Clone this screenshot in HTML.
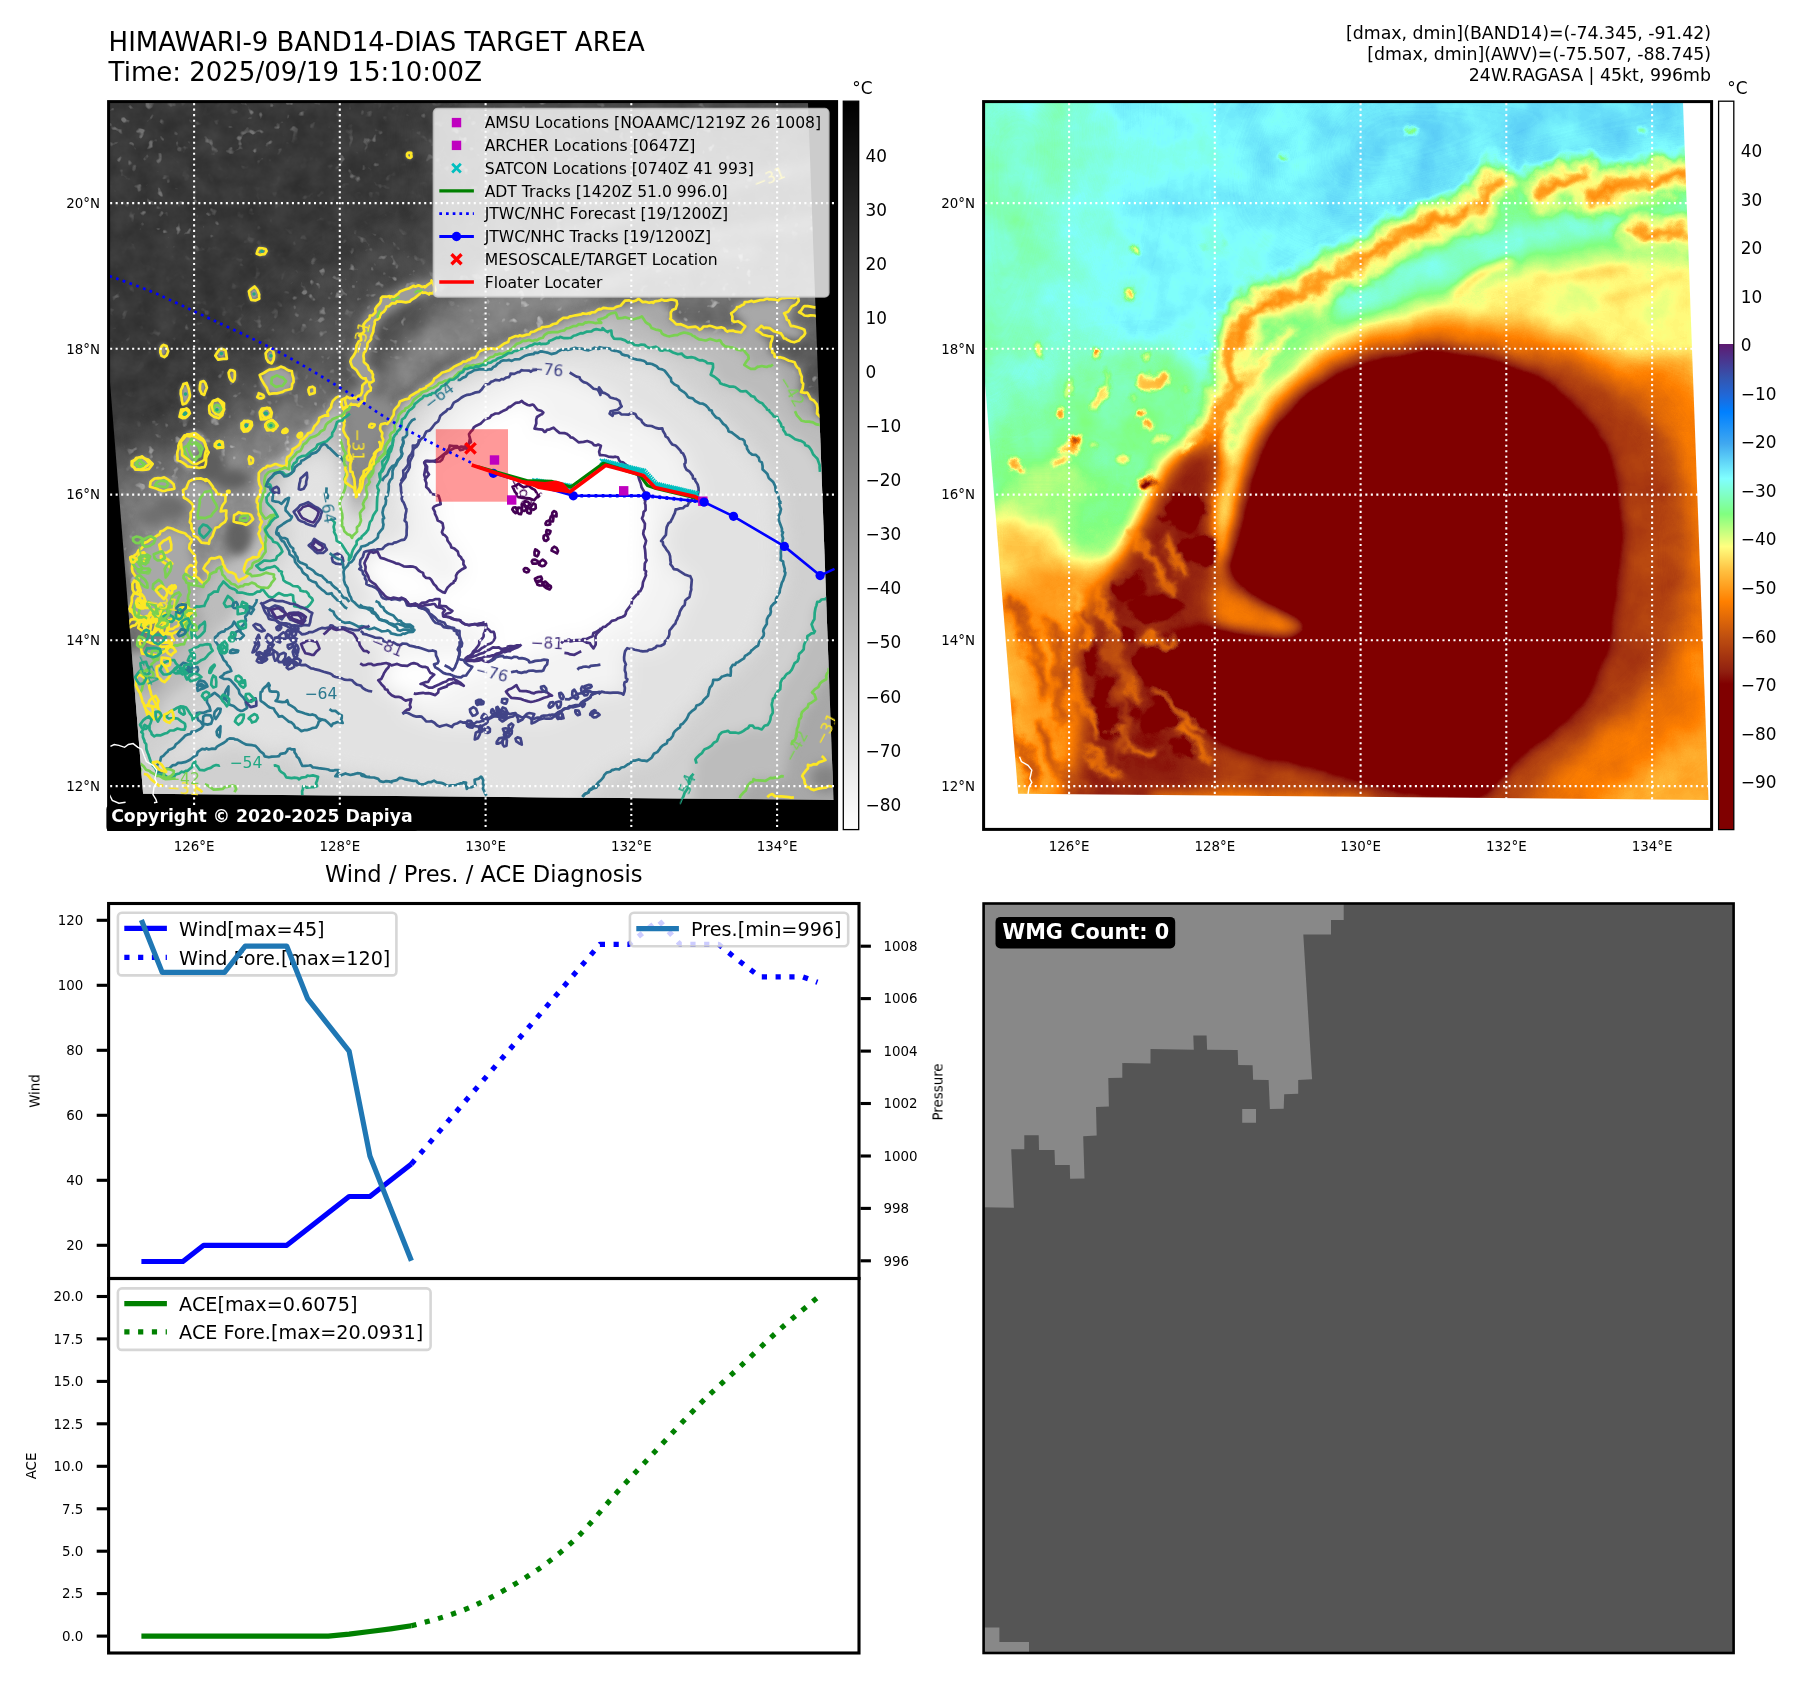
<!DOCTYPE html><html><head><meta charset="utf-8"><title>HIMAWARI-9 BAND14-DIAS TARGET AREA</title><style>html,body{margin:0;padding:0;background:#fff}svg{display:block}text{will-change:opacity;font-family:"DejaVu Sans","Liberation Sans",sans-serif}</style></head><body><svg width="1801" height="1690" viewBox="0 0 1801 1690"><defs><filter id="b2" filterUnits="userSpaceOnUse" x="0" y="0" width="1801" height="900" color-interpolation-filters="sRGB"><feGaussianBlur stdDeviation="2"/></filter><filter id="b3" filterUnits="userSpaceOnUse" x="0" y="0" width="1801" height="900" color-interpolation-filters="sRGB"><feGaussianBlur stdDeviation="3"/></filter><filter id="b4" filterUnits="userSpaceOnUse" x="0" y="0" width="1801" height="900" color-interpolation-filters="sRGB"><feGaussianBlur stdDeviation="4"/></filter><filter id="b6" filterUnits="userSpaceOnUse" x="0" y="0" width="1801" height="900" color-interpolation-filters="sRGB"><feGaussianBlur stdDeviation="6"/></filter><filter id="b8" filterUnits="userSpaceOnUse" x="0" y="0" width="1801" height="900" color-interpolation-filters="sRGB"><feGaussianBlur stdDeviation="8"/></filter><filter id="b10" filterUnits="userSpaceOnUse" x="0" y="0" width="1801" height="900" color-interpolation-filters="sRGB"><feGaussianBlur stdDeviation="10"/></filter><filter id="b12" filterUnits="userSpaceOnUse" x="0" y="0" width="1801" height="900" color-interpolation-filters="sRGB"><feGaussianBlur stdDeviation="12"/></filter><filter id="b20" filterUnits="userSpaceOnUse" x="0" y="0" width="1801" height="900" color-interpolation-filters="sRGB"><feGaussianBlur stdDeviation="20"/></filter><filter id="b25" filterUnits="userSpaceOnUse" x="0" y="0" width="1801" height="900" color-interpolation-filters="sRGB"><feGaussianBlur stdDeviation="25"/></filter><filter id="b30" filterUnits="userSpaceOnUse" x="0" y="0" width="1801" height="900" color-interpolation-filters="sRGB"><feGaussianBlur stdDeviation="30"/></filter><filter id="b40" filterUnits="userSpaceOnUse" x="0" y="0" width="1801" height="900" color-interpolation-filters="sRGB"><feGaussianBlur stdDeviation="40"/></filter><filter id="wig6" filterUnits="userSpaceOnUse" x="60" y="60" width="1720" height="800" color-interpolation-filters="sRGB"><feTurbulence type="fractalNoise" baseFrequency="0.045" numOctaves="3" seed="2" result="t"/><feDisplacementMap in="SourceGraphic" in2="t" scale="22" xChannelSelector="R" yChannelSelector="G"/></filter><filter id="wigc" filterUnits="userSpaceOnUse" x="60" y="60" width="1720" height="800" color-interpolation-filters="sRGB"><feTurbulence type="fractalNoise" baseFrequency="0.06" numOctaves="3" seed="5" result="t"/><feDisplacementMap in="SourceGraphic" in2="t" scale="7" xChannelSelector="R" yChannelSelector="G"/></filter><filter id="wig4" filterUnits="userSpaceOnUse" x="60" y="60" width="1720" height="800" color-interpolation-filters="sRGB"><feTurbulence type="fractalNoise" baseFrequency="0.08" numOctaves="3" seed="9" result="t"/><feDisplacementMap in="SourceGraphic" in2="t" scale="9" xChannelSelector="R" yChannelSelector="G"/></filter><filter id="lut" x="0" y="0" width="1" height="1" filterUnits="objectBoundingBox" color-interpolation-filters="sRGB"><feTurbulence type="fractalNoise" baseFrequency="0.022" numOctaves="5" seed="3" result="n"/><feColorMatrix in="n" type="matrix" values="1 0 0 0 0  1 0 0 0 0  1 0 0 0 0  0 0 0 0 1" result="ng"/><feComposite in="SourceGraphic" in2="ng" operator="arithmetic" k1="0" k2="1" k3="0.09" k4="-0.045" result="f"/><feComponentTransfer in="f"><feFuncR type="table" tableValues="0.074 0.055 0.037 0.018 0.000 0.019 0.039 0.058 0.077 0.097 0.116 0.135 0.154 0.174 0.193 0.212 0.232 0.251 0.268 0.286 0.303 0.321 0.338 0.356 0.373 0.390 0.408 0.425 0.443 0.460 0.478 0.495 0.502 0.502 0.502 0.502 0.502 0.502 0.502 0.502 0.502 0.502 0.502 0.502 0.502 0.502 0.502 0.539 0.576 0.613 0.651 0.688 0.725 0.762 0.799 0.836 0.874 0.911 0.948 0.985 1.000 1.000 1.000 1.000 1.000 1.000 1.000 1.000 1.000 1.000 1.000 1.000 1.000 1.000 1.000 1.000 1.000 1.000 1.000 1.000 1.000 1.000 1.000 0.983 0.966 0.949 0.931 0.914 0.897 0.880 0.863 0.846 0.828 0.811 0.794 0.777 0.760 0.745 0.732 0.719 0.706 0.693 0.680 0.667 0.654 0.641 0.627 0.614 0.601 0.588 0.575 0.562 0.550 0.538 0.526 0.514 0.502 0.502 0.502 0.502 0.502 0.502 0.502 0.502 0.502 0.502 0.502 0.502 0.502 0.502 0.502 0.502 0.502"/><feFuncG type="table" tableValues="0.447 0.460 0.474 0.488 0.502 0.514 0.526 0.538 0.550 0.562 0.574 0.586 0.598 0.611 0.623 0.635 0.647 0.659 0.683 0.706 0.730 0.754 0.777 0.801 0.825 0.848 0.872 0.896 0.919 0.943 0.967 0.991 1.000 1.000 1.000 1.000 1.000 1.000 1.000 1.000 1.000 1.000 1.000 1.000 1.000 1.000 1.000 1.000 1.000 1.000 1.000 1.000 1.000 1.000 1.000 1.000 1.000 1.000 1.000 1.000 0.985 0.960 0.936 0.911 0.886 0.862 0.837 0.812 0.788 0.763 0.741 0.721 0.701 0.681 0.661 0.641 0.621 0.602 0.582 0.562 0.542 0.522 0.502 0.489 0.476 0.463 0.450 0.437 0.424 0.410 0.397 0.384 0.371 0.358 0.345 0.332 0.319 0.306 0.293 0.280 0.267 0.254 0.241 0.227 0.214 0.201 0.188 0.175 0.162 0.149 0.136 0.121 0.097 0.072 0.048 0.024 0.000 0.000 0.000 0.000 0.000 0.000 0.000 0.000 0.000 0.000 0.000 0.000 0.000 0.000 0.000 0.000 0.000"/><feFuncB type="table" tableValues="0.910 0.933 0.955 0.978 1.000 0.995 0.991 0.986 0.982 0.977 0.973 0.968 0.964 0.959 0.955 0.950 0.946 0.941 0.945 0.949 0.953 0.958 0.962 0.966 0.970 0.974 0.978 0.982 0.986 0.990 0.994 0.998 0.980 0.945 0.911 0.877 0.843 0.809 0.775 0.741 0.707 0.673 0.638 0.604 0.570 0.536 0.502 0.502 0.502 0.502 0.502 0.502 0.502 0.502 0.502 0.502 0.502 0.502 0.502 0.502 0.487 0.462 0.437 0.412 0.387 0.361 0.336 0.311 0.286 0.261 0.239 0.219 0.199 0.179 0.159 0.139 0.120 0.100 0.080 0.060 0.040 0.020 0.000 0.004 0.009 0.013 0.017 0.022 0.026 0.031 0.035 0.039 0.044 0.048 0.052 0.057 0.061 0.063 0.063 0.063 0.063 0.063 0.063 0.063 0.063 0.063 0.063 0.063 0.063 0.063 0.063 0.060 0.048 0.036 0.024 0.012 0.000 0.000 0.000 0.000 0.000 0.000 0.000 0.000 0.000 0.000 0.000 0.000 0.000 0.000 0.000 0.000 0.000"/></feComponentTransfer></filter><filter id="tln" filterUnits="userSpaceOnUse" x="60" y="60" width="820" height="800" color-interpolation-filters="sRGB"><feTurbulence type="fractalNoise" baseFrequency="0.045" numOctaves="4" seed="8" result="n"/><feColorMatrix in="n" type="matrix" values="1 0 0 0 0  1 0 0 0 0  1 0 0 0 0  0 0 0 0 1" result="ng"/><feComposite in="SourceGraphic" in2="ng" operator="arithmetic" k1="0" k2="1" k3="0.10" k4="-0.05" result="f1"/><feTurbulence type="fractalNoise" baseFrequency="0.11" numOctaves="2" seed="21" result="s"/><feColorMatrix in="s" type="matrix" values="0 7 0 0 -4.5  0 7 0 0 -4.5  0 7 0 0 -4.5  0 0 0 0 1" result="sp"/><feTurbulence type="fractalNoise" baseFrequency="0.012" numOctaves="2" seed="33" result="lf"/><feColorMatrix in="lf" type="matrix" values="0 0 6 0 -2.7  0 0 6 0 -2.7  0 0 6 0 -2.7  0 0 0 0 1" result="lfm"/><feComposite in="sp" in2="lfm" operator="arithmetic" k1="1" k2="0.07" k3="0" k4="0" result="sp2"/><feComposite in="f1" in2="sp2" operator="arithmetic" k1="0" k2="1" k3="0.22" k4="0"/></filter><clipPath id="cpTL"><path d="M87.5,103.0 L143.1,793.7 L833.5,800.0 L808.0,103.0Z"/></clipPath><clipPath id="cpTR"><path d="M962.5,103.0 L1018.1,793.7 L1708.5,800.0 L1683.0,103.0Z"/></clipPath><clipPath id="axTL"><rect x="108.6" y="101.6" width="728.0" height="727.8"/></clipPath><clipPath id="axTR"><rect x="983.6" y="101.6" width="728.0" height="727.8"/></clipPath></defs><rect width="1801" height="1690" fill="#fff"/><text x="108.6" y="50.8" font-size="26" text-anchor="start" font-weight="normal" fill="#000" >HIMAWARI-9 BAND14-DIAS TARGET AREA</text><text x="108.6" y="80.8" font-size="26" text-anchor="start" font-weight="normal" fill="#000" >Time: 2025/09/19 15:10:00Z</text><text x="1711.0" y="38.8" font-size="17.38" text-anchor="end" font-weight="normal" fill="#000" >[dmax, dmin](BAND14)=(-74.345, -91.42)</text><text x="1711.0" y="59.6" font-size="17.38" text-anchor="end" font-weight="normal" fill="#000" >[dmax, dmin](AWV)=(-75.507, -88.745)</text><text x="1711.0" y="80.6" font-size="17.38" text-anchor="end" font-weight="normal" fill="#000" >24W.RAGASA | 45kt, 996mb</text><text x="483.8" y="881.8" font-size="22.6" text-anchor="middle" font-weight="normal" fill="#000" >Wind / Pres. / ACE Diagnosis</text><rect x="108.6" y="101.6" width="728.0" height="727.8" fill="#000"/><g clip-path="url(#axTL)"><g clip-path="url(#cpTL)"><g filter="url(#tln)"><rect x="60" y="60" width="820" height="800" fill="#383838"/><g filter="url(#b30)"><ellipse cx="560" cy="540" rx="370" ry="320" fill="#565656"/><path d="M430,330 L520,250 L700,180 L880,150 L880,330 L600,320 Z" fill="#747474"/><path d="M430,105 L830,105 L830,250 L600,260 L480,300 Z" fill="#5c5c5c"/><path d="M100,480 L340,390 L360,520 L140,800 Z" fill="#8c8c8c"/></g><path d="M520,275 L470,292 L430,320 L395,355 L375,395 L372,420 L392,405 L420,382 L450,362 L485,345 L520,332 L560,318 L600,306 L600,290 Z" fill="#828282" filter="url(#b8)"/><g filter="url(#b6)" stroke="#8c8c8c" stroke-width="10" fill="none" stroke-linecap="round"><path d="M480,275 Q600,215 760,178 T830,160"/><path d="M640,250 Q730,230 825,222"/><path d="M560,300 Q650,262 760,250"/></g></g><path d="M434.5,286.0 C433.4,286.3 430.4,287.4 428.0,288.0 C425.6,288.6 422.8,289.1 420.2,289.9 C417.6,290.6 415.0,291.6 412.4,292.5 C409.8,293.4 407.2,294.0 404.6,295.1 C402.0,296.2 399.3,297.6 396.7,299.1 C394.1,300.6 391.5,302.5 388.9,304.3 C386.3,306.1 383.5,308.2 381.1,310.1 C378.7,312.1 376.6,313.7 374.6,316.0 C372.7,318.3 370.7,321.0 369.4,323.8 C368.1,326.6 367.7,329.6 366.8,332.9 C365.9,336.1 365.1,339.8 364.2,343.3 C363.3,346.8 362.7,350.4 361.6,353.7 C360.5,356.9 357.5,360.0 357.7,362.8 C357.9,365.6 360.7,368.2 362.9,370.6 C365.1,373.0 369.8,374.8 370.7,377.2 C371.6,379.6 369.4,382.4 368.1,385.0 C366.8,387.6 365.1,390.2 362.9,392.8 C360.7,395.4 357.7,398.9 355.1,400.6 C352.5,402.3 349.7,402.3 347.3,403.2 C344.9,404.1 341.9,405.4 340.8,405.8" fill="none" stroke="#8c8c8c" stroke-width="16" filter="url(#b4)" stroke-linecap="round"/><g filter="url(#b2)" fill="#a0a0a0"><ellipse cx="141.2" cy="463.9" rx="9.9" ry="7.1"/><ellipse cx="162.5" cy="483.8" rx="12.8" ry="6.4"/><ellipse cx="192.4" cy="452.5" rx="13.5" ry="18.5"/><ellipse cx="185.3" cy="413.5" rx="4.0" ry="4.0"/><ellipse cx="217.9" cy="408.5" rx="6.4" ry="7.1"/><ellipse cx="246.3" cy="425.6" rx="5.4" ry="5.4"/><ellipse cx="266.2" cy="413.5" rx="4.5" ry="4.3"/><ellipse cx="271.9" cy="425.6" rx="6.4" ry="4.5"/><ellipse cx="219.3" cy="444.7" rx="4.0" ry="3.1"/><ellipse cx="250.6" cy="461.1" rx="2.3" ry="3.1"/><ellipse cx="243.5" cy="519.3" rx="9.2" ry="6.4"/><ellipse cx="298.9" cy="435.5" rx="2.0" ry="2.0"/><ellipse cx="286.1" cy="430.5" rx="1.4" ry="1.4"/><ellipse cx="227.9" cy="490.9" rx="1.1" ry="1.1"/><ellipse cx="205.1" cy="480.2" rx="1.1" ry="1.1"/><path d="M189.5,483.8 L200.9,479.5 L209.4,485.2 L217.9,493.7 L226.4,493.7 L223.6,502.2 L217.9,510.8 L226.4,512.2 L223.6,520.7 L215.1,527.8 L212.2,536.3 L209.4,543.4 L200.9,542.0 L195.2,533.5 L193.8,523.5 L190.9,513.6 L193.8,505.1 L186.7,499.4 L183.8,490.9Z"/><ellipse cx="261.9" cy="251.3" rx="4.9" ry="4.0"/><ellipse cx="254.0" cy="294.0" rx="4.9" ry="7.2"/><ellipse cx="163.0" cy="350.2" rx="3.6" ry="6.7"/><ellipse cx="221.4" cy="353.6" rx="4.9" ry="5.4"/><ellipse cx="270.9" cy="355.9" rx="4.5" ry="6.3"/><ellipse cx="232.7" cy="376.1" rx="3.1" ry="6.3"/><ellipse cx="277.6" cy="380.6" rx="16.9" ry="13.5"/><ellipse cx="202.3" cy="387.3" rx="3.6" ry="7.2"/><ellipse cx="312.5" cy="390.7" rx="3.1" ry="3.1"/><ellipse cx="185.5" cy="394.1" rx="4.9" ry="11.2"/><ellipse cx="216.9" cy="409.8" rx="6.7" ry="9.0"/><ellipse cx="184.3" cy="414.3" rx="4.5" ry="4.9"/><ellipse cx="259.7" cy="396.3" rx="3.1" ry="2.7"/><ellipse cx="265.3" cy="413.2" rx="6.3" ry="5.8"/><ellipse cx="246.2" cy="425.6" rx="4.9" ry="4.9"/><ellipse cx="270.9" cy="425.6" rx="6.7" ry="4.9"/><ellipse cx="219.2" cy="444.7" rx="4.0" ry="3.1"/><ellipse cx="194.4" cy="448.0" rx="12.4" ry="16.9"/><ellipse cx="140.5" cy="463.8" rx="9.0" ry="6.7"/><ellipse cx="409.2" cy="155.7" rx="2.7" ry="3.1"/><ellipse cx="299.0" cy="435.7" rx="2.2" ry="2.2"/><ellipse cx="372.1" cy="426.7" rx="2.2" ry="1.8"/><ellipse cx="348.5" cy="457.0" rx="2.7" ry="3.1"/><ellipse cx="284.4" cy="431.2" rx="1.3" ry="1.3"/></g><g filter="url(#b4)"><path d="M60.0,830.0 L60.0,660.0 L150.0,650.0 L173.9,640.0 L166.8,630.0 L169.6,621.5 L164.0,613.0 L152.6,621.5 L138.4,618.7 L129.9,610.2 L131.3,598.8 L137.0,588.9 L138.4,578.9 L131.3,570.4 L129.9,559.0 L138.4,550.5 L149.8,540.6 L156.9,534.9 L166.8,529.2 L178.2,532.1 L186.7,533.5 L192.4,536.3 L189.5,549.1 L193.8,564.7 L195.2,577.5 L202.3,583.2 L208.0,574.7 L203.7,567.6 L209.4,560.5 L220.8,556.2 L227.9,570.4 L235.0,576.1 L237.8,584.6 L242.1,581.8 L249.2,573.2 L243.5,567.6 L246.3,560.5 L257.7,556.2 L261.9,544.8 L259.1,534.9 L263.4,520.7 L259.1,510.8 L256.3,499.4 L260.5,488.0 L257.7,479.5 L260.5,471.0 L274.7,462.5 L284.7,465.3 L287.5,456.8 L291.8,448.3 L300.3,441.2 L308.8,434.1 L320.2,418.5 L328.7,414.2 L331.5,402.8 L338.0,396.0 L343.0,400.0 L345.0,420.0 L348.0,440.0 L350.0,460.0 L352.0,480.0 L356.0,497.0 L360.3,480.0 L362.9,470.9 L368.1,465.7 L373.3,455.3 L378.5,447.5 L381.1,439.6 L378.5,429.2 L381.1,424.0 L388.9,420.1 L394.1,411.0 L400.6,400.6 L407.2,398.0 L420.2,388.9 L433.2,379.8 L446.2,370.6 L459.2,364.1 L472.2,356.3 L485.3,349.8 L498.3,345.9 L510.0,340.7 L528.5,333.4 L546.5,326.6 L564.4,319.9 L582.4,314.2 L601.5,308.6 L614.0,308.0 L640.0,301.0 L660.0,300.0 L670.0,308.0 L672.0,320.0 L690.0,326.0 L715.0,329.0 L742.0,330.0 L745.0,323.0 L733.0,313.0 L738.0,303.0 L760.0,300.0 L796.0,298.0 L790.0,312.0 L787.0,322.0 L805.0,330.0 L800.0,340.0 L780.0,336.0 L762.0,328.0 L758.0,334.0 L770.0,340.0 L770.0,352.0 L785.0,360.0 L800.0,368.0 L802.0,385.0 L799.0,392.0 L812.0,397.0 L817.0,405.0 L816.0,414.0 L822.0,418.0 L860.0,420.0 L860.0,830.0Z" fill="#a8a8a8"/></g><g filter="url(#b6)"><path d="M60.0,830.0 L60.0,700.0 L160.0,690.0 L168.0,660.0 L185.0,640.0 L205.0,625.0 L196.0,600.0 L215.0,570.0 L250.0,545.0 L262.0,520.0 L258.0,495.0 L268.0,470.0 L290.0,455.0 L300.0,440.0 L318.0,425.0 L330.0,410.0 L340.0,412.0 L344.0,440.0 L346.0,470.0 L352.0,500.0 L358.0,505.0 L368.1,480.0 L373.3,470.9 L378.5,460.5 L385.0,448.8 L388.9,435.7 L394.1,422.7 L400.6,411.0 L413.7,399.3 L433.2,386.3 L459.2,372.0 L485.3,360.2 L510.0,349.8 L537.5,337.9 L564.4,328.9 L582.4,324.4 L601.5,319.9 L600.0,317.6 L614.2,312.0 L618.5,318.3 L641.2,317.6 L652.5,326.9 L668.2,336.8 L685.2,334.7 L699.4,338.9 L719.3,339.6 L727.8,345.3 L742.0,351.0 L749.1,356.7 L746.3,365.2 L753.4,368.8 L774.7,364.5 L790.0,400.0 L794.5,409.2 L801.6,416.3 L821.5,424.8 L860.0,425.0 L860.0,665.0 L829.8,667.4 L825.3,680.9 L814.1,689.9 L816.3,696.6 L802.8,712.4 L796.1,730.3 L789.3,746.1 L787.0,760.0 L784.8,777.6 L769.1,779.8 L753.3,779.8 L739.8,797.8 L740.0,830.0Z" fill="#bcbcbc"/><path d="M60.0,830.0 L60.0,735.0 L150.0,730.0 L165.0,700.0 L190.0,680.0 L215.0,650.0 L235.0,615.0 L245.0,580.0 L268.0,560.0 L275.0,530.0 L270.0,500.0 L285.0,475.0 L305.0,455.0 L325.0,440.0 L336.0,450.0 L340.0,480.0 L346.0,510.0 L360.0,520.0 L372.0,500.0 L381.1,480.0 L383.7,468.3 L387.6,455.3 L392.8,442.2 L398.0,429.2 L403.3,418.8 L411.1,407.1 L426.7,395.4 L446.2,382.4 L465.7,370.6 L485.3,364.1 L510.0,353.7 L537.5,344.6 L564.4,336.7 L582.4,333.4 L601.5,330.0 L600.0,329.0 L611.4,331.1 L614.2,338.2 L628.4,341.1 L642.6,344.6 L663.9,349.6 L685.2,356.0 L702.2,360.9 L713.6,365.9 L712.2,373.7 L720.7,384.4 L734.9,388.6 L753.4,396.4 L763.3,407.8 L777.5,419.2 L784.6,430.5 L798.8,440.5 L810.2,449.0 L817.3,461.8 L821.5,471.7 L860.0,472.0 L860.0,595.0 L827.5,595.4 L816.3,604.4 L811.8,622.4 L816.3,629.2 L807.3,635.9 L800.6,651.6 L793.8,667.4 L784.8,678.6 L773.6,701.1 L771.3,719.1 L762.3,730.3 L753.3,725.9 L739.8,732.6 L721.9,734.8 L708.4,746.1 L694.9,759.6 L694.9,764.1 L690.0,830.0Z" fill="#d0d0d0"/></g><g filter="url(#b10)"><path d="M488.0,830.0 L488.0,798.0 L369.9,777.2 L337.9,774.6 L329.9,767.9 L301.9,766.6 L299.2,759.9 L289.9,746.6 L273.9,757.2 L256.6,747.9 L233.9,739.9 L223.3,743.9 L196.6,753.3 L180.6,762.6 L159.3,769.2 L156.7,763.9 L166.0,754.6 L183.3,738.6 L203.3,725.3 L198.0,714.6 L210.0,709.3 L208.6,699.9 L223.3,699.9 L239.3,710.6 L245.9,698.6 L233.9,685.3 L220.6,677.3 L231.3,672.0 L228.6,662.6 L223.3,657.3 L215.3,638.6 L228.6,626.7 L239.3,629.3 L247.3,608.0 L257.9,600.0 L262.0,582.0 L280.0,564.0 L287.0,550.0 L291.0,532.0 L287.0,519.0 L280.0,501.0 L285.0,480.0 L300.0,462.0 L320.0,452.0 L336.0,462.0 L342.0,490.0 L350.0,520.0 L365.0,525.0 L378.0,505.0 L383.7,480.0 L387.6,474.8 L394.1,465.7 L400.6,455.3 L403.3,442.2 L407.2,433.1 L412.4,421.4 L417.6,418.2 L425.4,407.1 L439.7,392.8 L459.2,378.5 L485.3,369.3 L510.0,360.2 L537.5,353.6 L564.4,349.1 L582.4,348.0 L601.5,349.1 L600.0,348.2 L621.3,355.3 L642.6,359.5 L656.8,365.2 L671.0,378.0 L685.2,390.8 L699.4,402.1 L713.6,412.1 L727.8,424.8 L742.0,439.0 L750.5,451.8 L756.2,454.7 L763.3,464.6 L770.4,478.8 L774.7,490.2 L781.8,501.5 L781.9,501.0 L778.1,521.2 L784.8,539.2 L780.3,559.4 L784.8,572.9 L780.3,590.9 L771.3,608.9 L766.8,622.4 L762.3,640.4 L748.8,656.1 L733.1,667.4 L730.9,676.4 L712.9,678.6 L708.4,694.4 L694.9,707.9 L685.9,716.9 L672.4,734.8 L658.9,750.6 L649.9,757.3 L631.9,761.8 L613.9,770.8 L595.9,784.3 L582.4,797.8 L582.0,830.0Z" fill="#e2e2e2"/><path d="M402.0,480.0 L404.6,470.9 L407.2,463.1 L411.1,455.3 L413.7,447.5 L420.2,442.2 L426.7,435.7 L433.2,429.2 L439.7,420.1 L451.4,409.7 L452.7,404.5 L459.2,400.6 L472.2,394.1 L485.3,386.3 L498.3,381.1 L510.0,374.6 L510.5,373.8 L521.7,370.5 L537.5,368.2 L568.9,375.0 L582.4,380.6 L595.9,387.3 L601.5,391.8 L600.0,386.5 L608.5,392.2 L618.5,400.7 L622.7,406.4 L615.6,410.6 L607.1,414.9 L609.9,417.7 L618.5,414.9 L631.2,412.1 L639.8,416.3 L649.7,423.4 L661.1,429.1 L668.2,437.6 L673.8,444.7 L683.8,451.8 L688.0,457.5 L685.2,463.2 L688.0,470.3 L696.6,481.6 L700.8,488.7 L698.0,494.4 L690.9,501.5 L688.0,507.2 L673.8,508.6 L671.0,520.0 L663.4,539.2 L667.9,554.9 L672.4,566.2 L681.4,572.9 L690.4,577.4 L692.6,590.9 L685.9,599.9 L679.1,611.2 L676.9,622.4 L670.1,633.7 L663.4,644.9 L645.4,651.6 L627.4,647.1 L625.2,660.6 L625.2,678.6 L622.9,694.4 L604.9,692.1 L586.9,698.9 L566.7,710.1 L548.7,714.6 L533.0,719.1 L515.0,714.6 L492.5,719.1 L470.0,723.6 L586.5,698.6 L573.2,705.3 L559.9,713.3 L546.6,718.6 L531.9,722.6 L533.2,715.9 L527.9,714.6 L519.9,719.9 L514.6,713.3 L506.6,711.9 L499.9,709.3 L498.6,715.9 L487.9,718.6 L485.3,723.9 L473.3,727.9 L466.6,722.6 L453.3,725.3 L440.0,723.9 L429.3,719.9 L416.0,715.9 L404.0,713.3 L406.7,667.2 L386.8,653.0 L372.6,641.6 L358.4,631.7 L347.0,621.8 L358.4,610.4 L376.9,603.3 L389.6,601.9 L379.7,597.6 L368.3,583.4 L358.4,570.6 L364.1,555.0 L384.0,546.5 L406.7,536.6 L408.1,525.2 L402.4,499.6 L405.3,475.5 L413.8,451.4 L420.9,440.0Z" fill="#f3f3f3"/><path d="M422.8,480.0 L426.7,474.8 L424.1,470.9 L422.8,463.1 L433.2,460.5 L439.7,455.3 L446.2,451.4 L450.1,444.8 L456.6,443.5 L459.2,450.1 L468.3,442.2 L468.3,438.3 L470.9,429.2 L476.1,422.7 L485.3,418.8 L498.3,412.3 L510.0,407.1 L510.5,407.6 L521.7,403.1 L537.5,406.4 L544.2,412.1 L537.5,418.8 L533.0,427.8 L542.0,432.3 L555.5,427.8 L564.4,432.3 L575.7,439.1 L586.9,441.3 L601.5,445.8 L600.0,452.5 L614.2,456.1 L624.1,463.2 L635.5,471.7 L641.2,481.6 L644.0,493.0 L645.4,507.2 L645.4,520.0 L647.6,523.5 L645.4,532.5 L643.2,554.9 L645.4,577.4 L640.9,590.9 L631.9,604.4 L622.9,617.9 L604.9,626.9 L591.4,635.9 L577.9,640.4 L568.9,638.2 L453.3,682.6 L434.6,695.9 L413.3,693.3 L389.3,692.0 L378.7,678.6 L389.3,665.3 L368.0,662.6 L472.0,655.8 L493.3,638.8 L486.2,626.0 L469.2,624.6 L443.6,617.5 L439.3,604.7 L429.4,600.5 L410.9,603.3 L391.1,600.5 L376.9,587.7 L365.5,570.6 L369.8,553.6 L389.6,559.3 L415.2,566.4 L432.2,579.2 L443.6,590.5 L457.8,580.6 L466.3,567.8 L453.5,547.9 L442.2,532.3 L436.5,516.7 L439.3,503.9 L430.8,494.0 L422.3,471.2 L429.4,461.3 L449.3,449.9 L466.3,447.1 L467.7,440.0Z" fill="#ffffff"/></g><ellipse cx="826" cy="778" rx="16" ry="14" fill="#848484" filter="url(#b6)"/><g filter="url(#b4)"><path d="M343,398 L362,392 L392,402 L398,410 L386,428 L378,450 L368,470 L358,494 L352,470 L348,440 Z" fill="#8a8a8a"/><ellipse cx="209.4" cy="463.9" rx="15.6" ry="17.0" fill="#5e5e5e"/><ellipse cx="232.1" cy="479.5" rx="17.0" ry="9.9" fill="#606060"/><ellipse cx="237.8" cy="536.3" rx="12.8" ry="18.5" fill="#626262"/><ellipse cx="169.6" cy="507.9" rx="17.0" ry="11.4" fill="#6c6c6c"/><ellipse cx="152.6" cy="516.4" rx="12.8" ry="9.9" fill="#707070"/></g><g fill="none" stroke-width="2.7" stroke-linejoin="round"><path d="M431.5,280.5 432.2,282.2 430.7,282.8 426.9,285.4 425.0,287.2 424.7,286.3 422.1,287.0 418.5,285.3 415.3,286.7 413.7,285.8 409.3,288.2 405.1,289.5 400.1,291.4 398.3,293.8 396.9,294.6 394.1,297.0 391.0,296.3 390.1,297.6 389.5,296.0 386.5,296.7 382.6,296.5 380.9,298.2 381.0,300.5 379.9,303.2 376.9,306.3 375.2,308.9 375.5,311.9 374.9,313.1 372.3,315.4 369.8,315.7 369.7,317.8 369.0,318.9 365.8,321.5 363.5,324.6 363.6,328.2 364.3,331.0 362.8,333.3 360.8,333.9 359.1,335.5 360.7,336.1 361.2,340.1 358.7,341.4 356.7,345.2 356.5,346.0 356.1,349.4 355.7,351.9 353.7,355.6 351.2,358.8 350.3,361.6 351.3,364.5 352.5,367.2 354.3,368.4 356.5,370.1 358.4,373.7 361.0,377.0 362.7,378.3 365.8,378.4 365.3,379.0 367.0,380.9 367.0,381.2 364.5,383.3 362.4,385.4 362.1,389.9 362.1,392.0 360.6,395.2 357.8,396.0 356.5,397.8 356.3,398.4 353.9,397.6 349.9,398.4 346.8,396.6 346.0,398.1 345.1,398.1 341.4,400.0 341.4,405.0 342.9,407.8 342.8,408.8 345.8,407.5 349.7,405.9 351.2,403.8 350.4,405.0 351.9,404.6 356.2,404.7 358.7,406.0 359.0,404.0 359.4,404.6 362.1,401.7 364.7,401.2 365.0,397.2 365.2,395.7 367.9,391.7 370.6,390.6 370.9,387.7 369.7,386.3 369.1,382.7 371.2,382.5 373.6,380.9 373.4,379.1 372.7,377.4 373.0,374.4 371.6,372.3 371.9,371.7 369.1,369.9 367.7,365.4 363.8,361.9 363.9,359.0 363.4,356.1 363.9,352.9 365.5,351.2 366.9,347.5 367.3,346.7 367.5,343.5 368.2,342.4 370.1,340.5 371.1,339.1 371.0,336.9 371.9,334.9 373.3,331.6 373.6,327.6 374.8,323.7 374.6,321.6 375.5,320.0 377.6,319.5 379.7,317.6 379.7,316.5 381.2,313.3 383.9,311.6 385.6,309.3 386.5,306.6 388.8,306.2 392.2,303.1 395.5,303.4 396.8,301.3 397.7,301.7 401.4,301.7 405.8,302.3 409.5,301.7 411.5,299.7 414.9,297.9 418.3,295.0 419.5,294.1 421.3,291.6 422.7,292.8 425.2,292.5 428.0,293.7 429.0,294.5 429.7,293.2 432.3,293.5 435.4,290.3 434.9,288.1 433.7,285.0Z" stroke="#fde725" fill="#9c9c9c"/><path d="M422.4,289.5 419.8,291.4 417.6,290.8 415.2,292.3 412.0,292.1 408.1,293.4 404.4,294.4 401.7,296.3 397.9,297.6 394.3,299.4 392.8,299.6 390.0,301.9 385.3,302.5 383.4,305.7 382.5,309.0 379.4,311.4 377.9,315.4 377.9,316.4 375.7,318.8 372.9,320.1 372.5,321.2 371.3,324.1 368.4,325.3 367.7,329.1 368.5,332.3" stroke="#7ad151" stroke-width="2.2" stroke-dasharray="9 16"/><path d="M152.7,463.9 150.7,466.6 148.7,469.1 146.0,469.6 142.2,469.8 139.1,469.6 135.8,469.5 134.3,467.5 132.0,465.8 132.7,461.6 134.9,459.8 136.3,457.8 138.8,457.6 142.5,457.2 145.1,458.8 148.6,459.9 150.4,461.7Z" stroke="#fde725"/><path d="M145.0,464.4 143.2,466.3 139.7,467.5 137.3,464.8 137.1,462.1 139.6,459.7 142.5,462.4Z" stroke="#7ad151"/><path d="M173.6,484.3 174.4,488.6 171.4,489.4 167.8,489.8 164.5,491.0 162.1,490.8 158.8,489.7 156.2,488.5 152.6,487.5 149.9,486.8 150.6,481.7 153.1,479.6 154.8,478.5 158.0,478.2 161.2,478.3 164.2,477.3 166.9,478.9 170.4,481.3Z" stroke="#fde725"/><path d="M168.2,484.7 166.0,487.3 160.2,486.4 158.1,485.9 155.1,485.6 156.6,482.7 159.6,481.0 163.6,480.9 166.8,481.8Z" stroke="#7ad151"/><path d="M208.7,452.4 207.1,455.4 206.1,458.1 206.1,461.4 205.8,464.2 204.5,467.1 201.9,467.4 199.1,468.0 197.5,467.6 195.2,467.2 191.5,467.0 187.2,466.3 185.2,464.3 182.3,462.4 180.2,461.3 177.5,460.0 177.5,457.5 177.2,454.0 177.5,451.6 178.5,448.6 178.4,446.0 179.4,442.9 180.9,440.6 183.0,437.5 184.5,435.3 187.1,435.8 190.0,436.3 193.9,436.0 196.9,437.6 200.6,439.6 203.1,440.7 204.7,442.9 205.5,446.0 206.9,448.9 207.4,450.6Z" stroke="#fde725"/><path d="M201.0,452.8 199.1,455.9 196.0,459.2 193.9,461.3 191.8,463.6 189.7,460.3 186.8,457.3 186.0,454.2 184.6,451.3 184.1,447.4 187.4,445.7 190.4,443.7 193.6,444.6 197.1,444.2 198.5,446.9 199.5,449.8Z" stroke="#7ad151"/><path d="M189.5,412.4 188.3,415.0 186.0,416.7 183.3,416.8 181.4,415.3 182.0,412.2 183.6,410.6 186.7,408.4 188.6,410.1Z" stroke="#fde725"/><circle cx="185.3" cy="413.5" r="2" fill="#22a884" stroke="none"/><path d="M223.8,408.1 222.3,412.0 220.0,415.0 215.8,414.0 213.0,410.7 211.9,405.9 212.4,402.8 213.2,400.8 219.2,399.8 224.0,403.4Z" stroke="#fde725"/><path d="M221.8,408.2 219.8,410.6 218.1,412.1 215.2,410.5 214.4,406.4 216.7,405.0 219.6,406.0Z" stroke="#7ad151"/><path d="M252.0,425.3 250.0,429.1 247.9,431.1 243.7,431.6 241.6,428.3 241.5,423.4 244.4,421.7 247.7,420.8 251.5,421.7Z" stroke="#fde725"/><circle cx="246.3" cy="425.6" r="2" fill="#22a884" stroke="none"/><path d="M271.4,413.0 269.6,416.1 266.1,418.1 263.2,416.7 262.2,414.6 260.9,412.2 263.5,409.6 267.2,407.8 269.3,409.7Z" stroke="#fde725"/><circle cx="266.2" cy="413.5" r="2" fill="#22a884" stroke="none"/><path d="M277.7,425.7 275.6,428.0 273.1,430.8 269.7,428.9 265.4,426.8 266.3,424.4 269.0,422.0 272.6,420.4 275.9,423.2Z" stroke="#fde725"/><path d="M273.9,425.7 273.4,427.9 271.6,427.9 269.0,426.7 268.3,424.4 270.7,423.1 274.4,423.4Z" stroke="#7ad151"/><path d="M222.9,444.5 223.0,447.5 220.5,447.6 217.0,448.1 216.2,445.5 216.2,443.8 216.8,441.5 219.4,441.2 222.5,441.9Z" stroke="#fde725"/><circle cx="219.3" cy="444.7" r="2" fill="#22a884" stroke="none"/><path d="M253.1,460.5 252.5,462.8 251.2,463.6 249.6,463.9 249.3,461.4 248.7,459.0 249.4,456.5 251.5,457.5 252.8,458.5Z" stroke="#fde725"/><path d="M253.1,519.2 249.8,522.6 247.9,524.0 246.1,524.9 243.3,523.7 240.6,523.1 237.0,522.7 233.6,521.5 234.1,515.3 236.7,513.9 238.5,512.2 242.0,513.4 245.5,513.6 248.8,514.0 251.0,514.9Z" stroke="#fde725"/><path d="M247.8,518.4 246.5,520.6 243.9,520.7 239.7,519.9 240.5,517.4 242.8,515.8 247.9,515.5Z" stroke="#7ad151"/><path d="M301.7,434.7 301.1,436.3 299.6,437.4 298.4,436.9 297.9,436.2 297.8,435.0 299.2,433.9 300.7,433.1 301.8,433.5Z" stroke="#fde725"/><path d="M287.5,430.2 287.4,431.4 286.5,432.4 285.2,432.0 284.6,431.3 284.4,430.2 285.0,429.2 285.8,428.6 286.9,429.3Z" stroke="#fde725"/><path d="M229.5,491.7 229.5,492.4 228.7,492.6 227.6,492.4 227.1,491.8 227.0,491.4 227.5,491.1 228.3,490.8 229.3,490.9Z" stroke="#fde725"/><path d="M207.1,480.2 207.0,480.6 206.2,480.8 205.4,480.8 205.2,480.2 205.2,479.7 205.6,479.3 206.5,479.4 207.1,479.8Z" stroke="#fde725"/><path d="M189.0,481.5 192.4,479.8 196.5,478.6 198.5,478.6 201.0,478.4 205.7,480.3 208.5,480.9 210.8,483.9 212.9,486.8 213.1,488.0 215.6,490.4 217.4,494.1 220.1,494.2 222.0,495.0 226.8,494.5 225.5,496.6 225.4,499.5 225.4,501.5 222.6,505.2 221.4,508.2 220.7,511.5 222.6,511.2 225.2,510.7 226.4,510.6 226.0,515.3 226.5,518.7 225.0,521.8 222.0,523.9 220.5,525.1 219.0,527.0 215.6,527.7 214.3,530.7 213.8,532.1 212.5,536.0 209.6,540.0 208.9,543.8 206.9,543.0 205.7,543.1 201.5,542.7 199.9,540.7 197.3,537.4 193.7,535.7 193.8,532.9 191.5,528.5 191.4,524.1 189.8,522.2 190.7,517.0 190.6,512.8 193.0,509.5 193.1,508.3 193.1,505.5 191.6,503.2 187.9,500.0 185.8,498.7 183.9,497.7 183.6,494.4 183.0,490.1 186.3,488.3 187.7,484.5Z" stroke="#fde725"/><path d="M217.3,507.9 215.2,510.6 212.7,513.4 211.1,516.1 208.5,516.8 205.0,518.2 200.8,517.6 198.2,518.5 197.7,515.2 198.0,512.2 198.9,508.2 199.3,505.3 199.9,502.3 199.6,499.9 201.1,496.9 203.4,494.5 205.2,491.8 208.0,491.3 210.5,490.7 211.4,493.0 211.8,496.5 213.1,499.3 214.2,501.5 216.1,504.4Z" stroke="#7ad151"/><path d="M210.8,529.7 207.5,534.0 203.7,537.7 201.2,535.3 199.5,533.3 199.3,530.4 199.6,528.3 203.1,524.5 207.2,525.9Z" stroke="#22a884"/><path d="M266.6,251.1 264.7,254.1 262.1,254.4 260.1,255.0 256.7,253.7 257.7,250.4 259.1,248.0 262.3,248.3 265.6,249.1Z" stroke="#fde725"/><circle cx="261.9" cy="251.3" r="1.8" fill="#22a884" stroke="none"/><path d="M259.2,294.4 259.0,296.4 259.3,298.8 255.3,300.5 251.2,299.8 249.6,295.1 248.9,291.3 251.2,289.1 254.5,286.5 257.2,289.6Z" stroke="#fde725"/><circle cx="254.0" cy="294.0" r="1.8" fill="#22a884" stroke="none"/><path d="M168.2,351.2 166.8,355.1 164.3,357.1 161.5,355.8 160.3,352.2 160.4,348.9 162.0,345.9 163.6,344.9 166.5,346.1Z" stroke="#fde725"/><path d="M226.2,354.3 226.9,358.8 223.1,358.9 218.2,359.6 215.3,355.7 217.1,352.7 219.3,349.5 222.2,348.9 225.5,350.3Z" stroke="#fde725"/><circle cx="221.4" cy="353.6" r="1.8" fill="#22a884" stroke="none"/><path d="M274.0,355.5 273.6,359.7 271.7,363.4 268.4,362.0 266.3,358.3 265.6,353.4 268.1,350.0 271.3,348.5 273.4,352.1Z" stroke="#fde725"/><circle cx="270.9" cy="355.9" r="1.8" fill="#22a884" stroke="none"/><path d="M234.9,375.5 234.5,379.2 233.0,381.5 231.0,380.4 229.3,376.9 228.6,372.7 230.2,370.0 232.8,370.4 234.7,371.7Z" stroke="#fde725"/><path d="M293.6,381.9 292.2,383.9 291.9,386.5 291.3,389.0 288.0,389.7 284.8,390.5 282.8,391.9 280.5,392.5 276.9,393.4 274.2,393.3 271.5,393.6 269.3,394.2 268.0,391.9 266.8,388.1 264.5,384.8 263.1,382.4 261.1,378.9 259.7,375.0 262.8,373.6 265.4,372.0 267.1,370.9 269.3,369.7 272.9,369.5 276.1,368.7 278.1,368.1 280.8,366.6 284.1,367.7 286.7,369.5 289.1,370.7 291.8,371.0 292.3,374.6 293.4,378.2Z" stroke="#fde725"/><path d="M286.1,381.2 284.6,383.2 282.4,386.0 279.5,386.0 276.2,387.0 274.1,385.7 271.3,383.5 271.9,377.7 274.2,376.8 276.9,375.4 279.8,376.9 282.7,377.4 284.2,379.1Z" stroke="#7ad151"/><path d="M206.9,387.8 205.2,391.6 204.2,394.9 201.8,393.8 199.8,389.6 200.0,385.3 200.7,382.0 203.7,381.0 205.4,383.3Z" stroke="#fde725"/><path d="M314.6,390.9 314.7,392.9 312.2,393.7 309.7,394.5 308.8,392.3 308.4,389.7 309.3,387.6 312.4,386.7 314.6,388.1Z" stroke="#fde725"/><path d="M189.9,395.0 189.6,397.0 188.4,399.8 186.0,403.2 182.7,404.4 182.3,402.3 181.8,400.1 181.6,397.6 180.7,394.0 180.9,390.0 182.4,387.1 183.4,384.1 186.7,383.0 187.5,385.6 188.7,388.7 189.3,391.8Z" stroke="#fde725"/><circle cx="185.5" cy="394.1" r="1.8" fill="#22a884" stroke="none"/><path d="M224.2,409.4 223.0,412.0 222.3,415.2 218.8,418.3 213.9,416.6 211.7,415.2 209.7,413.3 209.2,409.5 209.3,405.9 211.3,403.6 212.6,401.4 217.9,399.0 220.0,401.6 222.0,404.2 223.1,406.8Z" stroke="#fde725"/><circle cx="216.9" cy="409.8" r="1.8" fill="#22a884" stroke="none"/><path d="M189.9,413.3 187.1,416.4 185.2,417.9 182.4,418.1 179.5,416.8 180.4,413.2 181.2,409.6 185.5,409.0 187.6,410.7Z" stroke="#fde725"/><circle cx="184.3" cy="414.3" r="1.8" fill="#22a884" stroke="none"/><path d="M263.8,396.5 263.3,397.7 261.2,398.4 259.4,398.4 257.2,397.1 258.3,395.2 258.8,393.2 261.0,394.0 263.1,394.9Z" stroke="#fde725"/><path d="M271.8,412.6 271.0,417.1 265.6,419.1 261.0,419.5 260.1,415.0 259.8,412.1 262.0,408.5 266.3,408.0 269.6,408.1Z" stroke="#fde725"/><circle cx="265.3" cy="413.2" r="1.8" fill="#22a884" stroke="none"/><path d="M250.3,425.1 249.1,427.8 247.2,429.0 244.4,430.5 243.3,427.4 243.0,424.4 244.1,420.9 247.4,421.4 250.6,422.6Z" stroke="#fde725"/><circle cx="246.2" cy="425.6" r="1.8" fill="#22a884" stroke="none"/><path d="M277.1,425.8 275.5,428.7 271.8,430.0 267.2,430.4 265.5,426.6 265.3,424.4 267.6,421.7 271.8,419.7 275.3,422.8Z" stroke="#fde725"/><circle cx="270.9" cy="425.6" r="1.8" fill="#22a884" stroke="none"/><path d="M222.5,444.5 223.0,447.5 220.3,447.4 217.2,447.5 214.7,446.2 214.9,443.7 217.5,442.3 219.4,440.8 221.4,442.4Z" stroke="#fde725"/><path d="M206.9,449.2 205.8,451.4 205.1,454.0 204.8,456.5 204.4,459.9 202.2,461.1 199.2,462.6 196.7,464.2 194.9,463.8 192.6,463.1 190.1,461.6 187.3,459.0 185.0,457.3 182.1,455.1 182.2,450.9 181.3,447.9 181.2,444.6 180.8,441.8 183.4,438.8 185.3,436.7 187.0,434.4 190.2,434.3 192.8,433.6 195.4,433.4 197.9,435.1 200.5,437.4 202.8,439.1 204.1,441.0 205.1,443.4 205.9,446.6Z" stroke="#fde725"/><path d="M202.6,448.5 201.3,451.3 200.8,453.5 200.1,456.2 196.3,457.0 192.9,457.9 191.0,454.3 189.4,451.2 188.4,448.1 188.3,444.3 190.0,441.7 191.7,438.8 194.2,441.4 197.5,443.5 200.4,445.4Z" stroke="#7ad151"/><path d="M150.1,463.5 147.2,465.7 145.1,466.8 141.2,469.4 138.4,469.6 135.3,469.5 134.0,467.4 131.8,465.7 131.7,461.3 134.7,460.3 137.0,458.6 138.8,457.7 141.9,456.4 144.1,458.2 146.7,460.2 148.0,461.9Z" stroke="#fde725"/><path d="M144.1,464.4 142.6,466.0 139.1,466.6 135.6,464.5 136.9,462.3 139.2,459.9 141.7,462.4Z" stroke="#7ad151"/><path d="M411.3,154.9 411.5,157.0 410.2,157.9 408.2,157.5 407.1,156.2 407.0,154.2 407.8,152.8 409.6,152.7 411.2,152.8Z" stroke="#fde725"/><path d="M302.1,434.8 301.6,436.7 299.7,437.4 298.4,437.2 297.8,436.4 298.2,435.3 299.0,433.6 301.0,432.8 301.8,433.6Z" stroke="#fde725"/><path d="M374.5,425.5 373.7,426.4 372.4,427.6 371.0,427.5 369.3,427.0 369.4,425.4 370.8,423.9 372.9,424.0 374.7,424.5Z" stroke="#fde725"/><path d="M351.5,458.1 351.3,460.2 349.5,460.5 347.8,459.9 347.1,458.5 346.2,456.0 348.1,455.5 349.3,455.1 350.3,455.9Z" stroke="#fde725"/><path d="M285.7,431.5 285.4,432.7 284.1,433.0 283.0,432.9 282.3,432.2 282.5,431.2 283.3,430.0 284.3,429.6 284.9,430.6Z" stroke="#fde725"/><path d="M174.7,641.2 172.4,637.5 171.4,634.1 168.6,633.1 166.5,631.5 167.7,626.8 168.2,624.3 168.8,620.6 166.0,619.6 165.3,617.6 164.8,613.2 163.3,613.8 162.4,615.9 159.4,616.7 155.9,619.8 154.3,621.2 153.0,622.4 148.4,622.8 144.8,620.8 139.7,619.2 137.6,619.9 134.7,618.4 134.0,615.0 131.9,612.1 130.3,611.2 129.6,609.3 131.0,604.6 131.9,601.3 131.9,597.2 132.7,595.7 134.0,593.0 136.9,592.5 138.8,589.9 137.1,587.7 136.9,583.0 138.5,578.0 135.5,576.1 134.5,574.7 132.6,571.9 132.0,568.8 132.2,566.2 133.1,563.2 131.4,561.1 131.3,556.7 133.5,556.2 136.3,554.1 137.1,553.4 138.3,550.7 141.4,548.4 143.3,546.2 144.2,542.9 147.2,541.9 150.5,539.4 151.9,538.7 154.4,537.3 158.1,535.0 159.7,534.2 160.5,531.5 163.6,530.4 167.4,527.6 170.1,528.0 172.7,528.7 175.3,530.1 178.7,531.5 181.5,532.4 183.8,533.0 185.2,533.5 187.4,535.9 189.6,537.1 190.3,539.0 191.7,539.3 191.3,542.2 189.6,544.4 189.2,548.3 191.6,551.4 192.4,552.5 194.9,555.4 195.0,559.5 196.2,562.3 195.5,564.8 194.8,567.5 194.2,570.3 194.5,575.2 195.9,576.9 198.1,577.9 200.4,580.8 203.7,583.7 205.4,582.1 208.4,579.5 209.1,575.5 207.5,572.1 205.0,570.3 203.5,568.7 205.7,564.7 208.6,561.8 209.6,559.4 211.1,558.2 215.2,558.3 219.3,556.9 220.6,557.1 221.5,558.8 222.8,561.7 223.1,564.5 224.5,566.0 224.7,567.5 226.6,570.0 228.6,572.1 231.7,572.5 235.3,574.4 236.5,578.1 238.6,580.7 238.5,581.4 241.2,579.0 242.9,578.6 245.8,576.8 247.2,575.7 247.9,573.9 247.3,573.5 244.8,572.1 243.8,569.4 245.3,564.3 247.2,560.2 250.2,559.1 253.0,557.1 256.3,557.4 259.1,556.3 258.8,554.4 260.5,550.4 263.1,548.1 263.5,544.7 261.6,542.4 259.7,536.7 258.5,533.5 260.0,530.4 260.3,529.7 259.7,527.0 260.2,525.6 262.0,521.7 260.0,519.1 260.2,517.2 258.6,514.5 259.1,511.0 257.8,507.6 258.1,504.2 256.7,502.0 256.9,499.3 259.4,495.0 260.4,492.9 260.1,490.4 261.3,488.4 260.7,486.7 259.4,484.3 258.6,479.8 258.8,476.7 258.8,473.0 260.4,471.0 263.7,468.3 265.6,467.8 267.2,465.9 270.7,466.1 274.7,464.2 276.4,464.1 278.9,465.3 281.8,466.1 285.8,466.1 286.8,463.1 286.4,461.0 287.3,457.1 290.4,455.1 292.4,451.7 292.5,449.2 295.0,448.0 298.4,445.5 300.0,443.8 300.9,440.4 303.4,438.9 306.1,435.9 306.9,435.3 308.1,433.3 310.7,432.6 312.8,430.3 313.2,428.9 314.4,426.2 317.1,423.6 318.8,421.0 319.2,417.9 321.2,417.1 325.3,415.3 328.2,415.7 327.3,412.0 328.8,410.2 331.2,406.9 331.4,404.6 332.7,401.1 336.2,397.6 339.2,396.1" stroke="#fde725"/><path d="M344.9,399.0 345.2,401.9 346.3,405.7 344.7,407.9 344.4,410.3 343.9,415.1 343.6,418.1 344.7,421.4 343.8,422.8 344.3,424.9 343.2,429.2 343.6,431.1 344.7,433.3 345.8,435.7 348.3,438.8 348.3,443.9 349.4,446.3 348.7,449.2 348.8,452.6 350.0,456.0 350.0,460.3 351.4,461.2 350.5,463.2 350.2,465.5 350.3,468.2 350.2,471.4 352.5,472.1 352.9,475.0 354.2,478.5 354.6,482.1 354.8,485.6 355.2,487.2 355.1,490.6 356.2,495.4 356.0,497.2 356.2,495.2 358.0,491.1 359.8,487.3 360.2,482.9 360.4,479.8 361.4,477.7 362.8,475.6 363.5,474.6 363.7,471.2 365.7,469.9 369.2,467.5 370.1,463.0 371.1,460.5 373.5,456.6 375.2,454.8 375.7,452.8 377.4,450.5 380.5,449.5 381.6,446.3 382.2,444.4 383.2,439.8 381.8,436.5 382.3,433.1 380.6,430.5 380.0,429.0 380.4,425.7 381.1,424.4 385.1,423.3 387.3,424.0 388.7,422.2 389.9,420.7 392.3,416.9 393.7,414.7 394.0,410.6 395.7,408.2 398.5,405.4 399.5,402.8 399.9,401.4 405.5,399.3 408.9,398.7 410.1,396.2 413.0,394.5 416.8,392.2 419.0,391.1 420.0,389.6 422.1,389.3 424.7,388.3 425.7,387.9 426.3,386.4 428.8,385.2 431.9,382.9 433.4,381.1 434.3,378.6 436.7,377.1 439.3,375.2 440.3,374.3 441.7,372.8 445.1,371.8 449.5,370.2 451.6,368.7 453.7,366.9 457.6,365.0 461.0,363.6 463.0,361.6 466.1,361.3 468.9,359.6 469.7,359.9 471.7,358.1 475.5,357.5 477.5,354.9 477.8,353.4 480.2,350.9 484.1,349.5 486.6,348.5 487.7,349.2 491.1,348.3 495.9,349.2 498.2,347.7 499.7,346.8 504.2,343.5 508.3,341.9 509.4,338.6 511.5,337.8 515.7,336.0 518.4,336.4 519.4,335.4 522.2,336.1 526.7,334.6 529.4,334.5 530.9,332.1 534.2,331.5 538.6,329.1 540.9,328.6 542.0,327.1 544.9,327.0 548.6,326.4 550.1,326.0 550.7,325.5 553.3,324.0 557.0,323.3 558.7,321.0 559.7,320.3 563.2,317.9 567.7,317.9 570.0,316.3 571.5,316.3 575.6,315.3 580.0,314.6 581.6,314.4 582.7,313.3 586.3,314.0 589.4,312.9 590.1,313.8 591.6,312.3 594.9,312.1 597.4,310.0 599.3,308.9 598.4,309.7 601.2,309.1 603.5,307.8 607.4,308.4 612.0,308.6 613.8,308.4 616.2,306.9 620.5,305.8 623.4,302.5 625.0,300.7 628.8,300.3 632.4,301.6 635.5,300.8 638.4,298.8 639.5,299.5 642.7,302.1 645.4,301.8 649.1,302.8 652.3,302.1 653.3,302.8 654.6,301.3 658.4,300.8 660.5,300.4 661.2,299.6 664.0,300.6 666.5,300.6 671.3,299.5 673.7,299.9 676.5,300.8 677.1,304.1 675.6,308.8 672.3,310.1 670.8,312.5 670.8,315.2 670.9,317.7 670.2,318.7 673.9,321.8 676.3,324.4 679.4,324.4 680.8,324.2 684.8,325.9 687.9,327.5 693.2,326.9 695.6,326.6 698.2,328.2 699.4,329.8 701.2,329.1 703.5,326.5 707.7,326.3 709.7,325.8 711.7,326.2 716.7,328.0 721.2,327.3 724.2,328.2 725.9,330.6 727.5,331.6 729.2,330.8 733.3,330.7 735.6,331.7 739.4,332.2 741.2,332.3 745.3,326.4 740.6,322.7 737.9,321.2 734.5,322.0 732.3,320.6 732.4,316.5 731.1,313.4 733.7,311.5 736.4,309.0 737.0,307.2 739.0,307.0 742.5,304.9 744.1,304.2 744.7,302.1 747.9,302.0 751.7,300.9 753.5,301.9 756.5,301.1 759.8,300.2 763.5,300.0 767.2,298.5 768.8,299.3 771.2,299.3 775.7,299.6 778.0,300.7 779.5,299.3 781.9,298.2 784.0,298.2 788.8,297.5 792.1,297.7 794.5,298.1 797.8,296.5 798.8,300.8 795.9,304.5 791.9,306.3 790.0,308.9 788.1,311.7 784.1,313.2 786.4,317.5 786.7,319.6 788.8,320.7 789.6,323.0 790.9,326.1 794.0,326.2 796.9,327.0 801.7,328.5 804.4,329.7 805.2,333.3 803.7,335.7 801.1,337.9 798.9,340.6 794.2,342.3 790.9,341.5 786.8,339.6 785.9,338.5 783.9,338.3 783.0,336.5 781.0,333.4 777.1,332.2 774.0,331.3 769.7,328.2 765.3,327.7 763.9,328.1 761.4,325.8 758.7,328.4 756.2,330.4 758.8,331.7 760.0,332.3 762.9,334.8 768.2,336.1 772.5,336.5 772.2,339.4 770.8,343.0 770.5,347.4 772.5,350.8 772.1,352.3 774.4,353.9 774.7,356.6 777.3,357.5 780.2,357.2 784.2,358.4 788.9,360.7 791.4,361.2 794.6,362.3 795.8,365.1 797.1,367.3 799.2,369.0 800.2,373.1 801.8,376.7 801.6,379.6 801.9,382.2 803.2,383.8 802.7,388.1 801.0,392.1 805.1,392.8 807.1,392.5 808.2,394.1 809.8,397.2 810.7,399.1 813.8,400.5 816.7,404.1 817.5,408.2 817.3,409.8 817.0,413.5 819.7,416.4 822.8,418.8" stroke="#fde725"/><path d="M799.0,312.3 801.3,310.4 802.7,307.8 804.2,306.0 807.8,306.1 810.8,306.6 814.4,307.4 816.9,307.2 817.9,309.9 818.0,312.8 817.9,316.6 814.3,315.5 810.5,315.3 807.8,315.8 804.4,315.5 802.1,313.7Z" stroke="#fde725"/><path d="M821.6,756.2 823.3,757.2 825.4,760.1 821.7,761.4 819.1,762.1 818.5,762.6 816.6,764.4 813.5,764.2 810.6,765.5 807.9,764.9 808.0,768.3 806.0,770.4 803.1,774.2 802.2,776.0 804.3,779.7 804.8,783.5 806.0,785.2 806.3,787.0 808.9,787.1 810.5,788.9 814.1,790.1 817.2,788.9 822.7,787.9 825.9,787.7 828.3,786.0 832.0,786.6" stroke="#fde725"/><path d="M767.3,797.2 768.4,796.1 769.8,795.0 772.3,794.1 774.5,795.9 776.4,796.7 777.6,796.5 780.9,796.4 783.8,796.6 788.9,797.2 791.4,797.6 793.9,797.4" stroke="#fde725"/><path d="M367.8,478.7 368.1,477.1 369.2,475.3 371.4,473.1 372.7,470.9 372.6,467.7 373.6,465.5 376.4,462.1 378.5,460.8 379.3,458.0 380.8,457.2 383.4,454.3 384.9,452.8 385.1,449.2 385.6,446.2 388.2,442.0 390.4,439.8 390.4,436.8 389.8,435.5 391.3,433.0 393.9,431.6 395.0,429.1 394.6,426.8 395.0,424.0 397.0,421.2 398.2,418.7 398.5,415.7 399.9,413.9 402.5,411.3 404.7,410.6 405.5,408.2 407.9,407.5 411.1,404.7 412.4,402.5 413.9,399.6 417.2,397.0 420.2,395.0 421.4,393.3 422.8,392.0 425.4,391.3 427.4,390.4 428.1,390.0 429.7,388.6 433.1,387.8 436.2,385.9 437.4,385.0 439.0,383.0 442.3,382.4 445.2,380.7 447.1,380.6 449.8,378.9 453.0,378.6 454.9,376.3 456.0,375.3 458.9,372.2 462.6,371.0 464.4,368.0 464.8,367.5 466.9,365.6 470.8,365.8 473.5,365.1 474.3,365.3 476.1,365.0 479.9,364.1 483.4,363.5 484.9,361.1 486.7,360.0 490.2,357.2 493.7,356.5 495.4,354.4 496.9,354.7 499.7,353.6 502.6,354.0 504.3,353.1 505.9,352.4 508.7,351.0 511.7,348.7 513.9,346.8 516.6,343.9 520.0,342.8 523.1,340.7 525.7,341.0 529.0,339.9 532.6,341.0 535.0,339.9 536.8,340.4 539.7,338.5 542.8,337.8 544.2,335.3 545.7,334.2 548.1,332.6 550.5,332.3 552.5,332.2 554.7,332.1 557.5,332.2 560.9,331.0 564.2,330.4 566.6,328.3 569.1,328.0 573.0,326.2 576.4,325.9 577.2,325.4 578.8,324.2 582.8,324.3 585.4,322.4 586.1,322.6 588.9,322.0 592.9,322.5 595.7,323.2 598.5,322.7 601.3,322.8 598.2,319.6 603.3,318.3 606.6,316.8 607.6,315.3 611.1,313.4 615.6,312.5 616.6,314.7 617.8,318.4 620.9,318.1 622.7,317.9 625.1,317.2 630.2,318.7 633.6,319.3 637.2,318.2 639.0,317.9 641.8,316.4 643.8,319.2 645.6,322.0 646.7,323.0 649.8,324.7 651.6,328.1 655.6,329.6 657.5,329.8 660.8,330.9 661.8,333.3 664.1,334.9 664.8,335.1 667.2,336.0 669.8,336.3 674.8,335.1 677.4,335.1 679.6,333.9 684.0,332.5 687.4,333.1 691.5,334.5 692.5,335.8 694.7,336.4 695.3,337.3 698.9,339.3 701.5,339.7 705.5,340.5 707.1,340.1 709.9,338.9 713.5,340.0 716.6,341.0 719.6,340.1 720.6,340.9 721.9,343.4 725.2,346.4 727.9,346.9 732.7,347.7 737.1,349.6 740.5,350.3 743.8,349.7 744.5,351.3 746.9,354.2 748.2,355.4 748.7,358.6 746.9,360.8 744.3,364.9 748.1,367.3 750.8,368.9 754.9,368.9 757.8,366.6 758.8,366.8 761.6,366.0 764.7,366.6 766.8,367.0 769.0,365.9 770.6,366.2 773.0,364.5" stroke="#7ad151"/><path d="M795.0,411.1 796.4,414.3 796.9,415.4 799.4,418.1 801.7,420.8 805.9,421.7 809.2,421.6 813.1,422.4 815.3,423.9 817.6,424.6 818.7,424.5 820.8,425.4" stroke="#7ad151"/><path d="M828.9,667.8 828.4,671.8 826.9,673.8 826.1,676.1 826.4,677.4 826.2,679.3 822.2,681.5 819.9,683.6 818.3,687.2 815.0,689.1 812.0,692.5 814.4,694.3 816.1,699.2 814.4,700.5 810.9,703.0 808.6,703.9 807.7,707.1 805.1,709.3 802.1,712.0 801.1,715.0 801.4,716.2 800.6,718.4 799.4,718.8 798.9,721.2 798.9,722.5 798.1,726.4 797.0,728.9 796.6,733.6 796.5,736.1 794.9,739.9 792.5,741.3 791.7,743.6 792.1,745.1" stroke="#7ad151"/><path d="M783.8,776.4 781.2,776.2 778.5,777.6 778.2,777.4 776.9,777.1 773.0,778.1 770.4,777.9 768.0,779.3 765.2,781.0 763.1,780.6 758.4,780.3 755.3,780.1 753.5,779.1 753.0,781.4 750.8,782.2 748.0,785.2 746.9,786.7 745.9,790.4 743.2,792.8 740.5,795.9 739.7,798.3" stroke="#7ad151"/><path d="M380.7,480.2 379.9,477.3 379.2,473.6 381.1,471.6 382.9,467.6 382.6,465.6 382.1,461.7 383.8,459.9 386.4,456.7 387.5,455.7 387.2,452.6 388.0,451.0 390.5,447.0 392.6,444.6 392.9,440.3 393.3,438.1 394.9,435.1 396.4,433.8 397.0,432.1 397.9,430.9 400.0,429.1 401.6,426.0 401.4,423.7 402.0,419.5 404.7,417.7 406.7,414.4 407.4,413.0 409.1,410.5 412.2,408.3 414.0,406.6 414.6,404.1 417.0,402.2 420.5,399.3 422.4,398.1 424.0,395.8 427.3,395.8 430.1,394.3 431.0,394.8 432.1,393.1 435.0,392.8 438.0,390.3 439.7,389.2 441.6,386.3 444.8,385.1 447.3,382.7 448.2,381.9 449.9,379.8 453.7,379.5 456.7,377.1 457.9,376.3 460.1,373.3 463.0,372.0 464.6,369.0 466.9,369.0 470.5,367.5 473.4,368.0 475.8,366.4 479.0,366.6 482.7,364.7 486.0,364.8 488.2,362.8 490.7,362.6 493.5,360.7 495.7,360.2 497.2,358.7 499.5,357.9 502.2,356.9 504.1,355.7 505.5,355.0 508.3,353.2 511.8,353.0 514.4,351.0 516.8,350.9 520.1,349.1 523.8,348.4 527.0,347.2 529.8,345.6 532.2,345.2 534.8,343.5 537.6,344.1 539.8,343.2 541.0,344.2 542.8,343.9 546.1,343.8 548.4,343.0 549.1,341.0 552.0,340.0 556.6,337.7 558.8,338.0 560.1,336.9 564.1,338.2 568.0,338.1 569.4,338.0 571.0,337.9 573.6,335.7 575.9,335.2 578.8,334.0 581.2,333.1 582.5,333.4 586.5,331.7 591.5,331.4 593.6,329.9 596.3,329.1 600.4,330.0 603.5,329.7 602.5,328.1 604.9,330.3 607.8,332.1 608.2,331.3 611.3,330.6 611.8,335.5 613.9,338.6 617.4,338.9 620.7,338.9 625.1,340.4 627.5,342.3 629.3,342.4 630.0,341.7 632.1,342.8 634.4,345.0 638.5,345.5 641.2,344.5 644.5,344.8 646.5,346.8 649.6,348.0 652.6,347.4 655.7,346.7 658.3,348.1 659.9,350.3 662.4,350.6 664.8,349.8 669.2,350.3 673.0,352.5 677.4,354.1 679.6,353.9 681.9,353.6 682.7,354.9 685.1,356.9 687.4,357.6 691.3,357.1 694.5,357.8 697.6,359.5 700.1,360.4 702.4,360.2 705.6,361.5 707.4,363.2 711.0,363.4 712.9,363.9 713.1,367.5 711.9,371.3 710.7,374.7 714.1,376.5 715.8,377.8 719.2,380.6 720.2,383.3 722.6,384.2 724.0,384.6 727.5,385.8 729.8,386.7 733.1,386.7 735.1,387.0 737.8,389.0 740.5,391.1 743.0,391.3 746.0,391.0 747.7,392.6 750.4,395.0 751.3,396.0 754.4,396.9 756.2,399.7 759.6,402.3 762.3,403.3 764.1,405.6 766.5,408.1 767.0,409.7 769.0,410.1 769.6,411.6 772.4,414.3 773.7,416.3 777.3,417.0 778.2,419.8 780.9,423.7 781.4,426.3 783.4,427.5 783.2,429.8 785.3,432.6 786.0,434.5 789.0,435.0 791.6,436.6 795.1,439.3 798.9,440.4 801.1,440.8 804.4,442.8 805.3,445.3 808.0,446.1 809.1,446.9 811.4,450.3 813.1,454.3 815.3,456.6 817.4,458.7 818.6,462.1 819.7,465.2 819.6,467.4 819.8,469.3 820.0,471.9" stroke="#22a884"/><path d="M829.2,595.0 828.2,596.7 825.1,599.1 821.5,599.5 819.6,601.6 817.3,601.8 816.4,605.6 815.5,608.1 814.7,612.8 814.6,615.3 814.4,619.2 813.2,621.0 811.6,624.4 812.7,627.5 813.7,630.3 814.9,631.2 813.7,633.2 811.4,633.4 808.5,635.6 807.4,636.1 807.1,639.3 805.8,640.8 804.3,644.2 803.9,646.3 803.7,649.3 801.7,651.7 799.2,653.8 798.5,656.5 798.8,658.1 797.4,661.4 794.6,663.2 792.9,667.2 792.0,669.3 789.5,672.5 786.5,674.2 785.4,675.7 784.3,677.7 782.1,679.2 780.5,682.8 780.6,685.0 780.2,689.3 777.9,691.3 775.7,694.6 775.1,695.7 774.7,697.7 773.0,698.7 772.5,701.3 771.7,704.7 772.6,709.1 772.8,712.9 770.8,716.2 770.4,719.6 769.5,722.0 767.8,724.9 764.5,725.8 762.5,728.5 761.7,729.5 758.4,728.2 754.5,728.0 752.7,725.6 749.5,725.7 748.2,728.0 746.2,728.9 743.2,731.1 741.1,732.2 738.5,733.2 735.3,732.5 730.2,732.7 728.2,730.9 726.0,731.4 722.0,732.2 719.2,735.0 718.4,737.4 717.0,741.1 713.8,742.7 711.6,745.6 710.4,746.3 707.8,748.1 704.7,749.2 703.2,751.0 702.0,753.2 699.2,755.2 696.4,758.0 695.4,759.5 696.6,763.6" stroke="#22a884"/><path d="M693.6,773.7 691.5,775.9 689.3,778.8 688.8,781.6 689.2,784.8 688.2,787.7 686.1,790.8 684.4,793.3 683.7,795.9 682.7,798.0 680.8,800.3 679.3,802.4 678.9,804.9 678.2,807.3 675.8,810.0" stroke="#22a884"/><path d="M382.1,481.0 383.8,477.8 387.3,474.7 388.9,470.7 389.8,469.1 392.3,466.0 395.3,465.0 396.7,462.4 397.8,459.9 400.5,457.8 402.3,453.7 401.1,451.9 401.2,447.8 402.6,445.6 403.4,441.8 402.9,440.4 402.9,437.9 404.8,437.3 407.0,434.9 406.9,431.5 406.8,428.8 409.2,424.0 411.5,421.0 412.5,419.9 415.6,418.8" stroke="#2a788e"/><path d="M457.6,379.8 459.8,380.0 463.0,377.6 465.7,376.7 467.8,373.6 470.8,372.3 474.4,370.1 477.8,369.6 480.5,369.2 483.4,369.4 486.6,369.9 489.4,369.2 491.4,369.3 493.2,367.1 495.3,366.3 497.7,363.5 499.6,362.6 501.2,361.0 503.4,360.4 506.4,360.5 509.2,359.9 511.8,360.9 514.7,359.4 519.6,359.2 523.2,356.9 524.5,356.1 527.7,354.9 532.1,354.1 533.6,354.1 534.7,352.6 537.9,352.8 540.5,351.3 543.0,351.7 545.5,352.2 547.3,352.6 551.2,354.1 555.4,353.1 556.6,352.7 558.4,351.3 561.9,349.5 564.1,349.8 566.4,349.3 567.7,349.9 570.1,349.4 575.1,347.9 577.8,348.6 581.5,348.5 584.2,349.6 588.6,350.3 592.7,348.7 594.6,347.7 597.1,348.7 598.0,348.8 601.9,348.1 599.5,347.2 603.6,348.0 605.9,348.0 609.9,348.7 611.7,350.1 615.1,350.9 616.8,351.0 620.3,352.1 622.0,354.4 625.2,355.4 625.8,355.3 628.3,355.8 629.5,357.3 633.7,358.8 637.0,359.6 641.2,360.2 643.4,360.7 645.8,362.1 646.8,363.7 649.9,363.7 652.0,364.0 656.6,366.3 658.9,368.7 662.2,369.4 664.6,370.6 666.8,373.4 668.6,375.8 669.3,376.7 670.9,378.3 671.3,381.4 673.8,383.7 674.9,384.6 678.2,386.3 679.7,389.4 682.7,391.4 683.8,392.0 685.9,393.8 687.7,396.6 689.2,397.7 692.8,398.4 695.2,401.0 699.5,403.3 702.9,403.7 705.7,405.2 708.5,408.1 709.4,409.9 711.7,410.6 712.3,412.9 714.8,416.0 716.3,417.6 719.1,418.5 721.1,421.0 723.2,423.9 725.0,425.1 726.0,425.9 727.9,428.7 728.6,431.5 731.7,432.4 733.4,433.7 737.2,436.6 739.7,438.7 742.6,439.3 744.5,441.1 745.0,444.4 746.9,446.4 747.0,448.5 749.1,452.2 752.2,454.6 755.9,454.9 758.8,457.7 759.5,461.1 761.6,462.1 762.0,463.0 762.6,466.1 762.6,469.5 764.1,470.8 764.8,471.4 767.4,474.0 768.7,477.9 771.8,480.7 773.2,482.0 775.3,486.3 775.7,491.0 776.9,492.4 777.4,493.7 778.5,496.9 779.2,500.5 780.9,502.7" stroke="#2a788e"/><path d="M781.3,502.1 779.3,503.7 779.7,506.4 781.0,509.0 780.1,513.0 778.7,515.8 778.9,519.4 779.2,521.5 780.3,524.3 782.0,528.9 781.9,531.5 783.0,532.4 782.0,534.9 783.1,538.5 782.5,540.5 782.5,542.8 783.4,543.3 782.6,545.9 781.1,548.0 780.8,552.8 781.0,555.8 780.7,560.1 783.1,561.4 783.4,564.1 784.8,568.9 784.5,571.5 785.4,572.6 785.0,575.2 784.4,576.5 783.2,580.4 781.9,582.7 780.8,586.9 780.0,589.1 779.6,592.6 778.2,594.6 776.3,598.1 775.9,599.3 775.8,602.2 773.8,603.5 771.2,606.3 770.5,608.8 770.9,611.6 770.2,614.5 768.2,616.5 766.9,619.4 766.8,621.0 766.8,624.1 765.5,626.1 763.7,629.0 763.2,631.0 763.9,633.4 763.6,635.8 761.5,638.8 759.1,642.0 758.2,645.5 755.7,647.0 752.5,649.8 751.4,650.5 750.2,652.6 747.2,654.7 745.0,655.9 744.1,658.3 741.9,659.6 738.2,662.2 736.1,662.8 735.0,664.9 732.7,664.9 730.7,668.3 730.9,670.9 730.6,675.7 727.5,674.9 723.2,676.2 722.0,676.5 719.8,678.9 717.3,679.9 713.3,679.8 712.8,682.9 712.4,684.2 711.4,686.1 710.1,687.3 709.1,690.2 708.6,693.0 708.0,695.8 705.7,698.0 703.4,700.2 702.7,702.1 701.6,703.1 698.8,704.9 696.5,705.5 695.4,708.6 692.6,710.6 688.9,714.1 687.2,718.0 685.8,720.2 682.8,723.7 680.6,724.8 679.9,727.4 678.1,728.5 675.1,731.0 673.5,733.3 672.9,735.7 670.5,739.0 667.6,740.5 666.8,743.3 665.5,744.0 662.5,745.7 660.6,747.4 659.9,748.9 657.3,752.1 653.8,753.8 651.8,757.5 650.0,759.0 646.9,761.1 644.5,760.6 642.4,760.7 640.7,760.2 638.8,759.4 635.4,760.6 632.1,760.5 630.6,763.2 628.1,764.2 624.2,767.0 621.3,767.5 619.1,769.5 615.9,769.0 613.1,770.1 612.1,769.9 610.2,771.8 606.6,772.6 604.2,775.2 603.3,777.4 601.1,780.0 598.2,782.5 596.9,784.1 596.0,786.3 593.2,786.9 590.5,789.1 589.4,789.7 588.0,792.7 584.9,793.9 582.5,797.3" stroke="#2a788e"/><path d="M400.8,481.3 403.3,477.1 403.5,474.7 403.2,470.6 405.1,468.9 407.5,465.7 408.3,463.7 408.0,460.0 408.9,456.8 411.4,453.9 412.9,450.5 412.9,448.4 412.8,445.7 416.0,445.5 418.2,443.5 418.8,442.7 420.8,439.1 423.9,437.0 425.0,434.0 426.4,431.5 429.7,430.4 431.9,427.9 432.7,426.7 435.0,423.7 438.1,421.5 439.4,418.4 440.3,415.8 442.7,413.7 445.5,411.7 446.7,410.5 447.5,409.3 450.0,408.7 451.7,407.1 452.2,405.6 453.8,402.6 458.1,400.3 461.2,397.7 463.7,396.3 467.2,394.8 470.6,394.3 472.3,393.8 474.7,392.7 479.1,391.9 481.9,389.3 482.7,388.0 485.3,384.7 489.0,384.0 491.4,381.5 492.7,381.4 495.5,379.8 499.5,380.5 501.6,379.0 503.4,379.3 506.3,377.5 509.0,377.1 510.5,374.8 510.5,373.6 514.3,373.9 517.9,372.1 519.5,372.1 521.4,370.2 523.7,370.5 526.0,370.5 529.3,370.6 530.8,371.8 532.4,370.5 537.0,369.6" stroke="#414487"/><path d="M569.7,372.5 574.3,375.3 576.5,376.6 579.6,377.3 580.0,379.1 582.2,381.2 583.6,382.1 586.7,383.0 590.5,385.9 593.6,388.7 597.5,389.5 598.9,391.5 600.4,394.9 600.6,391.2 599.0,387.4 601.2,390.5 602.7,392.6 604.8,393.1 608.3,395.1 610.2,397.5 614.2,398.5 616.1,398.9 619.5,400.9 620.6,404.6 621.7,406.5 619.4,408.1 618.8,408.8 617.4,409.8 613.1,410.7 610.5,411.4 609.6,413.7 612.6,415.8 613.3,413.2 615.0,413.4 619.2,412.5 621.1,414.1 621.6,414.5 624.5,414.5 628.6,414.7 631.3,412.8 635.4,414.1 637.1,417.3 639.8,419.1 641.2,419.9 642.2,422.2 645.1,424.9 646.9,425.6 651.6,426.0 655.7,427.9 658.8,428.6 662.3,428.3 662.9,430.8 665.1,434.4 665.6,436.4 667.9,437.9 669.8,441.2 672.2,444.4 675.5,445.6 677.4,447.3 680.4,450.7 681.4,452.6 683.0,453.4 684.7,456.8 685.6,460.1 685.5,462.7 684.5,464.1 684.9,466.6 686.6,469.8 689.1,471.2 690.4,472.7 692.7,475.9 693.0,478.4 695.1,479.1 695.2,480.6 697.6,484.4 698.5,487.9 698.6,490.3 698.1,494.4 694.2,496.7 692.4,498.7 690.8,501.4 688.9,502.6 687.7,505.6 685.2,506.0 682.9,508.2 680.0,508.4 676.3,509.5 675.7,509.3 674.8,513.2 673.2,516.4 672.2,518.8 671.5,519.8 670.6,521.9 668.6,523.2 666.7,527.2 666.3,530.1 665.9,534.9 663.5,537.8 661.1,541.0 662.8,541.9 663.1,544.7 665.5,547.9 666.6,549.9 668.3,551.9 669.3,553.7 670.1,556.1 670.3,559.8 670.8,562.5 670.4,564.2 672.6,566.8 673.8,569.1 677.4,569.7 679.6,571.2 684.7,574.4 688.4,575.8 690.2,576.0 691.8,579.8 691.5,583.4 691.1,587.7 691.3,589.6 690.5,592.0 689.9,595.3 689.4,597.1 687.1,598.8 685.1,600.7 685.1,602.1 684.7,604.9 682.7,606.7 680.6,610.2 679.8,612.0 679.1,615.3 678.2,616.4 677.2,619.3 676.1,621.0 675.3,623.8 673.8,625.1 671.1,628.6 669.5,630.5 669.3,634.6 668.6,636.6 666.5,640.2 664.9,641.4 664.5,643.9 663.8,644.2 660.6,646.0 656.8,645.9 655.5,647.7 654.9,647.8 652.0,649.4 648.6,649.8 647.4,651.1 646.4,651.1 642.8,651.3 639.9,650.8 634.7,649.7 632.1,648.8 628.4,648.5 627.2,648.2 626.1,649.7 625.1,651.3 624.6,653.5 624.1,657.3 624.2,660.4 625.9,664.5 625.1,666.3 624.8,670.3 625.8,673.3 625.9,677.9 627.4,679.3 626.7,681.4 624.6,682.2 624.1,684.9 624.9,687.9 624.6,691.0 623.4,694.6 621.5,693.3 617.8,692.6 616.5,692.7 613.1,692.6 610.1,692.9 604.6,692.4 601.5,691.6 600.5,692.7 597.9,692.4 593.6,694.1 591.2,695.1 590.5,697.3 587.9,699.2 583.6,701.6 581.1,703.5 580.1,705.5 577.4,706.1 573.3,707.3 570.7,707.0 568.6,708.4 565.3,708.5 562.4,710.4 559.7,711.4 557.9,713.0 555.7,714.8 552.3,714.5 550.3,715.6 550.1,714.8 547.8,715.3 543.7,715.6 541.6,716.0 540.6,717.7 536.9,717.7 532.3,719.6 529.8,717.8 526.3,716.2 525.4,716.5 522.5,717.5 521.0,717.0 517.6,715.1 515.5,714.0 513.2,716.4 510.4,717.0 507.5,717.9 502.9,717.7 499.3,716.5 498.0,716.8 494.5,716.1 490.3,718.2 489.0,718.8 487.4,720.5 484.7,721.0 482.1,721.0 478.9,722.0 476.8,721.8 474.4,723.7 469.2,723.7" stroke="#414487"/><path d="M424.9,480.2 426.0,478.2 429.0,474.4 426.9,471.2 427.1,466.5 425.0,463.8 424.2,462.8 425.6,460.9 429.4,461.4 433.4,461.0 434.4,461.5 435.0,460.6 437.6,459.3 440.4,457.0 442.5,455.4 446.3,452.4 449.2,448.3 449.7,445.7 453.4,446.0 457.0,446.0 458.8,447.9 460.1,450.1 463.4,449.4 464.8,446.8 467.5,444.5 470.9,442.1 469.4,436.1 469.0,434.3 470.9,431.4 472.3,430.2 473.2,428.7 473.8,427.3 476.3,425.7 480.5,423.8 481.7,422.6 485.2,419.1 489.5,418.0 491.3,415.4 492.3,415.1 495.4,413.5 498.7,413.5 500.5,412.3 502.8,411.1 506.4,409.5 509.1,406.8 510.0,407.1 512.1,405.5 515.7,402.9 519.5,402.4 521.8,401.0 523.6,402.8 527.7,405.0 529.8,405.4 532.7,404.5 533.7,405.2 535.6,407.5 537.5,409.9 541.2,410.7 543.3,412.6 542.1,414.2 540.4,414.8 537.0,417.0 536.2,419.7 536.3,423.5 534.5,428.6 538.1,429.1 542.5,429.6 544.6,432.0 545.8,431.6 546.8,429.9 549.9,429.3 552.7,428.1 553.6,427.7 556.4,430.4 559.5,432.9 564.5,433.1 566.5,433.7 569.5,435.8 570.5,437.4 572.6,437.6 573.5,438.2 576.1,440.3 578.5,442.3 583.6,441.9 587.3,441.0 591.9,442.7 594.0,445.2 596.1,445.5 598.2,444.6 600.9,445.8 599.1,451.8 599.9,455.2 601.2,455.0 605.3,455.5 608.2,456.6 613.3,457.1 615.4,456.7 617.9,457.2 618.9,459.6 620.2,461.9 622.9,462.3 624.5,463.6 628.5,466.5 630.7,468.2 634.5,468.8 636.6,470.9 637.8,474.5 638.6,477.2 639.3,479.8 640.8,483.5 641.5,487.0 643.2,490.1 644.7,492.3 645.6,494.3 646.0,498.3 644.7,500.0 645.3,500.9 644.9,503.1 645.5,505.2 645.6,510.0 643.6,512.0 643.2,515.6 642.0,518.3 644.9,523.7 644.8,526.5 644.6,528.9 643.7,530.4 643.2,533.9 644.3,536.9 646.1,540.8 645.4,543.8 644.4,546.5 645.1,550.1 645.4,553.6 645.6,558.2 646.6,560.4 645.1,562.9 644.8,563.8 644.7,566.5 644.5,570.0 646.1,571.3 645.6,573.7 646.0,575.3 644.3,579.2 643.0,582.2 642.5,586.5 641.7,588.4 640.3,591.2 638.6,591.7 638.1,594.1 636.6,594.8 633.8,598.0 632.1,599.9 631.6,603.6 630.1,606.2 627.5,609.5 626.0,611.8 625.8,613.7 624.6,615.7 622.2,617.0 619.3,617.9 618.2,618.1 615.7,620.0 611.8,620.9 609.5,623.4 608.0,624.3 605.3,626.7 602.8,627.1 601.6,629.1 599.7,629.5 596.0,632.0 593.4,633.0 592.6,636.2 590.9,636.9 586.5,639.0 582.9,639.1 581.7,640.5 579.0,640.6 573.9,640.6 571.2,640.9 568.6,639.2" stroke="#46327e"/><path d="M519.7,645.2 516.7,645.9 513.1,647.6 510.5,647.6 508.5,649.4 506.2,649.2 503.3,651.1 501.6,651.1 500.2,652.9 496.9,653.5 493.8,655.4 492.5,655.4 489.5,656.4 485.6,656.1 481.7,658.1 477.8,658.5 475.5,659.9 471.9,660.1 467.0,659.4" stroke="#46327e"/><path d="M350.3,406.1 348.9,409.3 345.4,411.0 343.1,414.1 341.3,416.2 337.3,417.2 334.2,418.4 332.1,419.5 330.9,421.0 328.2,422.5 326.0,424.7 325.3,426.7 324.3,429.5 321.0,431.2 318.6,434.1 317.7,434.6 314.9,436.3 310.6,437.6 309.2,438.8 306.5,442.3 303.3,444.7 302.1,447.8 300.4,450.9 297.0,452.2 295.1,454.9 294.2,456.0 291.8,458.2 289.4,461.8 289.4,464.7 288.9,469.4 284.8,467.5 282.7,468.5 280.4,469.2 279.7,469.6 276.4,470.6 272.6,470.7 270.7,471.2 268.3,472.4 265.4,475.6 264.4,480.6 264.4,483.6 265.1,486.6 264.7,487.6 265.0,491.2 263.1,493.8 262.7,497.0 261.9,498.6 261.3,500.9 260.5,503.7 260.5,507.2 260.5,511.8 262.2,514.5 265.4,518.7 267.0,518.1 270.6,515.4 275.0,514.7 272.7,516.6 270.0,520.5 269.1,522.3 268.2,525.4 265.6,526.7 264.5,528.5 265.0,531.2 266.4,534.0 265.6,538.3 266.1,540.0 265.1,543.3 265.3,547.0 265.6,551.8 263.6,554.4 261.4,558.0 260.8,558.5 258.8,560.4 255.0,561.9 252.8,563.4 251.7,567.3 248.7,569.5 246.3,573.0 247.7,573.5 250.3,574.1 251.9,576.2 256.7,575.6 259.8,575.2 262.4,574.3 266.0,572.6 269.2,573.5 274.0,574.5 273.7,577.4 274.9,578.8 271.5,582.8 270.3,585.3 267.8,588.0 263.7,587.6 261.2,587.7 257.3,586.1 255.1,583.7 251.7,582.6 248.5,584.4 244.8,584.3 242.8,586.2 240.9,586.0 238.0,587.5 235.5,585.2 234.4,584.5 231.2,583.7 229.3,581.3 225.9,579.0 224.6,576.6 222.4,574.6 222.1,572.0 220.9,568.9 221.5,566.6 218.0,568.3 216.7,569.3 216.2,571.6 213.4,572.4 209.8,574.5 209.5,577.3 208.4,579.9 205.5,582.8 204.0,583.9 203.2,587.0 198.9,586.0 195.0,585.2 190.9,585.0 188.6,584.9 188.8,588.0 189.7,592.0 188.2,595.5 187.8,599.3 188.7,599.9 188.2,602.2 186.7,603.1 184.7,605.9 184.4,609.4 184.8,612.7 185.3,616.0 186.9,618.5 186.7,621.1 187.3,624.7 187.6,627.8 187.0,628.9 187.3,631.5 186.1,632.4 183.5,635.8 182.2,637.9" stroke="#7ad151"/><path d="M350.0,413.6 346.2,416.6 343.7,418.1 342.3,420.5 339.6,420.6 337.0,422.2 336.2,424.6 335.3,427.9 333.7,431.0 332.3,432.8 332.0,436.3 330.3,437.6 327.6,440.3 326.7,441.2 324.3,442.0 319.1,444.0 317.4,444.8 316.0,448.0 312.3,450.3 308.9,453.1 306.1,455.5 302.2,456.1 298.6,457.7 297.5,458.8 296.4,461.9 293.9,463.5 292.2,466.8 292.3,468.8 292.7,471.8 291.2,473.6 286.7,475.0 284.8,474.5 283.1,472.7 282.1,472.1 280.2,472.1 276.8,473.0 274.8,473.9 273.6,475.2 270.8,477.6 268.1,481.2 267.1,483.3 270.2,484.7 271.4,487.9 271.7,492.1 269.7,493.4 267.1,496.3 266.4,497.6 266.8,502.2 269.3,505.3 270.4,506.2 273.7,509.8 276.4,514.3 277.8,516.6 274.5,518.4 271.1,521.7 269.4,524.8 268.2,526.0 265.8,528.9 265.2,530.0 267.6,534.4 269.1,536.7 270.0,537.2 272.2,539.3 273.2,541.8 276.5,542.7 277.8,543.6 281.1,548.5 282.4,551.5 279.7,554.5 277.0,556.4 276.0,559.7 274.1,560.1 270.2,561.0 265.5,560.6 263.8,560.7 262.2,561.9 258.6,564.3 256.3,565.7 260.4,569.8 263.6,569.8 267.2,567.8 270.8,567.3 272.8,566.7 274.6,566.0 278.0,568.8 279.1,570.9 281.9,571.7 281.4,573.5 283.0,577.2 283.5,580.3 285.6,581.9 289.6,583.7 293.0,586.0 296.8,586.3 297.6,586.4 299.9,588.3 300.5,590.7 303.7,591.4 306.1,591.5 308.4,593.8 309.3,596.3 312.0,598.4 312.8,600.2 312.3,601.2 310.0,604.5 307.2,607.2 305.0,607.9 301.2,608.2 298.8,607.0 294.2,606.1 294.9,602.8 293.4,600.9 293.1,595.6 290.7,594.5 287.7,595.3 283.9,595.3 278.9,593.0 276.0,594.9 274.7,596.2 272.3,597.6 268.7,596.6 267.6,595.4 265.1,592.3 263.4,590.0 261.4,590.0 260.0,591.6 257.2,591.6 254.4,593.6 252.9,594.3 249.3,594.3 246.8,593.9 241.9,592.5 239.7,592.6 237.1,592.5 236.7,590.9 234.2,589.1 233.0,588.9 229.7,587.4 225.8,583.7 223.4,581.5 221.5,584.4 219.3,587.1 218.7,588.8 217.7,591.7 214.1,591.6 211.1,594.0 208.8,595.2 207.8,598.8 205.7,602.2 204.3,606.0 203.2,606.0 199.3,606.7 196.1,606.4 194.5,608.4 194.0,609.0 192.2,611.2 190.1,613.7 190.8,617.9 190.7,620.7 192.7,624.0 192.7,625.6 191.6,629.1 191.4,631.9 191.6,634.9 191.8,637.3 191.8,638.9" stroke="#22a884"/><path d="M344.3,462.3 342.2,459.2 340.5,456.7 337.4,455.7 335.1,453.5 331.5,450.0 329.5,448.1 328.4,447.7 326.7,445.4 324.2,443.9 321.5,445.5 320.3,447.2 319.2,449.4 316.0,452.4 311.4,453.9 309.4,456.3 307.1,457.6 303.6,460.0 301.4,460.7 300.5,463.4 297.7,464.9 294.8,467.6 293.9,470.9 292.0,472.5 288.4,475.5 286.4,476.2 284.3,476.4 283.4,475.2 281.5,473.1 279.9,471.9 275.1,473.1 273.9,473.9 271.8,477.1 268.7,479.5 267.3,482.6 266.0,486.0 269.6,487.1 270.7,489.9 271.8,490.7 272.7,493.4 272.8,496.0 272.4,500.6 275.8,501.7 278.7,502.0 281.5,503.9 282.6,502.7 285.4,499.5 289.0,497.8 288.2,501.2 286.7,505.8 285.6,507.5 285.6,510.5 287.7,512.5 290.2,515.7 291.9,516.5 291.8,517.4 290.3,519.9 287.8,520.9 283.7,523.5 282.0,524.8 277.7,527.7 276.9,529.8 276.2,532.6 276.6,534.2 279.2,536.0 281.9,538.0 285.0,538.1 287.2,539.3 288.5,542.7 290.5,546.3 291.4,547.1 293.2,548.3 293.2,551.1 295.2,553.2 295.3,554.6 297.5,557.3 297.9,560.4 300.2,562.6 302.8,563.4 306.4,564.9 307.3,567.4 309.9,568.6 310.9,569.2 313.3,570.7 315.8,573.5 318.7,575.0 321.8,575.9 323.7,578.0 326.7,580.8 327.4,582.0 330.8,582.6 332.0,584.8 334.9,587.5 336.5,588.5 338.5,590.0 340.0,592.6 341.9,595.6 343.5,597.6 346.5,598.4 349.3,602.0" stroke="#2a788e"/><path d="M278.0,532.1 279.3,535.8 280.8,539.3 282.0,540.9 284.0,541.8 285.6,545.0 287.5,547.9 287.8,549.0 289.1,550.7 289.6,554.2 291.7,555.8 294.4,557.8 295.1,561.9 297.7,565.3 298.6,566.6 301.2,568.7 302.8,572.4 304.6,573.9 307.2,575.6 308.7,579.3 311.9,581.2 316.0,582.6 317.6,585.9 321.0,588.7 321.8,589.6 324.1,591.1 326.6,593.6 328.8,593.9 331.6,593.2 332.6,595.4 335.8,598.5 337.2,600.2 340.4,601.0 341.2,603.1 344.0,606.2 345.3,607.5 347.3,608.4" stroke="#2a788e"/><path d="M326.6,487.4 326.3,492.6 328.0,495.8 327.1,499.2" stroke="#2a788e"/><path d="M306.1,484.6 303.7,488.7 300.6,489.7 298.8,489.2 299.4,483.8 300.2,481.1 300.5,478.5 302.8,476.5 306.8,472.7 307.2,477.7 306.2,481.5Z" stroke="#414487"/><path d="M278.9,490.3 279.0,492.8 275.9,492.7 274.2,492.6 272.8,491.3 272.4,489.6 273.7,488.2 276.8,486.8 278.5,488.4Z" stroke="#414487"/><path d="M320.0,518.3 318.2,521.1 316.2,523.3 314.9,526.3 312.5,525.7 309.8,525.0 306.5,523.8 304.3,522.2 301.1,521.2 298.6,519.9 296.6,516.3 294.9,513.8 293.7,511.8 296.3,509.4 298.2,507.7 300.1,505.2 304.6,503.7 308.1,502.2 310.5,503.6 313.0,505.4 315.1,506.6 317.4,507.7 320.1,509.6 322.2,511.7 321.1,513.8 320.6,516.1Z" stroke="#414487"/><path d="M317.0,517.3 315.0,520.4 313.4,522.5 311.2,522.0 308.0,520.8 305.4,519.4 302.4,518.0 300.1,514.7 298.4,511.4 300.8,509.5 302.9,507.0 305.6,506.2 308.5,505.1 311.6,506.9 313.9,508.1 316.1,509.4 318.7,511.9 317.9,514.9Z" stroke="#46327e"/><path d="M326.9,549.8 323.1,553.0 320.2,552.6 317.4,553.1 315.0,551.4 313.3,549.4 308.7,545.4 312.3,542.5 314.2,539.0 316.8,540.6 320.1,542.8 324.4,544.8 325.2,547.1Z" stroke="#414487"/><path d="M323.2,548.0 321.2,550.2 317.7,550.5 315.2,548.3 311.8,545.4 313.9,543.7 315.2,541.0 319.1,544.1 321.7,545.6Z" stroke="#46327e"/><path d="M343.3,561.2 341.0,564.2 336.3,563.7 332.8,561.8 331.9,558.0 333.8,555.0 337.6,553.6 341.1,555.6 342.6,557.7Z" stroke="#414487"/><path d="M284.2,616.2 281.9,619.3 279.4,618.0 275.9,617.7 273.0,617.1 269.7,615.4 268.1,610.1 271.3,607.5 275.2,605.5 278.8,606.6 282.8,608.3 283.7,610.5 285.3,612.5Z" stroke="#414487"/><path d="M305.2,620.5 302.4,623.4 299.6,623.1 296.6,622.0 293.1,620.5 290.2,619.8 288.3,617.0 289.5,613.1 293.6,612.6 298.9,613.4 303.2,616.2Z" stroke="#414487"/><path d="M302.0,619.9 300.4,621.4 296.5,620.0 292.9,619.0 291.2,617.1 291.9,615.0 294.3,614.7 297.8,614.9 300.2,616.5Z" stroke="#46327e"/><path d="M262.1,603.7 265.2,602.5 267.7,601.3 269.5,600.4 272.1,599.6 276.0,600.9 279.0,601.1 282.4,601.0 284.6,601.8 287.7,602.8 290.1,603.6 293.5,603.9 296.2,604.8 299.4,606.5 302.3,607.6 304.8,608.5 307.6,610.0 309.7,611.8 312.4,612.9 311.3,615.9 310.6,619.0 310.2,622.1 309.1,625.4 305.9,625.2 303.6,625.2 301.5,625.8 297.9,625.9 294.7,627.0 291.8,625.6 289.0,624.0 285.9,623.4 283.0,623.4 279.6,622.5 277.2,620.9 274.2,620.0 272.1,619.7 268.9,618.9 267.6,615.2 265.7,612.9 264.4,610.5 263.0,606.8Z" stroke="#414487"/><path d="M419.1,439.2 418.4,442.5 418.3,444.3 416.6,446.7 414.1,448.3 413.0,450.1 413.0,452.6 413.0,455.3 412.1,457.1 410.4,460.4 409.8,462.5 409.7,467.1 408.0,470.8 406.0,473.5 405.4,477.3 404.1,479.0 401.5,482.2 400.4,484.4 400.9,487.3 401.1,491.3 402.2,496.1 401.6,498.8 402.5,501.2 403.6,502.4 405.1,506.1 405.8,508.7 406.4,508.8 406.3,511.3 405.4,515.0 405.4,517.4 404.6,520.6 406.5,522.5 406.9,526.9 406.6,530.9 406.6,535.0 405.9,537.4 404.4,539.6 401.2,540.1 396.3,542.4 394.0,542.6 392.7,543.9 388.6,544.0 385.0,546.0 384.5,546.6 382.3,549.0 377.7,549.3 375.4,550.5 374.3,549.9 370.1,550.6 365.7,551.3 364.2,552.2 362.8,557.0 360.4,560.1 359.9,564.3 361.2,567.4 359.3,569.0 362.4,570.8 363.1,574.1 365.4,576.4 364.9,578.2 366.5,580.8 366.4,584.0 369.9,585.8 372.2,586.3 375.9,588.1 378.8,590.8 379.9,593.1 381.6,596.7 383.2,598.3 386.3,599.1 387.5,598.7 390.4,599.0 391.4,599.7 395.3,599.0 399.9,600.1 401.6,598.9 404.8,599.6 406.0,602.1 407.1,605.4 410.8,606.0 413.7,605.3 417.9,605.7 419.8,607.6 423.8,609.0 425.8,609.9 428.5,612.8 430.3,615.4 430.8,616.5 433.2,620.3 435.3,622.7 438.0,623.4 441.4,624.5 443.7,627.2 448.3,628.0 450.6,628.0 453.6,628.8 453.9,630.6 456.5,631.6 456.9,634.0 459.6,636.2 460.7,639.4 462.1,643.3 461.6,646.2 459.7,647.8 459.6,649.9 459.9,652.1 459.3,655.3 458.0,658.9 457.1,662.1 455.7,665.2 455.0,667.4 452.6,670.4 449.4,667.8 444.6,665.2" stroke="#414487"/><path d="M469.9,439.1 469.0,443.2 466.5,448.9 464.7,447.2 461.2,446.6 459.1,447.5 454.4,448.0 450.6,450.1 449.2,450.8 447.0,453.0 444.2,454.7 443.0,457.4 442.3,459.4 439.9,461.5 435.5,461.8 434.4,461.0 431.8,461.2 427.0,460.9 424.6,462.0 424.9,463.8 425.7,466.9 425.0,470.8 424.2,474.8 425.4,478.5 425.0,479.7 426.4,483.0 426.2,487.0 428.1,488.7 429.0,489.8 431.5,493.9 436.2,495.0 438.6,495.7 440.0,500.2 440.7,504.2 437.0,505.2 434.0,506.6 433.0,508.3 434.9,511.9 434.9,513.6 436.8,517.5 437.7,520.5 440.7,521.9 442.6,523.4 443.4,528.0 441.9,532.1 443.0,534.4 444.4,534.9 447.0,537.6 447.5,540.4 448.6,542.0 450.5,544.6 451.4,547.5 454.4,548.6 457.8,551.5 458.7,555.3 461.2,557.6 461.5,558.7 463.5,560.9 463.4,564.2 465.5,567.5 462.2,569.2 458.6,571.9 457.2,573.3 456.0,575.6 456.2,577.9 455.1,580.7 453.8,581.3 453.5,582.9 451.2,584.0 448.0,587.1 446.7,589.0 444.8,592.8 442.6,592.1 437.9,589.2 435.9,586.1 433.9,584.2 431.1,579.5 429.4,578.1 426.4,577.9 425.9,577.7 423.7,575.8 423.1,572.9 420.4,571.6 418.7,570.5 415.8,567.5 413.3,566.7 410.1,566.3 406.9,566.6 403.7,566.3 400.9,564.9 398.9,563.9 395.8,563.3 393.0,562.1 387.9,560.3 384.8,558.9 380.6,557.9 379.0,555.0 377.6,551.9 376.2,552.0 373.3,552.8 370.3,551.6 368.1,555.0 367.5,557.0 365.5,560.6 364.4,563.2 365.6,567.0 365.3,570.8 367.3,574.6 368.3,576.7 369.4,580.1 372.6,582.8 375.0,584.1 377.8,587.8 380.9,591.4 381.6,592.1 383.6,594.2 384.9,595.9 387.3,597.5 388.1,597.9 390.8,598.6 393.6,597.5 399.1,598.7 401.5,597.7 403.8,598.7 405.4,599.7 407.7,602.3 408.7,604.9 413.2,604.1 415.2,603.4 418.9,605.4 421.6,602.9 426.1,602.4 429.5,600.4 432.3,600.4 435.6,599.0 439.4,599.1 439.7,601.4 439.2,605.6 441.7,605.9 445.9,606.3 448.6,608.8 452.4,610.9 450.2,612.8 446.1,613.7 444.2,616.6 446.7,616.7 450.5,617.5 453.9,619.2 456.7,619.9 459.7,620.2 460.9,621.5 462.8,623.1 465.0,624.2 469.2,625.2 473.6,624.4 475.2,624.1 477.7,623.8 481.9,623.1 484.3,622.4 485.9,625.8 485.7,627.2 488.9,629.7 490.8,631.9 493.7,631.9 494.4,633.8 495.0,638.0 493.9,640.2 491.8,642.6 490.6,643.5 486.8,644.8 483.8,647.1 481.9,648.0 478.5,650.9 474.4,651.9 472.6,654.3 471.3,655.0 468.5,656.8 466.0,657.9 465.2,659.6 466.2,660.8 470.4,660.7 474.0,661.1 478.6,660.6 481.4,659.7 484.0,661.2 488.4,662.0 491.4,660.2 492.8,659.2 494.1,656.6 497.3,655.7 500.4,653.3 501.4,653.2 501.8,651.5 504.6,652.1 508.3,650.9 510.2,651.2 510.8,649.9 513.3,649.1 517.2,647.6 520.0,645.8 521.4,644.4" stroke="#46327e"/><path d="M389.8,439.1 388.4,441.5 385.7,445.5 384.7,448.8 385.3,453.2 383.6,454.6 380.8,457.3 379.3,458.1 378.5,460.8 376.6,461.9 373.9,465.2 372.9,466.8 373.4,470.7 372.9,472.7 370.6,476.6 368.7,478.4 369.2,481.4 369.8,482.0 368.2,484.4 366.3,486.0 366.1,489.8 367.0,492.9 366.5,497.6 364.4,500.4 362.9,504.1 363.7,505.9 364.0,508.0 361.9,510.3 360.0,513.0 360.5,517.5 361.0,520.8 359.2,525.3 356.9,527.2 357.0,530.4 357.1,531.6 355.1,533.6 352.6,536.0 352.1,537.9 350.2,535.1 347.5,534.2 344.4,531.3 343.4,527.5 341.9,525.8 342.2,523.8 341.9,521.0 342.5,517.9 342.2,514.0 341.6,511.9 341.0,509.6 339.7,504.4 340.0,501.2 341.4,497.9 342.2,496.5 342.7,493.7 343.7,492.4 345.1,488.5 345.5,485.7 345.7,481.4 344.5,479.3 345.8,475.4 346.4,472.7 345.6,468.4 346.3,465.9 344.8,465.3 344.2,462.6 344.2,460.0 344.0,457.0 345.3,454.6 345.6,452.9 343.7,450.2 342.7,447.3 341.2,442.0 340.5,439.2" stroke="#7ad151"/><path d="M393.5,438.7 393.1,441.2 392.5,445.4 392.0,447.4 390.9,451.1 389.3,453.1 388.6,457.2 387.9,459.4 386.1,462.8 384.7,465.4 384.1,467.6 382.5,471.1 380.4,473.1 380.1,477.2 380.4,479.8 378.8,483.1 377.2,486.0 377.7,488.3 378.8,490.2 378.3,491.9 377.5,494.8 377.2,498.4 377.0,503.1 376.9,506.8 376.8,510.3 375.5,512.0 373.7,514.7 373.1,515.9 371.9,519.7 369.9,522.3 368.9,526.5 368.2,529.7 366.1,532.4 363.1,535.2 361.7,536.4 361.2,538.4 359.5,538.5 357.3,540.6 356.6,541.2 356.6,544.3 355.2,546.1 352.9,550.0 351.8,553.3 351.2,556.8 348.8,560.3 349.3,555.9 347.8,553.4 346.9,552.7 345.0,549.4 342.0,544.8 340.2,542.9 336.7,540.8 336.1,535.8 334.0,531.8 334.5,530.4 333.6,526.9 334.8,522.6 332.5,520.1 330.2,518.8" stroke="#22a884"/><path d="M402.7,438.8 403.2,440.6 403.5,443.0 402.1,446.5 401.0,449.9 402.1,453.0 401.8,455.8 399.8,458.3 397.8,460.9 396.9,462.9 396.0,465.3 393.9,467.2 392.5,471.0 392.6,473.8 392.2,478.0 390.2,480.1 388.6,484.0 388.8,485.9 388.6,490.2 388.1,492.4 387.5,495.8 386.1,496.4 385.4,498.9 386.1,500.2 385.6,504.4 383.5,507.8 382.5,512.5 383.1,515.6 384.1,518.1 382.8,519.1 382.9,522.4 383.5,524.6 382.8,528.3 380.8,530.7 378.3,533.8 377.8,537.6 376.0,539.3 372.2,542.3 369.2,543.3 368.0,544.4 364.7,545.9 361.3,546.5 360.2,549.4 358.8,550.9 355.9,554.5 354.3,557.4 353.8,559.2 351.5,562.0 348.9,563.0 348.0,565.1 347.0,566.4 344.3,569.1 343.4,567.8 343.1,564.2 340.8,560.1 338.8,559.3 335.6,557.8 331.9,554.8 329.7,553.2" stroke="#2a788e"/><path d="M329.0,608.8 330.3,610.1 333.5,611.6 334.5,614.7 336.9,617.3 337.5,618.2 339.4,619.4 341.6,621.6 344.8,622.8 349.7,622.4 352.8,623.7 357.0,625.9 358.6,626.9 361.4,626.2 363.4,626.4 366.7,628.2 369.4,629.2 372.4,628.5 374.3,627.7 378.1,629.4 381.5,631.3 386.1,631.0 387.9,630.3 390.3,631.9 390.9,633.4 394.6,634.1 397.4,635.0 400.9,634.9 403.0,633.5 404.9,633.8 408.8,632.1 412.9,632.0 414.5,630.0 411.2,628.1 409.2,626.8 405.3,626.8 403.6,625.8 399.5,624.4 397.8,623.6 395.4,624.8 394.9,624.9 392.0,623.9 388.4,623.1 385.0,621.1 381.9,620.4 379.2,619.4 377.2,616.9 375.6,614.4 374.3,613.6 372.3,613.0 370.7,610.7 366.9,608.5 364.3,608.0 359.6,607.2 356.7,604.7 354.3,602.3 353.2,601.5 351.7,600.2 351.0,597.5 349.5,595.4 349.4,594.4 348.3,591.9 347.6,587.9 346.0,585.4 345.0,583.9 343.9,580.2 344.1,577.2 343.5,572.0 344.3,569.1" stroke="#2a788e"/><path d="M379.0,440.9 380.4,444.5 380.3,448.3 378.1,449.9 374.9,452.6 373.9,454.0 375.2,456.4 373.8,459.1 373.7,463.6 371.7,465.3 371.0,468.6 369.2,469.9 367.0,473.2 366.3,474.0 365.7,475.3 363.7,477.6 363.0,480.4 362.2,485.8 361.6,488.1 359.4,492.3 357.1,494.5 356.7,497.2" stroke="#fde725"/><path d="M345.4,466.5 345.2,469.2 347.1,473.1 347.2,475.5 345.2,479.4 345.4,482.3 346.8,483.5 350.3,485.8 352.0,486.8 354.2,488.2 354.8,491.6 356.2,495.6 356.7,497.2" stroke="#fde725"/><path d="M369.9,776.9 365.8,776.5 363.8,774.8 361.3,774.0 360.7,773.5 357.3,773.2 354.1,774.1 350.4,775.0 347.0,774.0 345.4,773.4 341.6,775.0 339.0,776.3 335.3,776.2 339.4,770.7 338.0,770.0 334.6,770.2 332.8,770.7 329.9,770.4 328.3,769.5 325.6,769.0 322.2,768.6 318.5,768.2 314.6,767.5 312.9,767.4 310.6,765.3 309.0,765.5 305.2,765.8 302.3,766.0 300.5,762.1 299.0,758.6 296.7,756.5 296.3,754.7 294.5,752.3 294.5,749.3 291.4,749.3 290.2,748.5 287.8,749.0 287.2,750.9 285.0,753.2 280.5,753.8 279.0,756.1 276.5,756.5 271.8,756.6 268.9,757.3 264.7,756.4 263.4,753.6 261.0,751.8 260.1,751.2 258.6,749.1 255.5,745.9 252.3,745.2 246.5,744.7 242.8,742.9 239.1,740.6 237.4,739.6 235.2,739.5 233.8,738.6 229.7,738.4 227.2,739.6 226.5,740.8 223.9,742.8 219.5,745.1 217.0,746.6 215.5,748.8 212.2,748.6 208.6,749.5 206.5,748.4 205.0,749.4 202.1,748.9 199.1,751.0 197.7,751.8 196.8,755.1 194.0,756.5 190.5,759.5 188.1,760.7 185.9,761.9 181.2,762.9 178.1,762.9 175.8,764.8 172.4,765.4 169.2,768.4 166.3,768.7 164.6,770.6 162.0,772.3 158.1,772.0 158.3,768.7 156.6,766.0 159.2,762.5 160.3,760.8 161.0,757.2 163.3,755.8 166.0,752.9 167.3,752.0 168.5,750.1 171.7,748.8 174.4,747.1 175.8,744.3 178.4,742.5 182.0,739.0 183.5,737.6 184.9,735.8 188.3,734.3 190.5,734.0 191.6,731.6 195.7,731.3 200.0,729.0 201.6,728.0 203.3,725.7 201.0,722.0 198.3,720.2 197.1,716.7 196.8,713.0 199.7,712.7 203.1,712.9 207.3,711.2 210.5,710.7 209.5,706.6 207.0,702.4 206.9,698.1 210.6,695.9 213.4,693.6 214.6,692.8 218.5,695.9 221.3,698.6 225.5,699.4 227.8,701.7 229.8,704.7 232.9,705.7 234.5,706.7 237.7,709.5 240.9,710.9 242.8,710.6 246.6,708.3 247.2,707.4 245.9,703.7 245.6,700.9 243.4,697.6 241.5,695.7 239.5,693.6 238.7,689.8 236.4,687.0 235.4,685.7 233.4,683.3 230.7,680.3 228.4,679.0 223.7,678.8 220.2,677.1 223.2,675.1 224.2,673.5 226.9,672.4 231.3,671.0 229.8,667.3 227.2,664.6 226.3,662.2 223.7,659.9 222.2,656.6 221.9,655.9 220.0,652.8 220.0,648.4 218.1,645.8 217.5,644.2 215.1,641.2 215.0,637.3 217.3,635.7 218.5,633.7 221.5,631.8 224.4,631.4 225.6,629.4 227.6,629.0 232.1,625.8 234.1,621.7 237.3,626.4 239.1,628.9 240.1,631.3 241.2,626.9 243.8,624.5 246.0,620.8 245.6,619.2 245.2,616.5 246.9,614.7 249.1,611.3 249.2,608.6 250.7,607.9 252.1,608.4 254.9,604.4 256.3,602.1 256.9,598.9" stroke="#2a788e"/><path d="M260.7,692.0 262.3,691.2 262.7,689.3 264.0,687.9 266.8,685.6 268.5,683.2 269.7,685.4 268.8,687.5 269.8,691.1 272.0,691.6 276.1,691.6 278.1,692.4 278.5,695.0 277.5,698.9 275.5,700.9 279.0,701.6 282.3,702.2 285.2,702.0 287.2,700.2 288.6,704.3 291.4,705.9 294.6,707.9 297.4,711.1 302.2,712.5 304.9,713.5 308.7,714.6 309.7,714.8 311.8,714.6 312.4,714.4 315.6,715.6 317.9,718.4 321.9,719.6 318.8,721.5 317.8,724.8 316.1,727.5 312.1,728.2 309.3,729.4 306.7,730.2 304.1,730.2 301.4,731.1 298.4,728.8 297.7,728.1 295.3,727.7 293.9,724.8 291.4,722.4 288.8,721.6 286.9,720.0 283.9,717.5 282.1,716.1 278.8,716.7 277.9,714.8 275.1,711.3 273.7,708.5 269.9,707.5 267.3,705.8 263.8,702.9 261.4,701.4 260.6,700.5 260.5,698.3 260.5,694.2Z" stroke="#2a788e"/><path d="M329.5,709.2 332.0,710.9 335.4,710.9 336.7,712.0 339.7,714.5 341.8,715.4 341.7,718.2 341.1,719.7 342.7,723.0 340.1,722.5 337.5,722.0 335.0,723.1 333.0,723.5 331.4,726.0 330.0,724.6 327.3,722.0 325.0,720.1 321.9,719.6" stroke="#2a788e"/><path d="M143.8,724.4 144.0,728.6 143.3,729.6 141.3,732.1 142.9,733.5 142.9,737.1 144.4,740.6 144.5,742.0 146.2,744.3 146.4,749.2 147.7,753.0 148.4,754.5 149.4,757.8 151.0,762.4 152.7,765.4 154.3,766.8 156.1,769.8 156.8,773.9 159.0,775.0 160.4,774.5 164.5,775.0 167.4,777.1 172.0,778.5 173.8,776.8 175.8,774.4 179.3,773.5 181.8,771.7 184.0,772.3 185.6,770.9 187.6,770.8 190.5,768.3 192.0,767.2 193.0,763.7 195.3,761.4 195.1,764.6 196.6,765.6 197.3,766.6 199.6,769.8 204.5,770.3 207.6,768.8 210.7,767.9 213.2,766.1 216.2,765.0 219.3,765.6 219.8,765.3" stroke="#22a884"/><path d="M273.7,765.7 275.1,765.4 278.4,766.5 279.5,770.1 281.1,771.9 284.3,773.8 286.3,777.4 291.6,778.2 294.5,777.7 297.8,778.1 298.9,779.4 301.4,777.7 306.0,777.0 307.5,775.5 309.4,776.0 312.9,775.4 318.1,776.7 317.0,780.9 316.0,783.0 317.0,786.2 314.5,787.1 311.7,787.1 306.9,787.7 304.4,786.4 303.2,786.4 302.9,789.2 302.1,791.3 302.3,795.0" stroke="#22a884"/><path d="M143.8,724.4 146.5,726.1 147.5,726.5 149.5,727.1 149.5,729.8 151.4,732.6 151.6,734.1 154.3,736.4 156.6,735.1 160.8,735.3 164.8,733.5 167.1,733.0 170.0,730.5 174.1,730.3 177.5,728.5 178.2,728.7 180.4,729.3 184.5,729.6 185.4,726.7 184.9,723.8 183.9,722.9 181.3,721.3 177.6,718.5 174.2,718.2 168.7,718.5 166.0,716.4 167.7,714.2 169.6,711.9 172.0,710.5 173.8,709.8 176.8,708.0 180.3,706.4 183.7,706.7 186.1,707.6 187.7,709.8 189.5,712.7 190.1,713.9 191.9,716.0 192.8,720.1 194.1,717.9 198.0,714.8 200.5,712.8" stroke="#22a884"/><path d="M183.4,670.2 186.5,668.5 189.3,667.2 191.5,665.1 191.9,667.8 191.9,670.1 192.6,671.7 192.4,674.5 189.1,676.6 186.9,679.5 185.5,676.6 184.9,673.6Z" stroke="#22a884"/><path d="M189.6,650.5 192.2,649.5 195.1,647.7 198.0,646.8 200.0,645.2 202.4,645.2 204.8,644.5 207.3,644.2 210.1,644.5 211.0,648.0 212.7,650.8 210.2,652.7 208.3,654.5 206.9,656.3 204.8,658.7 201.6,659.9 199.1,661.7 197.3,662.9 194.7,664.1 193.7,660.8 193.4,658.2 192.1,656.3 191.3,653.9Z" stroke="#22a884"/><path d="M193.8,632.2 196.4,629.9 198.2,628.3 199.8,625.7 202.3,624.0 204.7,621.8 205.1,625.2 204.9,628.0 204.6,631.2 202.5,633.5 199.8,636.2 196.9,638.1 195.0,635.2Z" stroke="#22a884"/><path d="M188.3,601.2 188.3,602.5 189.0,604.2 188.7,608.1 187.1,609.9 187.7,612.8 188.0,614.6 187.2,618.3 184.6,620.4 183.1,624.5 183.7,626.5 184.7,629.8 185.3,631.5 186.8,632.0 187.2,634.2 189.3,637.9 185.4,640.1 184.1,644.1 180.6,644.4 177.0,645.6 174.9,645.2 172.8,646.9 170.8,647.5 167.7,649.0 165.2,649.4 164.0,651.1 161.2,651.5 158.4,654.5 157.1,656.1 156.6,659.6 154.4,661.7 151.6,664.1 150.9,666.6 149.4,667.4 146.2,670.1 145.2,672.1 145.1,675.9 144.5,679.6 143.2,683.7 142.3,687.3 142.0,689.5 140.7,691.9 138.6,692.6" stroke="#7ad151"/><path d="M140.3,763.6 143.8,766.5 146.0,769.7 149.7,771.0 150.9,772.3 154.8,774.4 156.4,775.9 159.1,775.9 160.3,776.4 163.0,778.2 165.2,779.1 170.1,778.8 172.9,778.7 175.6,778.2" stroke="#7ad151"/><path d="M204.8,784.4 207.6,785.3 208.6,786.2 211.6,788.1 213.7,789.7 218.2,789.3 223.0,788.8 224.8,787.1 227.8,786.8 232.7,785.5 235.2,786.3 236.2,789.2 234.4,792.1" stroke="#7ad151"/><path d="M129.7,608.8 132.3,609.9 133.9,611.1 136.4,613.0 138.2,615.0 141.0,616.2 143.3,617.5 146.9,616.1 149.3,615.7 151.7,614.8 155.3,614.2 158.4,613.4 158.5,615.9 159.1,618.1 155.5,619.7 152.9,620.7 150.4,622.7 146.3,623.6 143.3,622.6 140.2,621.4 137.8,620.5 135.8,618.6 134.7,615.7 132.8,612.6 131.8,610.6Z" stroke="#fde725"/><path d="M161.2,626.9 163.9,624.7 166.0,623.2 167.6,621.4 169.7,620.1 172.6,619.9 175.5,619.8 178.3,620.2 180.3,619.6 183.2,618.9 184.2,621.8 185.6,625.8 183.8,628.2 181.0,630.4 177.8,631.5 175.7,631.9 173.7,633.3 170.3,634.3 166.4,633.8 162.5,632.9 162.1,629.3Z" stroke="#fde725"/><path d="M138.8,639.7 141.2,640.7 143.2,640.9 145.5,640.9 147.6,641.7 150.7,642.9 153.2,643.6 156.3,643.8 158.4,643.7 161.4,643.0 165.1,642.7 167.8,642.7 170.1,641.9 169.9,645.5 168.5,647.7 166.7,650.3 164.7,651.3 162.5,652.5 159.1,654.1 156.0,655.4 153.7,654.8 150.7,654.3 148.0,654.1 144.9,653.9 142.2,653.7 141.5,650.7 141.0,647.9 140.4,645.3 139.7,642.6Z" stroke="#fde725"/><path d="M156.8,666.7 159.5,665.5 161.4,664.9 163.7,663.4 164.8,666.1 166.6,669.0 167.9,672.1 170.2,674.8 168.7,677.7 166.3,680.2 164.6,682.1 162.0,680.8 160.1,678.8 157.7,676.5 157.4,674.3 156.8,672.0 156.5,669.4Z" stroke="#fde725"/><path d="M137.9,674.4 141.2,675.6 143.9,677.5 147.1,679.8 147.8,682.5 149.1,685.3 149.5,688.5 150.6,691.5 151.1,694.3 152.5,696.9 153.4,699.6 155.1,702.5 156.2,705.1 157.9,707.1 158.7,709.5 159.9,712.4 160.2,714.7 161.1,716.4 157.2,718.0 154.2,719.3 153.2,717.5 151.3,715.2 149.9,713.0 147.7,711.4 146.1,709.6 144.4,706.2 143.6,703.4 142.3,701.5 141.9,699.0 140.9,695.8 140.1,693.2 138.8,691.3 137.4,688.6 135.8,685.3 136.3,683.0 136.2,679.8 136.7,677.6Z" stroke="#fde725"/><path d="M143.8,774.0 146.9,774.5 148.9,776.4 150.8,779.0 152.6,780.5 153.5,781.2 156.8,783.8 159.1,785.7 163.2,785.6" stroke="#fde725"/><path d="M196.1,787.4 199.2,789.6 200.4,790.2 202.2,792.3" stroke="#fde725"/><path d="M260.3,602.4 262.5,604.4 264.4,607.1 267.4,608.4 270.1,608.8 271.9,611.3 273.5,615.7 274.3,618.1 275.8,619.2 277.2,621.8 280.7,624.2 283.6,624.8 287.2,626.3 291.4,628.8 293.6,629.7 296.8,629.7 297.4,630.4 300.3,632.8 301.8,634.3 305.6,633.8 308.0,632.9 309.1,632.1 312.6,632.1 317.0,630.0 319.0,628.9 321.8,627.9 325.2,628.4 329.4,627.2 330.6,625.3 332.3,625.5 333.9,627.0 336.6,628.3 339.7,627.6 342.5,627.3 345.6,627.9 347.3,628.5 351.4,629.3 354.2,630.2 358.6,630.2 360.5,628.3 361.0,628.4 364.1,626.8 367.9,626.9 369.3,625.6" stroke="#414487"/><path d="M270.8,609.8 274.3,609.1 276.5,608.3 278.8,608.2 281.7,610.7 284.4,612.2 286.5,614.5 289.1,617.0 291.7,618.6 294.1,620.6 297.8,622.3 300.1,623.4 302.9,623.8 303.3,622.1 304.4,619.4 305.9,617.1 303.7,615.2 300.8,613.5 298.2,612.5 294.7,613.0 292.6,613.7 290.0,613.3 285.7,614.9 282.7,616.4 280.3,616.6 276.1,618.1 274.9,615.7 272.8,612.5Z" stroke="#46327e"/><path d="M323.4,634.5 325.1,633.2 328.1,630.2 330.9,628.1 333.1,627.5 333.4,628.9 336.6,629.9 338.8,629.5 343.5,629.0 346.2,630.4 350.2,632.3 352.8,633.2 354.6,635.2 357.0,638.8 357.2,640.3 359.1,641.9 359.8,645.3 362.3,648.9 363.8,650.8 366.8,651.2 369.5,653.1" stroke="#46327e"/><path d="M301.1,644.0 303.6,642.8 306.3,641.2 309.6,640.2 313.6,641.2 316.7,641.9 318.5,645.9 319.5,648.7 316.1,651.8 313.7,654.8 311.5,654.8 308.7,653.9 305.3,653.2 303.9,650.4 302.7,648.1Z" stroke="#46327e"/><path d="M283.7,658.9 286.6,660.4 288.1,661.6 290.5,661.2 291.9,660.5 295.0,661.5 297.9,664.0 301.5,665.1 305.2,664.8 307.2,665.9 310.3,667.9 311.0,668.3 313.6,668.7 315.5,669.4 319.9,670.4 323.7,671.8 327.7,672.9 330.0,673.5 332.1,674.6 333.3,676.1 335.6,677.0 338.1,677.4 341.5,678.3 344.2,679.6 347.2,680.0 349.6,679.8 352.2,680.4 354.2,682.6 356.7,684.6 358.4,685.0 360.9,685.6 362.5,687.8 366.0,690.0 368.2,690.8 372.2,691.5" stroke="#414487"/><path d="M246.1,702.4 249.3,701.5 252.6,699.6 255.6,698.3 256.3,701.7 256.3,705.8 252.9,706.6 250.6,707.1 248.4,704.7Z" stroke="#414487"/><path d="M279.0,662.2 277.3,658.8 279.7,654.4 283.7,652.8 285.7,653.9 285.1,658.1 282.0,662.2Z" stroke="#414487"/><path d="M294.1,631.5 291.1,630.4 291.2,625.7 294.7,625.3 297.7,625.8 298.5,628.8 296.7,631.6Z" stroke="#414487"/><path d="M293.5,636.9 291.7,634.7 292.5,631.4 293.4,628.9 295.0,627.9 296.6,630.4 295.8,634.8Z" stroke="#414487"/><path d="M276.9,629.5 276.4,627.6 278.4,626.2 280.6,625.8 281.3,627.6 279.6,629.7 278.1,630.1Z" stroke="#414487"/><path d="M286.7,638.3 286.0,636.3 285.6,632.9 287.9,630.0 289.9,630.9 289.8,633.4 288.8,637.9Z" stroke="#414487"/><path d="M264.6,630.5 261.7,631.5 256.6,629.2 253.5,625.3 255.6,623.9 260.2,625.2 262.7,628.7Z" stroke="#414487"/><path d="M296.4,665.4 293.4,663.7 292.4,660.5 294.5,658.6 298.1,658.7 300.8,660.6 299.5,664.0Z" stroke="#414487"/><path d="M278.6,636.5 280.7,634.4 283.4,632.3 287.1,634.4 288.6,636.2 285.9,638.7 281.9,638.6Z" stroke="#414487"/><path d="M295.8,641.6 294.2,643.1 291.7,641.0 289.9,638.5 291.4,637.7 293.4,637.4 297.0,639.0Z" stroke="#414487"/><path d="M255.0,643.4 254.8,641.6 256.8,638.1 258.5,634.8 259.4,637.0 259.7,639.1 257.5,643.7Z" stroke="#414487"/><path d="M271.9,643.4 268.4,642.7 266.0,640.3 266.0,637.2 267.8,634.2 271.2,636.4 273.0,640.5Z" stroke="#414487"/><path d="M278.1,655.9 277.5,659.8 275.1,660.7 273.8,657.3 273.2,653.6 274.7,651.3 277.3,652.9Z" stroke="#414487"/><path d="M287.8,663.6 284.4,664.6 283.5,662.3 285.3,659.8 287.3,658.6 288.9,658.8 289.6,661.4Z" stroke="#414487"/><path d="M277.3,628.9 276.8,627.2 278.7,625.7 280.8,625.9 280.4,628.1 279.6,629.7 278.2,629.8Z" stroke="#414487"/><path d="M265.2,661.0 262.2,661.5 259.3,658.2 258.8,652.9 261.6,653.4 264.4,655.9 267.1,659.2Z" stroke="#414487"/><path d="M265.8,653.7 267.8,649.8 268.5,645.8 271.1,644.4 273.7,644.5 270.8,649.0 269.2,653.4Z" stroke="#414487"/><path d="M290.9,662.0 289.2,664.7 287.1,665.1 285.8,662.8 287.3,659.5 288.8,657.3 290.6,659.3Z" stroke="#414487"/><path d="M263.9,654.5 265.1,651.2 267.6,650.2 269.2,648.4 272.5,649.6 274.3,650.8 271.8,654.3 266.2,655.8Z" stroke="#414487"/><path d="M280.8,640.9 279.8,642.4 276.5,641.3 275.2,639.3 274.8,637.8 277.2,637.4 280.1,638.9Z" stroke="#414487"/><path d="M266.4,656.5 263.8,657.7 259.7,656.6 256.4,654.5 257.2,652.9 259.7,652.1 263.8,654.5Z" stroke="#414487"/><path d="M295.9,653.5 294.3,650.6 294.5,647.5 296.2,644.4 297.5,645.9 298.5,648.7 297.9,652.5Z" stroke="#414487"/><path d="M287.8,647.3 287.7,645.1 290.8,644.2 292.9,644.2 292.8,645.9 291.9,647.3 288.9,648.8Z" stroke="#414487"/><path d="M252.5,652.4 253.9,648.6 255.1,645.9 258.7,641.9 259.1,645.2 257.6,648.1 255.7,651.1Z" stroke="#414487"/><path d="M296.4,657.4 294.0,656.4 292.7,651.8 294.0,648.9 294.8,647.9 296.3,651.3 297.3,655.2Z" stroke="#414487"/><path d="M256.7,661.0 258.1,658.1 261.2,658.9 264.2,658.9 263.8,661.3 262.0,662.6 258.6,662.3Z" stroke="#414487"/><path d="M288.6,669.3 286.6,667.5 289.2,663.7 291.6,662.6 294.5,662.4 294.2,666.9 291.4,668.5Z" stroke="#414487"/><path d="M360.6,774.6 362.3,775.9 364.2,776.3 366.4,777.0 371.2,777.5 374.0,777.5 378.2,778.9 380.0,781.1 383.3,782.0 385.7,781.2 388.9,781.4 391.6,782.3 391.8,781.4 393.6,780.9 397.0,780.1 399.4,777.9 402.5,778.2 404.4,779.1 406.9,779.6 410.9,780.4 413.4,780.8 416.6,780.9 417.2,782.1 419.2,783.8 420.5,784.4 424.5,784.1 428.2,782.1 430.8,782.2 434.0,780.6 436.7,782.3 441.3,782.9 443.6,783.6 447.4,785.9 448.7,785.9 451.1,785.3 452.6,785.3 456.0,785.0 460.2,783.4 462.5,783.3 463.5,782.3 466.1,782.5 465.6,784.8 466.6,787.4 466.8,788.8 468.0,787.4 472.0,787.1 475.5,785.2 474.9,783.2 474.6,779.8 478.9,778.6 481.1,776.6 481.9,777.4 483.3,780.4 482.9,783.9 484.0,786.0 482.9,788.5 485.4,794.0 486.5,795.8" stroke="#2a788e"/><path d="M582.3,796.6 585.5,793.6 588.6,792.5 589.7,790.2 590.9,789.7 593.8,788.1 596.3,787.6 597.3,785.9 599.5,784.4" stroke="#2a788e"/><path d="M359.7,604.5 362.8,606.9 367.3,607.8 369.3,607.8 372.5,608.8 373.2,611.6 375.3,612.9 375.8,613.8 377.9,616.2 379.2,619.0 382.7,620.1 386.7,621.0 389.5,623.8 393.4,625.9 394.7,626.4 396.9,627.4 397.7,629.9 400.2,630.8 403.4,629.6 407.9,629.5 411.6,631.3 413.1,626.8 410.0,624.7 406.9,624.6 405.1,624.5 401.9,622.6 400.7,620.9 397.8,620.4 395.9,618.6 393.3,615.4 389.6,613.9 387.7,613.1 384.5,610.4 383.3,607.6 381.4,606.8 380.2,605.6 378.9,602.6 375.5,601.0" stroke="#2a788e"/><path d="M402.4,713.7 405.1,711.1 407.6,709.5 409.0,709.6 410.7,707.2 409.8,705.0 411.2,699.4 407.7,700.0 405.7,700.6 403.5,699.3 401.3,697.6 398.5,696.8 394.9,696.8 391.7,695.2 388.4,692.2 387.4,689.9 385.0,689.2 384.4,687.3 381.4,684.3 380.4,682.8 378.2,680.2 381.3,678.9 383.1,675.3 383.9,673.4 386.2,669.7 388.5,667.3 389.5,664.1 386.1,663.0 381.3,663.9 377.4,664.4 374.4,665.2 373.2,665.1 371.3,663.8 368.5,663.8 365.5,665.0 363.0,665.2 360.2,663.4" stroke="#46327e"/><path d="M402.4,713.7 405.2,712.5 408.0,713.0 413.0,715.6 416.5,716.7 419.5,716.3 421.4,716.6 424.0,718.9 426.1,721.3 429.3,721.5 431.6,721.2 434.4,722.7 436.9,725.3 439.5,726.6 442.3,725.7 446.4,724.8 448.9,725.8 452.0,727.0 452.3,726.0 454.2,724.2 457.7,723.2 460.2,721.6 462.8,722.6 465.4,722.3 467.3,724.3 471.0,724.6 473.5,726.0 478.5,726.7 480.3,726.0 481.8,726.2 485.9,723.8 487.6,722.0 487.4,717.9 489.5,718.0 491.9,716.0 494.9,715.8 497.6,714.6 496.2,713.6 497.8,710.8 502.8,711.0 506.3,713.0 510.0,714.1 511.6,713.7 515.5,713.1 516.0,714.9 518.0,718.7 518.1,721.8 522.5,719.5 525.1,715.6 527.0,713.7 529.4,713.0 534.3,714.0 531.7,719.7 531.6,723.4 535.3,722.0 538.9,719.6 542.2,718.8 544.3,718.2 546.1,718.7 549.5,718.6 551.9,718.3 553.0,717.3 555.4,715.7 559.0,713.8 561.1,711.5 563.6,708.9 567.3,708.2 569.4,706.2 571.3,706.4 575.8,705.0 579.7,704.8 580.9,702.9 583.0,701.3 587.3,699.0 590.3,697.0 591.3,695.0 593.7,693.5 597.9,692.2 600.5,691.8" stroke="#414487"/><path d="M389.5,664.1 391.5,665.4 394.9,664.5 397.2,663.9 401.2,665.4 402.6,665.7 403.8,665.6 407.4,665.9 410.8,663.8 413.8,663.1 417.4,664.0 419.5,665.8 422.6,666.9 425.0,666.9 427.6,667.8 429.0,670.6 430.3,672.9 432.3,673.6 434.3,674.6 430.1,678.6 428.2,681.8 425.2,682.2 420.5,684.0 423.3,684.2 425.1,685.6 428.8,687.7 432.2,687.7 435.0,686.2 439.6,684.3 443.6,682.3 446.2,681.5 448.9,679.3 452.5,679.3 453.5,678.2 455.3,680.1 456.8,680.6 460.7,682.9 463.8,685.8 460.6,684.2 459.1,683.5 456.1,683.2 453.5,682.5 450.5,684.0 447.7,684.9 446.9,686.4 443.3,687.6 438.6,689.6 438.2,692.5 435.3,695.1 430.9,693.6 428.5,693.1 424.8,693.3 423.0,692.8 418.9,693.4 415.5,693.9 413.8,693.4" stroke="#46327e"/><path d="M360.7,631.0 362.8,632.6 363.1,633.8 366.0,634.3 367.8,635.0 372.4,636.5 375.0,637.6 379.0,637.8 380.4,638.0 382.7,639.4 383.5,641.2 385.9,641.8 388.0,641.0 391.3,641.1 394.3,642.9 397.5,644.9 400.4,645.0 402.7,643.5 406.8,643.9 409.5,645.7 413.3,646.4 414.4,646.6 416.0,647.1 418.2,647.4 421.2,648.2 425.5,649.7 428.4,650.8 431.8,650.6 432.8,650.4 435.8,651.5 436.0,655.3 437.1,657.6 438.5,661.2 437.6,663.2 434.0,664.4 435.3,667.4 437.8,668.7 439.6,670.0 443.3,672.9 446.2,673.9 449.9,674.3 450.9,674.8 453.2,675.8 454.7,676.3 457.9,677.2 461.1,677.3 463.0,675.9 466.1,675.5 467.6,673.2 470.6,669.3 472.3,666.7 468.4,665.3 465.0,662.4 463.7,660.0 461.2,659.7 458.2,658.7 459.2,654.9 459.3,651.8 457.7,649.4 458.2,648.2 459.7,645.5 459.6,642.4 459.5,637.7 459.5,634.2 459.5,630.9 457.3,630.5 454.4,629.3 454.1,628.0 451.8,627.7 450.6,627.4 446.3,626.1 444.5,622.8 440.6,621.4 437.8,620.6 435.4,617.9 432.6,615.6 431.9,615.0 429.3,613.3 428.3,610.1 425.3,608.0 422.7,608.7 419.2,607.8 417.5,605.9 413.8,605.1" stroke="#414487"/><path d="M404.8,599.0 405.4,600.3 408.1,602.8 409.1,604.8 412.3,605.1 413.8,605.1 417.1,604.9 419.2,606.4 421.7,606.1 426.6,604.9 429.7,604.7 433.0,604.0 434.7,604.0 436.4,606.5 438.4,607.5 442.1,608.2 444.9,610.4 442.8,612.9 443.2,616.4 445.2,616.7 449.2,617.1 451.5,618.6 455.6,619.8 457.5,619.8 460.5,620.4 461.0,621.7 463.3,623.1 465.2,624.3 469.1,625.1 473.5,624.2 475.1,624.1 477.5,625.4 480.5,625.0 483.2,625.0 485.8,623.2 486.4,626.0 486.1,627.9 484.7,631.7 483.8,633.7 483.5,636.8 482.7,637.8 480.8,640.2 479.3,640.9 479.3,643.4 478.6,645.2 475.6,649.1 473.0,651.7 472.2,653.5 470.7,655.4 467.8,656.6 465.8,658.5 468.0,657.4 471.4,657.3 474.0,656.2 476.3,655.6 480.0,653.7 483.5,652.9 486.3,650.5 489.5,649.6 492.9,647.3 496.1,647.7 498.8,647.3 499.9,648.3 501.7,649.1 505.5,648.3 507.2,648.4 507.7,646.5 510.8,646.0 514.1,646.3 517.2,645.4 520.4,645.7" stroke="#46327e"/><path d="M489.0,661.5 491.9,660.6 494.4,659.1 496.2,657.1 499.0,656.5 502.9,655.9 504.1,657.5 506.4,657.1 511.5,658.1 514.2,656.8 517.0,657.0 518.9,658.3 521.9,658.2 525.4,658.8 526.2,659.3 528.3,660.2 529.4,662.4 532.4,661.9 535.3,660.9 541.0,660.4 544.1,659.6 547.7,660.1 547.1,664.3 544.9,666.7 543.2,670.6 541.5,671.2 539.7,671.1 536.1,671.4 532.9,670.5 528.5,670.9 526.0,672.2 525.0,671.9 521.4,672.9 517.8,672.1 516.9,671.0 515.1,671.5 513.8,671.6 511.0,672.3" stroke="#414487"/><path d="M506.0,691.6 508.5,689.6 511.5,688.5 513.9,686.8 516.4,685.1 518.1,688.5 519.9,691.0 522.9,691.2 526.1,691.2 529.3,691.8 531.7,692.9 534.0,693.4 535.7,692.3 538.7,691.9 541.6,691.8 544.0,691.5 546.7,692.1 549.1,693.9 552.0,695.6 549.9,695.7 547.1,697.0 544.1,697.7 541.2,698.9 538.7,699.9 536.2,700.8 533.5,701.5 530.8,702.0 528.2,701.4 526.5,700.9 523.6,700.0 521.1,698.9 517.3,698.4 514.4,698.1 511.2,697.8 509.4,695.9 507.2,693.4Z" stroke="#46327e"/><path d="M564.8,699.2 569.0,699.3 571.5,697.7 573.3,696.9 577.3,694.0 581.6,693.2 584.5,690.9 587.5,690.4 589.2,691.0 592.0,692.3 594.7,692.3 598.0,692.3 600.4,694.3" stroke="#414487"/><path d="M577.4,669.7 579.3,667.8 581.0,667.7 582.8,666.9 585.8,666.5 589.3,667.2 590.6,665.8 593.0,665.6 597.6,665.2 600.4,664.7" stroke="#414487"/><path d="M561.1,643.3 563.6,641.0 566.9,641.0 568.4,639.6 570.0,641.3 572.7,640.9 575.4,640.2 579.4,640.1 581.9,640.3 584.8,641.6 586.9,642.7 589.9,643.2 590.9,645.2 593.5,648.4 595.7,644.6 595.7,640.5 595.4,636.4 596.9,633.4 599.6,630.9 600.7,629.4 600.4,627.5" stroke="#46327e"/><path d="M564.4,652.9 568.1,653.4 570.4,654.4 574.4,654.8 578.0,652.9 581.2,651.2" stroke="#46327e"/><path d="M494.4,715.0 493.1,714.9 491.1,712.5 491.6,709.6 492.6,709.1 494.0,711.3 495.3,713.9Z" stroke="#414487"/><path d="M521.8,744.6 519.0,743.2 516.3,741.3 515.5,738.6 517.5,737.4 520.5,738.3 521.4,741.9Z" stroke="#414487"/><path d="M475.1,715.2 472.7,715.8 470.3,712.0 469.9,709.3 473.3,707.2 476.1,708.9 477.6,713.3Z" stroke="#414487"/><path d="M505.8,737.0 506.3,733.3 508.5,730.3 510.5,729.1 511.9,730.7 511.6,733.6 509.3,736.0Z" stroke="#414487"/><path d="M485.5,732.4 484.2,729.3 485.6,727.5 488.5,727.3 489.9,728.8 489.8,731.7 487.5,733.0Z" stroke="#414487"/><path d="M503.1,718.2 501.0,714.9 500.6,711.0 502.8,707.5 505.7,708.8 507.6,712.5 506.1,716.2Z" stroke="#414487"/><path d="M470.4,725.8 467.1,725.9 467.0,723.2 467.5,720.8 470.8,720.8 472.4,723.0 473.1,724.5Z" stroke="#414487"/><path d="M509.6,731.1 508.9,729.5 508.6,725.6 511.4,723.5 513.3,725.0 512.2,727.8 510.9,729.9Z" stroke="#414487"/><path d="M504.6,736.8 503.9,734.4 506.4,731.7 508.6,732.8 509.8,734.5 508.4,737.1 506.4,737.8Z" stroke="#414487"/><path d="M504.1,746.4 502.7,744.5 502.5,740.8 503.9,738.1 505.3,737.3 506.9,740.3 506.5,745.6Z" stroke="#414487"/><path d="M474.8,739.4 475.2,736.2 475.8,732.7 479.2,731.0 480.8,731.3 479.6,734.8 477.9,738.2Z" stroke="#414487"/><path d="M505.6,734.0 504.0,731.8 502.9,728.9 505.6,728.3 508.4,729.0 509.3,731.0 507.9,732.7Z" stroke="#414487"/><path d="M502.3,721.5 499.5,719.2 499.6,715.4 502.2,713.9 506.2,714.8 506.5,718.8 504.1,720.5Z" stroke="#414487"/><path d="M503.9,703.4 501.8,702.4 502.3,699.0 505.0,698.9 507.3,699.3 507.1,701.2 506.0,703.7Z" stroke="#414487"/><path d="M481.0,731.4 480.3,730.6 479.1,728.8 479.7,726.4 480.6,725.6 482.0,728.2 482.5,731.3Z" stroke="#414487"/><path d="M483.4,703.9 480.7,704.3 478.5,703.7 478.1,702.6 478.8,700.8 481.1,700.6 483.5,701.7Z" stroke="#414487"/><path d="M477.2,704.9 476.2,703.3 476.1,700.9 478.7,699.8 480.9,699.8 481.3,701.5 479.5,704.0Z" stroke="#414487"/><path d="M499.8,714.0 497.8,713.1 496.6,710.6 496.4,707.5 497.6,706.9 499.2,709.6 500.6,712.7Z" stroke="#414487"/><path d="M485.0,719.9 482.8,719.1 481.4,717.9 482.0,716.1 483.9,714.0 486.0,715.1 486.7,717.2Z" stroke="#414487"/><path d="M472.5,727.7 470.1,727.4 468.3,726.8 468.5,724.8 471.0,723.5 473.5,724.2 473.6,725.5Z" stroke="#414487"/><path d="M496.6,743.6 496.8,741.7 499.0,738.4 502.7,737.6 503.4,739.2 502.3,742.0 498.5,743.6Z" stroke="#414487"/><path d="M500.9,717.3 499.0,716.5 498.6,714.4 499.8,713.2 502.7,713.6 504.2,716.0 504.0,718.1Z" stroke="#414487"/><path d="M592.3,716.4 591.9,714.9 594.4,712.2 597.7,713.1 599.6,714.8 596.2,717.1 594.0,717.5Z" stroke="#414487"/><path d="M546.4,691.1 545.3,692.0 542.9,690.3 541.2,688.4 541.0,686.7 544.0,686.0 546.2,688.4Z" stroke="#414487"/><path d="M579.9,714.5 577.8,715.2 576.2,713.8 575.3,712.0 575.4,710.4 578.6,710.6 579.4,712.4Z" stroke="#414487"/><path d="M556.1,716.3 555.7,714.0 558.4,712.0 560.8,712.8 562.8,715.2 561.1,718.0 557.9,719.0Z" stroke="#414487"/><path d="M576.9,699.0 574.6,698.0 572.2,694.9 572.5,691.1 574.3,689.6 576.4,693.0 578.1,697.2Z" stroke="#414487"/><path d="M561.1,718.8 558.9,718.0 558.2,715.3 559.0,712.8 560.7,711.7 562.4,714.2 563.6,718.3Z" stroke="#414487"/><path d="M549.1,707.4 548.6,705.9 550.2,702.6 553.0,702.0 553.9,703.4 553.2,705.7 550.3,707.7Z" stroke="#414487"/><path d="M584.6,688.2 585.1,686.0 588.9,684.9 591.0,685.2 591.7,686.6 590.1,688.0 586.3,688.5Z" stroke="#414487"/><path d="M583.4,693.9 583.6,691.9 586.2,691.4 588.5,691.9 588.0,693.4 587.0,695.1 584.5,695.5Z" stroke="#414487"/><path d="M558.0,708.2 556.9,705.5 556.1,702.3 558.7,701.5 560.8,701.5 560.9,704.6 560.0,707.0Z" stroke="#414487"/><path d="M583.7,693.8 581.8,693.0 581.1,688.8 582.1,686.5 584.2,686.9 585.0,689.2 585.2,691.5Z" stroke="#414487"/><path d="M562.7,699.1 561.1,698.7 559.8,696.8 559.2,693.2 560.9,692.8 562.6,694.6 563.7,697.0Z" stroke="#414487"/><path d="M583.8,706.2 582.5,706.9 581.4,704.8 582.3,703.4 583.8,702.7 584.9,703.8 584.5,704.8Z" stroke="#414487"/><path d="M590.3,715.0 590.2,714.0 591.8,711.6 594.3,710.2 595.6,710.7 593.9,712.9 591.7,715.2Z" stroke="#414487"/><path d="M522.0,504.3 524.0,504.7 526.3,507.5 526.2,509.6 524.8,510.8 522.3,510.6 521.7,507.5Z" stroke="#440154"/><path d="M528.9,513.3 527.3,512.5 526.8,509.5 528.1,507.9 530.2,508.8 531.2,510.7 530.5,513.3Z" stroke="#440154"/><path d="M533.5,503.4 535.5,504.7 535.8,508.1 533.7,509.8 531.7,509.2 530.4,507.3 531.7,505.7Z" stroke="#440154"/><path d="M520.9,514.2 518.9,513.9 517.1,511.6 516.4,508.0 518.9,507.5 521.5,508.7 521.7,511.8Z" stroke="#440154"/><path d="M530.0,503.8 528.6,505.6 526.6,507.0 524.5,505.1 524.1,503.2 525.2,501.4 527.7,501.9Z" stroke="#440154"/><path d="M513.4,507.5 515.3,507.3 517.6,509.5 516.8,512.2 515.6,513.1 513.5,511.4 512.3,509.5Z" stroke="#440154"/><path d="M556.5,516.5 554.0,515.9 551.9,515.4 552.4,512.7 553.8,511.1 555.9,512.0 556.5,513.5Z" stroke="#440154"/><path d="M553.2,516.2 553.4,518.2 552.9,521.5 551.0,521.5 549.8,520.7 550.1,519.3 550.8,516.5Z" stroke="#440154"/><path d="M545.8,524.7 545.5,523.5 546.5,521.6 549.0,520.6 549.7,521.6 550.3,524.4 547.5,525.0Z" stroke="#440154"/><path d="M546.2,531.9 546.7,530.2 548.5,530.3 550.5,531.0 550.2,532.6 549.1,534.2 546.7,533.6Z" stroke="#440154"/><path d="M546.2,540.9 544.4,540.4 543.5,538.4 543.7,535.9 545.7,534.6 547.7,536.5 548.4,539.1Z" stroke="#440154"/><path d="M557.0,553.4 554.7,552.1 551.5,550.6 552.3,548.2 554.2,546.7 556.5,547.9 558.0,550.9Z" stroke="#440154"/><path d="M537.0,556.3 534.6,555.3 534.5,552.2 535.3,549.4 536.7,550.0 539.0,552.1 538.2,554.8Z" stroke="#440154"/><path d="M538.1,563.1 535.7,563.6 532.7,563.7 531.7,561.5 532.8,559.8 535.1,559.6 537.5,560.9Z" stroke="#440154"/><path d="M545.1,561.3 546.2,563.1 544.5,565.6 542.0,566.2 539.2,564.8 540.1,561.5 542.7,559.6Z" stroke="#440154"/><path d="M528.2,572.0 526.4,572.4 524.3,571.4 523.7,569.4 525.1,568.0 527.0,568.3 529.2,570.2Z" stroke="#440154"/><path d="M535.8,581.2 534.9,578.8 538.4,577.0 541.1,576.6 542.0,579.0 540.4,580.8 537.9,581.9Z" stroke="#440154"/><path d="M546.3,587.9 544.5,586.8 543.6,584.8 543.5,582.4 545.3,581.6 547.4,583.4 548.4,586.2Z" stroke="#440154"/><path d="M536.4,581.8 538.4,580.8 542.1,581.7 542.5,583.6 542.5,585.5 539.6,585.4 537.5,584.7Z" stroke="#440154"/><path d="M546.0,586.1 546.8,583.9 548.7,584.8 550.8,586.2 551.0,587.4 549.6,589.4 546.3,588.0Z" stroke="#440154"/><path d="M512.5,486.7 515.9,485.7 518.6,483.7 520.9,485.6 523.7,487.3 528.7,485.8 531.6,488.3 534.8,489.9 536.9,493.4 538.3,497.0 540.9,493.8 538.9,495.8 536.2,497.9 534.1,500.3 532.2,499.5 529.4,498.3 526.8,498.1 522.3,498.0 518.4,496.5 516.9,493.9 515.0,492.0 514.0,489.7Z" stroke="#440154"/><path d="M156.4,590.8 152.8,588.7 153.2,584.3 156.2,581.9 158.7,579.8 161.3,581.9 163.4,586.0 160.2,588.4Z" stroke="#7ad151"/><path d="M147.6,587.6 144.8,586.7 142.7,585.1 140.8,583.4 138.7,580.4 136.4,577.6 138.0,575.7 140.9,576.2 145.0,579.8 147.1,583.2Z" stroke="#7ad151"/><path d="M134.0,609.3 134.7,605.2 135.6,602.3 137.9,601.9 138.8,604.2 140.1,607.3 139.0,612.1 138.2,617.1 135.4,615.2 134.4,612.0Z" stroke="#7ad151"/><path d="M172.3,590.2 171.7,593.5 170.2,593.4 169.1,592.0 167.5,589.6 169.5,587.7 171.8,585.5 173.8,587.2Z" stroke="#fde725"/><path d="M138.2,560.1 138.2,557.2 139.5,553.4 144.0,552.4 145.8,555.0 145.4,557.5 144.0,562.0 140.8,562.0Z" stroke="#fde725"/><path d="M166.4,595.9 163.8,599.1 161.9,596.9 159.7,595.2 155.8,590.3 158.0,587.5 161.1,585.6 163.9,587.7 166.0,589.5 167.4,592.6Z" stroke="#fde725"/><path d="M197.0,630.2 192.1,630.2 187.7,628.3 185.4,624.7 185.9,621.3 189.1,621.3 192.3,622.4 194.3,624.0 196.2,626.1Z" stroke="#7ad151"/><path d="M149.7,546.0 145.4,546.7 142.1,544.2 143.2,539.7 147.9,537.1 150.9,536.3 155.3,538.7 153.8,543.2Z" stroke="#7ad151"/><path d="M188.7,615.1 184.0,616.0 182.2,612.7 184.5,610.2 187.7,608.3 191.5,609.5 194.8,609.9 192.2,612.5Z" stroke="#fde725"/><path d="M195.0,576.1 192.5,577.5 189.5,578.4 188.4,575.8 186.5,573.8 186.0,570.5 187.5,567.7 190.4,565.0 194.5,566.8 196.2,571.5Z" stroke="#fde725"/><path d="M141.2,570.3 138.2,569.9 135.9,568.0 134.5,566.2 132.5,563.0 130.8,558.7 134.7,561.1 138.5,562.5 139.8,565.1 142.2,567.7Z" stroke="#7ad151"/><path d="M138.7,543.2 135.6,542.8 133.2,540.7 133.0,538.0 136.6,536.5 139.8,537.3 143.1,539.0 140.6,541.4Z" stroke="#7ad151"/><path d="M143.7,605.3 142.2,605.1 140.4,601.7 140.0,597.7 141.3,593.8 144.0,597.2 145.0,600.0 145.2,604.1Z" stroke="#fde725"/><path d="M139.4,561.9 139.3,559.6 141.1,556.7 144.4,555.7 147.3,554.6 150.2,556.3 148.5,560.3 145.2,564.3 141.1,562.8Z" stroke="#7ad151"/><path d="M137.8,571.4 137.9,569.6 142.8,568.5 147.7,568.5 150.2,569.9 148.4,571.4 143.9,572.7 139.3,572.2Z" stroke="#7ad151"/><path d="M146.5,560.0 146.2,563.8 142.1,563.0 140.9,559.8 138.7,557.8 140.6,556.2 144.0,555.9 147.4,557.2Z" stroke="#7ad151"/><path d="M139.1,594.8 134.5,593.3 133.8,591.8 132.6,589.5 132.4,584.1 134.3,580.4 138.1,583.2 139.6,588.0 140.7,591.0Z" stroke="#fde725"/><path d="M197.3,582.8 193.2,584.1 189.7,583.6 186.5,582.7 185.5,580.2 183.5,578.0 183.6,575.8 185.0,574.0 187.4,575.0 189.7,576.6 192.9,578.4 195.6,579.3Z" stroke="#7ad151"/><path d="M181.0,610.0 180.2,605.2 183.0,603.7 186.0,604.8 188.4,608.2 189.5,612.0 187.9,615.3 184.4,614.5Z" stroke="#fde725"/><path d="M150.2,624.0 145.6,625.5 141.9,625.7 138.9,622.5 135.3,619.6 139.2,617.3 144.8,617.2 149.4,620.6Z" stroke="#7ad151"/><path d="M126.6,626.9 127.9,625.1 128.9,622.9 131.0,619.6 135.3,618.9 137.5,619.8 138.2,621.5 135.3,625.2 132.3,625.9 130.5,627.2Z" stroke="#fde725"/><path d="M170.8,564.4 170.0,567.2 167.3,564.9 165.5,563.5 163.1,562.1 161.3,559.9 160.8,556.2 163.7,556.1 166.0,558.3 168.4,559.8 169.8,561.3 172.3,563.7Z" stroke="#fde725"/><path d="M167.3,614.7 164.4,617.8 160.9,618.9 160.3,614.2 162.6,610.8 164.4,608.9 165.8,606.4 168.8,606.7 170.5,610.1 169.3,612.9Z" stroke="#7ad151"/><path d="M133.9,562.3 131.8,562.3 130.6,559.9 130.2,557.3 131.9,556.7 133.5,557.2 136.0,558.3 135.5,560.5Z" stroke="#fde725"/><path d="M163.1,552.8 160.3,549.6 159.3,544.7 161.5,542.8 163.6,540.7 166.5,539.4 169.6,537.4 170.5,541.7 171.3,544.4 171.2,549.6 167.1,552.5Z" stroke="#fde725"/><path d="M169.8,588.3 169.4,587.1 172.4,586.1 174.9,585.4 175.8,586.5 175.5,588.3 173.4,589.1 171.7,588.9Z" stroke="#fde725"/><path d="M168.8,629.5 168.6,623.9 170.2,620.5 173.4,617.4 176.2,618.2 179.3,621.2 178.9,623.2 178.2,625.7 175.3,626.9 173.0,628.7Z" stroke="#fde725"/><path d="M144.5,629.3 144.0,627.0 143.3,624.6 145.6,622.3 148.3,620.6 153.3,619.9 156.4,623.2 155.0,628.6 153.0,633.2 149.0,631.2 146.5,629.9Z" stroke="#fde725"/><path d="M170.2,607.3 169.3,603.0 170.9,600.1 172.3,596.5 175.1,593.9 178.9,592.4 180.6,594.8 178.9,596.9 177.7,600.3 176.5,602.8 174.8,605.6Z" stroke="#7ad151"/><path d="M183.6,621.8 182.2,620.0 180.7,618.1 178.9,615.5 177.2,613.1 179.8,610.6 181.6,608.9 183.2,606.6 185.6,605.5 188.1,607.8 189.7,609.9 189.5,614.2 187.9,618.4Z" stroke="#fde725"/><path d="M165.7,577.5 165.4,573.2 164.7,569.0 166.2,566.3 167.9,563.7 170.4,562.5 171.4,566.1 170.3,570.7 167.9,574.6Z" stroke="#7ad151"/><path d="M189.5,620.8 186.0,618.0 183.8,613.6 186.7,610.7 191.2,610.4 194.6,611.5 195.8,615.5 192.1,617.5Z" stroke="#7ad151"/><path d="M157.2,616.3 156.0,615.7 157.1,613.6 157.2,610.6 157.9,605.6 160.7,603.4 162.0,606.1 161.4,608.9 160.5,612.0 159.0,615.1Z" stroke="#fde725"/><path d="M154.6,558.2 153.8,554.3 158.3,552.4 162.3,551.3 163.7,554.2 165.0,557.8 161.6,560.1 157.2,560.3Z" stroke="#7ad151"/><path d="M149.7,607.8 144.8,607.9 141.5,606.6 139.2,605.1 137.7,604.3 136.6,600.8 140.8,600.6 144.7,600.9 146.8,602.7 149.4,604.5Z" stroke="#fde725"/><path d="M166.2,721.4 164.2,720.0 164.3,717.7 164.2,714.7 168.0,713.0 171.9,710.3 173.3,714.6 173.6,716.6 173.4,719.1 171.1,720.6 169.6,722.8Z" stroke="#fde725"/><path d="M139.5,684.2 137.1,681.0 135.2,677.1 138.7,672.2 141.3,669.7 144.3,672.1 146.4,678.0 145.3,680.5 143.5,683.4Z" stroke="#22a884"/><path d="M143.2,630.9 140.7,629.7 138.2,628.0 139.4,622.9 141.2,621.5 143.7,619.6 146.8,620.9 150.3,621.4 151.0,625.7 150.1,630.4 147.4,631.8Z" stroke="#fde725"/><path d="M173.1,653.2 171.3,655.5 167.8,653.1 166.2,650.2 166.5,648.0 169.9,646.8 173.4,647.6 175.8,651.4Z" stroke="#fde725"/><path d="M146.4,711.7 145.7,709.4 144.7,706.2 147.7,704.9 151.9,706.3 152.9,710.0 152.6,714.6 151.6,718.5 148.1,716.7 147.1,713.7Z" stroke="#fde725"/><path d="M147.3,623.2 148.7,618.2 149.3,614.0 151.1,611.4 153.4,609.6 154.8,610.8 156.0,612.5 153.1,616.8 152.0,619.4 150.7,622.7Z" stroke="#fde725"/><path d="M158.8,655.8 157.9,660.0 155.6,659.7 153.1,659.1 151.3,655.6 151.9,651.2 155.1,650.5 158.4,651.3Z" stroke="#7ad151"/><path d="M166.4,646.4 161.3,646.9 158.8,644.8 160.6,643.0 165.5,641.1 168.1,640.7 170.2,640.9 171.9,643.1 171.4,645.7Z" stroke="#fde725"/><path d="M157.9,721.5 156.4,719.1 155.7,716.4 155.5,711.8 158.4,711.6 160.2,712.9 161.4,715.4 159.9,717.7Z" stroke="#22a884"/><path d="M143.3,608.4 141.2,608.4 137.2,606.7 136.2,602.9 136.6,600.7 138.0,598.5 140.5,600.2 142.0,601.4 143.8,603.8 144.8,606.4Z" stroke="#fde725"/><path d="M142.1,728.3 140.0,724.8 141.8,722.2 143.2,720.3 145.9,718.1 148.8,716.4 151.6,719.9 150.7,722.7 149.0,726.5 145.9,728.9Z" stroke="#22a884"/><path d="M167.3,621.1 165.5,619.0 163.4,616.2 166.0,615.0 170.2,615.1 173.1,616.9 174.2,619.6 171.6,622.0Z" stroke="#22a884"/><path d="M169.8,673.6 166.6,674.5 163.4,674.3 161.3,671.7 160.1,669.8 161.5,666.8 162.2,664.4 164.6,662.4 167.7,661.1 170.7,660.1 174.2,660.2 175.9,663.4 178.4,665.9 176.6,668.3 173.9,670.2Z" stroke="#22a884"/><path d="M162.2,641.4 158.5,644.3 154.8,642.7 152.1,639.4 152.9,635.2 158.2,634.7 161.2,635.2 165.9,637.3 164.4,639.5Z" stroke="#22a884"/><path d="M163.4,775.4 164.5,772.6 166.5,768.8 170.6,769.5 173.8,770.9 173.6,773.6 170.5,776.4 165.0,778.3Z" stroke="#7ad151"/><path d="M164.0,665.2 161.4,662.5 161.8,657.7 166.1,658.1 169.9,658.9 170.4,661.8 169.8,664.9 166.2,666.5Z" stroke="#fde725"/><path d="M157.8,614.0 153.7,612.4 150.4,608.5 149.1,606.4 147.2,603.9 148.5,601.7 152.2,604.3 155.4,605.7 156.7,609.7Z" stroke="#7ad151"/><path d="M159.7,630.5 158.5,628.1 157.3,625.7 161.0,622.3 164.5,622.2 167.6,624.4 168.5,628.2 166.9,631.4 163.4,634.9 161.5,632.6Z" stroke="#fde725"/><path d="M166.1,771.8 162.2,771.0 158.6,769.3 156.9,767.0 154.7,765.4 152.8,762.3 157.3,761.6 159.6,762.9 161.9,765.1 164.4,768.9Z" stroke="#fde725"/><path d="M153.1,657.2 147.3,655.4 145.2,652.5 147.2,648.1 149.9,648.3 152.9,647.9 156.5,648.2 159.9,649.1 160.9,652.8 157.3,655.9Z" stroke="#22a884"/><path d="M141.5,669.2 140.8,666.5 140.4,663.3 143.0,662.3 146.1,661.9 147.2,665.3 148.9,667.5 149.2,669.7 149.6,673.2 146.9,675.0 144.1,674.8 142.5,671.6Z" stroke="#22a884"/><path d="M153.3,706.7 147.9,705.9 149.3,701.1 151.3,698.5 155.6,696.0 158.6,701.0 157.5,703.6 157.8,707.4Z" stroke="#fde725"/><path d="M133.6,775.0 130.9,774.3 129.2,770.7 129.5,766.2 133.0,765.7 137.5,764.0 138.9,766.4 140.9,769.8 140.0,772.3 138.3,775.7Z" stroke="#7ad151"/><path d="M164.5,618.7 160.7,619.4 156.4,617.9 155.3,616.1 153.2,613.9 155.4,611.8 156.9,609.5 161.7,607.9 164.2,608.7 167.0,608.9 167.5,611.8 168.7,614.8 166.2,617.2Z" stroke="#7ad151"/><path d="M152.5,634.2 150.0,632.4 148.1,629.8 146.1,628.1 144.2,626.8 145.8,624.9 148.0,622.8 151.8,618.9 154.0,619.2 156.8,619.1 157.0,624.4 157.3,629.5 155.1,631.8Z" stroke="#fde725"/><path d="M148.5,636.6 146.6,639.6 144.7,640.1 143.0,639.2 141.7,635.3 144.0,631.2 146.2,629.8 148.9,630.9 148.5,634.2Z" stroke="#22a884"/><path d="M144.8,643.0 142.0,647.1 139.1,646.6 137.2,645.1 137.5,640.3 139.1,636.6 142.1,637.3 144.5,639.1Z" stroke="#7ad151"/><path d="M162.6,628.0 159.3,626.8 156.7,626.0 158.5,623.5 161.2,619.8 165.2,620.2 168.1,621.8 167.2,625.2Z" stroke="#7ad151"/><path d="M147.2,676.2 143.7,674.5 140.6,671.5 145.6,670.9 149.0,670.4 153.1,672.9 153.5,676.0 150.8,677.6Z" stroke="#7ad151"/><path d="M214.6,717.5 214.0,715.2 214.7,712.0 217.9,708.5 220.7,708.8 220.1,712.2 218.1,715.4 215.7,719.0Z" stroke="#2a788e"/><path d="M241.8,722.2 238.5,724.8 237.1,723.6 234.9,721.6 236.4,717.9 239.7,714.9 243.9,714.7 243.6,718.3Z" stroke="#22a884"/><path d="M255.8,721.2 252.0,722.5 250.9,720.0 248.6,718.5 251.0,716.1 254.2,714.1 256.8,715.2 257.9,717.9Z" stroke="#22a884"/><path d="M183.5,714.7 181.8,713.9 179.2,711.9 179.4,708.4 180.3,707.1 182.1,707.5 183.8,709.2 184.8,713.7Z" stroke="#22a884"/><path d="M223.9,603.4 226.1,599.1 227.9,596.0 231.3,598.6 233.2,600.9 233.7,605.3 230.8,606.0 226.1,607.0Z" stroke="#22a884"/><path d="M187.9,670.3 183.8,670.1 181.9,669.7 179.6,667.5 180.4,665.5 183.3,662.8 187.1,663.8 188.7,667.0Z" stroke="#2a788e"/><path d="M179.0,619.5 175.7,617.9 176.1,613.6 176.8,610.6 180.3,609.4 182.6,611.0 182.8,614.8 181.5,618.0Z" stroke="#22a884"/><path d="M182.3,625.6 180.6,622.5 184.1,619.8 188.0,618.4 190.2,623.1 188.2,626.5 187.7,630.4 183.9,630.0Z" stroke="#22a884"/><path d="M183.1,610.5 179.9,613.2 176.6,611.7 176.5,607.8 178.8,605.4 181.8,604.4 185.9,604.7 185.6,608.1Z" stroke="#2a788e"/><path d="M209.3,672.8 209.4,671.0 210.6,668.1 212.7,666.1 214.4,664.6 214.8,665.8 212.4,669.0 210.7,672.8Z" stroke="#22a884"/><path d="M245.8,627.4 243.2,628.6 240.1,627.6 237.7,624.8 237.9,622.2 240.7,621.2 244.6,621.1 245.9,624.0Z" stroke="#22a884"/><path d="M184.4,673.3 183.0,669.3 184.3,665.5 187.9,664.5 190.9,663.6 191.7,668.1 190.8,670.6 187.5,673.5Z" stroke="#22a884"/><path d="M239.2,684.0 240.1,681.7 242.2,680.8 244.8,680.3 245.2,682.9 245.4,685.8 243.4,687.7 240.9,686.1Z" stroke="#22a884"/><path d="M234.6,638.3 234.2,634.5 236.3,631.8 239.4,630.7 241.6,633.3 243.9,635.5 240.9,638.7 237.0,639.6Z" stroke="#2a788e"/><path d="M203.0,723.6 203.1,718.9 203.3,716.7 205.7,714.9 210.6,715.4 212.6,719.4 211.2,723.6 207.5,724.6Z" stroke="#2a788e"/><path d="M209.3,695.8 207.2,697.3 205.1,700.0 203.8,698.1 201.9,695.9 203.3,693.1 206.2,691.6 209.0,693.1Z" stroke="#22a884"/><path d="M201.7,686.6 197.0,684.9 198.4,682.1 199.9,680.4 204.3,681.6 206.5,684.2 207.5,686.6 205.6,687.3Z" stroke="#2a788e"/><path d="M197.3,687.9 198.2,686.2 200.9,683.7 203.6,685.3 205.5,686.4 204.0,688.2 200.8,689.3 197.7,690.9Z" stroke="#2a788e"/><path d="M225.3,698.1 224.0,697.4 224.7,693.8 226.1,690.3 228.5,686.5 228.4,690.5 228.2,694.6 226.9,697.3Z" stroke="#2a788e"/><path d="M233.6,636.4 232.4,636.8 231.3,635.5 230.9,634.0 231.7,632.4 234.3,632.7 235.5,633.9 235.4,635.7Z" stroke="#22a884"/><path d="M177.6,634.2 179.1,632.0 181.2,629.3 184.6,629.9 185.9,632.1 184.5,633.8 182.0,635.3 179.2,636.2Z" stroke="#2a788e"/><path d="M218.3,736.0 217.2,735.2 216.6,731.7 217.9,729.2 220.5,726.3 220.3,729.0 220.3,731.9 219.5,737.2Z" stroke="#2a788e"/><path d="M237.0,607.7 235.5,608.1 233.8,608.0 232.3,606.2 233.0,604.2 234.1,602.7 236.3,602.1 237.7,604.5Z" stroke="#2a788e"/><path d="M213.3,687.5 211.2,684.7 211.5,681.4 211.9,679.0 213.3,675.5 215.7,677.2 216.3,682.0 216.1,686.5Z" stroke="#22a884"/><path d="M225.0,652.9 221.6,653.2 219.4,651.0 218.1,648.1 218.5,645.9 221.8,644.2 224.5,646.4 227.0,649.8Z" stroke="#22a884"/><path d="M233.8,640.6 232.7,641.2 230.6,641.2 228.7,639.3 229.2,637.7 230.4,636.5 232.2,638.2 233.6,639.6Z" stroke="#22a884"/><path d="M229.9,652.5 230.5,650.7 232.7,649.5 235.6,650.2 238.3,650.5 237.6,652.2 233.2,652.9 230.9,653.0Z" stroke="#2a788e"/><path d="M246.0,610.7 246.2,607.7 249.1,606.3 251.7,607.2 253.9,609.5 252.2,611.9 251.1,613.8 248.7,612.5Z" stroke="#2a788e"/><path d="M188.0,671.4 190.6,669.1 192.7,667.2 197.4,667.0 198.3,669.6 197.1,672.3 193.9,672.7 191.1,672.2Z" stroke="#2a788e"/><path d="M243.6,682.9 240.7,683.0 238.5,682.4 235.4,679.9 235.9,676.5 238.6,675.7 241.3,677.7 242.1,679.7Z" stroke="#22a884"/><path d="M179.8,673.1 175.8,673.4 172.9,671.5 175.1,668.3 177.8,666.2 180.1,667.1 182.3,668.8 181.7,671.8Z" stroke="#22a884"/><path d="M188.2,678.1 190.2,674.9 194.0,673.1 198.6,674.8 201.5,677.0 197.7,678.9 194.8,680.3 190.6,681.2Z" stroke="#22a884"/><path d="M248.3,701.0 245.4,696.5 246.0,694.0 249.2,693.8 252.3,697.0 255.3,699.4 253.0,700.4 251.3,701.8Z" stroke="#22a884"/><path d="M222.8,652.8 219.8,651.5 221.1,647.5 222.0,643.4 225.0,641.5 227.2,644.9 227.1,648.6 225.8,652.4Z" stroke="#22a884"/><path d="M222.4,700.8 221.0,697.4 223.2,694.6 226.7,696.3 229.1,699.1 228.8,703.7 226.9,706.3 224.7,703.0Z" stroke="#22a884"/><path d="M244.0,607.9 242.6,606.6 241.3,605.0 242.4,601.8 245.1,603.1 246.9,603.9 247.6,606.0 245.9,607.4Z" stroke="#22a884"/><path d="M182.6,674.4 180.8,673.0 177.6,671.0 181.0,670.0 182.9,668.8 184.5,671.1 186.5,672.6 184.7,673.6Z" stroke="#22a884"/><path d="M223.0,651.8 221.6,650.4 222.5,648.8 224.2,647.7 226.2,647.8 227.1,649.6 226.6,651.8 224.4,653.1Z" stroke="#22a884"/><path d="M237.7,614.2 237.7,610.2 237.4,607.1 241.6,606.5 245.6,605.8 247.8,609.2 244.7,613.0 241.1,613.7Z" stroke="#22a884"/><path d="M190.3,661.4 187.8,660.5 189.5,656.4 192.0,653.9 193.4,653.0 194.8,654.7 194.8,658.3 192.3,660.6Z" stroke="#22a884"/></g></g><text x="0" y="0" font-size="15.6" text-anchor="middle" fill="#fde725" transform="translate(360.5,338) rotate(-75)" dy="5.5">−31</text><text x="0" y="0" font-size="15.6" text-anchor="middle" fill="#fde725" transform="translate(358.5,445) rotate(90)" dy="5.5">−31</text><text x="0" y="0" font-size="15.6" text-anchor="middle" fill="#fde725" transform="translate(769,177.5) rotate(-22)" dy="5.5">−31</text><text x="0" y="0" font-size="15.6" text-anchor="middle" fill="#fde725" transform="translate(826,729) rotate(-62)" dy="5.5">−31</text><text x="0" y="0" font-size="15.6" text-anchor="middle" fill="#fde725" transform="translate(183.5,788) rotate(5)" dy="5.5">−31</text><text x="0" y="0" font-size="15.6" text-anchor="middle" fill="#fde725" transform="translate(162.5,603) rotate(8)" dy="5.5">−31</text><text x="0" y="0" font-size="15.6" text-anchor="middle" fill="#7ad151" transform="translate(792,391) rotate(58)" dy="5.5">−42</text><text x="0" y="0" font-size="15.6" text-anchor="middle" fill="#7ad151" transform="translate(795.5,746) rotate(-62)" dy="5.5">−42</text><text x="0" y="0" font-size="15.6" text-anchor="middle" fill="#7ad151" transform="translate(183.5,778.5) rotate(0)" dy="5.5">−42</text><text x="0" y="0" font-size="15.6" text-anchor="middle" fill="#7ad151" transform="translate(143,560.5) rotate(80)" dy="5.5">−42</text><text x="0" y="0" font-size="15.6" text-anchor="middle" fill="#22a884" transform="translate(246,762.5) rotate(0)" dy="5.5">−54</text><text x="0" y="0" font-size="15.6" text-anchor="middle" fill="#22a884" transform="translate(684.5,790) rotate(-68)" dy="5.5">−54</text><text x="0" y="0" font-size="15.6" text-anchor="middle" fill="#22a884" transform="translate(147.5,669.5) rotate(65)" dy="5.5">−54</text><text x="0" y="0" font-size="15.6" text-anchor="middle" fill="#2a788e" transform="translate(438.5,395.5) rotate(-38)" dy="5.5">−64</text><text x="0" y="0" font-size="15.6" text-anchor="middle" fill="#2a788e" transform="translate(321,693.5) rotate(0)" dy="5.5">−64</text><text x="0" y="0" font-size="15.6" text-anchor="middle" fill="#2a788e" transform="translate(328,507) rotate(80)" dy="5.5">−64</text><text x="0" y="0" font-size="15.6" text-anchor="middle" fill="#414487" transform="translate(547,369) rotate(6)" dy="5.5">−76</text><text x="0" y="0" font-size="15.6" text-anchor="middle" fill="#414487" transform="translate(492,672.5) rotate(14)" dy="5.5">−76</text><text x="0" y="0" font-size="15.6" text-anchor="middle" fill="#46327e" transform="translate(387.5,645.5) rotate(22)" dy="5.5">−81</text><text x="0" y="0" font-size="15.6" text-anchor="middle" fill="#46327e" transform="translate(547,642.5) rotate(3)" dy="5.5">−81</text><text x="0" y="0" font-size="15.6" text-anchor="middle" fill="#440154" transform="translate(521,493) rotate(62)" dy="5.5">−90</text><path d="M110.4,746.4 L114.2,744.5 L118.9,745.4 L124.6,747.3 L128.4,744.5 L133.1,743.6 L137.9,747.3 L141.7,749.2 L144.5,756.8" fill="none" stroke="#fff" stroke-width="1.4"/><path d="M109.5,794.7 L112.3,800.4 L118.9,803.2 L125.6,802.2" fill="none" stroke="#fff" stroke-width="1.4"/><path d="M144.5,756.8 L146.4,761.5 L153,765.3 L156.8,770.1 L154.9,778.6 L156.8,782.4 L154,787.1 L153,794.7 L155.9,799.4 L156.8,802.2 L154,802.7" fill="none" stroke="#fff" stroke-width="1.4"/><g stroke="#fff" stroke-width="2.08" stroke-dasharray="2.08 3.43" fill="none"><line x1="194.1" y1="103.1" x2="194.1" y2="827.9"/><line x1="339.8" y1="103.1" x2="339.8" y2="827.9"/><line x1="485.6" y1="103.1" x2="485.6" y2="827.9"/><line x1="631.3" y1="103.1" x2="631.3" y2="827.9"/><line x1="777.1" y1="103.1" x2="777.1" y2="827.9"/><line x1="110.1" y1="203.1" x2="835.1" y2="203.1"/><line x1="110.1" y1="348.8" x2="835.1" y2="348.8"/><line x1="110.1" y1="494.6" x2="835.1" y2="494.6"/><line x1="110.1" y1="640.3" x2="835.1" y2="640.3"/><line x1="110.1" y1="786.1" x2="835.1" y2="786.1"/></g><rect x="435.8" y="429.2" width="72.2" height="72.5" fill="#ff0000" fill-opacity="0.4"/><path d="M109.5,276.0 C116.2,278.5 136.0,285.2 150.0,291.0 C164.0,296.8 172.8,301.2 193.3,310.9 C213.8,320.6 248.8,336.4 273.2,349.1 C297.6,361.8 320.4,375.7 339.5,387.3 C358.6,398.9 372.2,409.4 387.8,418.8 C403.4,428.2 418.6,436.1 432.8,443.6 C447.1,451.1 466.6,460.4 473.3,463.8" fill="none" stroke="#0000ff" stroke-width="2.7" stroke-dasharray="2.7 4.4"/><path d="M493.3,473.3 L573.3,495.8 L646.2,495.8 L704.0,502.0 L733.5,516.3 L784.4,546.4 L820.1,575.6 L834.5,568.9" fill="none" stroke="#0000ff" stroke-width="2.6"/><path d="M573.3,495.8 L646.2,495.8 L704,502" fill="none" stroke="#0000ff" stroke-width="3.6" stroke-dasharray="2.7 4.4"/><circle cx="493.3" cy="473.3" r="4.6" fill="#0000ff"/><circle cx="573.3" cy="495.8" r="4.6" fill="#0000ff"/><circle cx="646.2" cy="495.8" r="4.6" fill="#0000ff"/><circle cx="704.0" cy="502.0" r="4.6" fill="#0000ff"/><circle cx="733.5" cy="516.3" r="4.6" fill="#0000ff"/><circle cx="784.4" cy="546.4" r="4.6" fill="#0000ff"/><circle cx="820.1" cy="575.6" r="4.6" fill="#0000ff"/><g stroke="#00bfbf" stroke-width="1.6" fill="none"><path d="M532.4,478.4 l5.2,5.2 M532.4,483.6 l5.2,-5.2"/><path d="M534.4,478.7 l5.2,5.2 M534.4,483.9 l5.2,-5.2"/><path d="M536.4,479.0 l5.2,5.2 M536.4,484.2 l5.2,-5.2"/><path d="M538.4,479.4 l5.2,5.2 M538.4,484.6 l5.2,-5.2"/><path d="M540.4,479.7 l5.2,5.2 M540.4,484.9 l5.2,-5.2"/><path d="M542.4,480.0 l5.2,5.2 M542.4,485.2 l5.2,-5.2"/><path d="M544.4,480.3 l5.2,5.2 M544.4,485.5 l5.2,-5.2"/><path d="M546.4,480.6 l5.2,5.2 M546.4,485.8 l5.2,-5.2"/><path d="M548.4,481.0 l5.2,5.2 M548.4,486.2 l5.2,-5.2"/><path d="M550.4,481.3 l5.2,5.2 M550.4,486.5 l5.2,-5.2"/><path d="M552.4,481.6 l5.2,5.2 M552.4,486.8 l5.2,-5.2"/><path d="M554.4,481.9 l5.2,5.2 M554.4,487.1 l5.2,-5.2"/><path d="M556.4,482.2 l5.2,5.2 M556.4,487.4 l5.2,-5.2"/><path d="M558.4,482.6 l5.2,5.2 M558.4,487.8 l5.2,-5.2"/><path d="M560.4,482.9 l5.2,5.2 M560.4,488.1 l5.2,-5.2"/><path d="M562.4,483.2 l5.2,5.2 M562.4,488.4 l5.2,-5.2"/><path d="M564.4,483.5 l5.2,5.2 M564.4,488.7 l5.2,-5.2"/><path d="M566.4,483.8 l5.2,5.2 M566.4,489.0 l5.2,-5.2"/><path d="M568.4,484.2 l5.2,5.2 M568.4,489.4 l5.2,-5.2"/><path d="M599.9,458.9 l5.2,5.2 M599.9,464.1 l5.2,-5.2"/><path d="M601.8,459.4 l5.2,5.2 M601.8,464.6 l5.2,-5.2"/><path d="M603.6,459.8 l5.2,5.2 M603.6,465.0 l5.2,-5.2"/><path d="M605.5,460.3 l5.2,5.2 M605.5,465.5 l5.2,-5.2"/><path d="M607.4,460.7 l5.2,5.2 M607.4,465.9 l5.2,-5.2"/><path d="M609.2,461.2 l5.2,5.2 M609.2,466.4 l5.2,-5.2"/><path d="M611.1,461.6 l5.2,5.2 M611.1,466.8 l5.2,-5.2"/><path d="M612.9,462.1 l5.2,5.2 M612.9,467.3 l5.2,-5.2"/><path d="M614.8,462.5 l5.2,5.2 M614.8,467.7 l5.2,-5.2"/><path d="M616.7,463.0 l5.2,5.2 M616.7,468.2 l5.2,-5.2"/><path d="M618.5,463.4 l5.2,5.2 M618.5,468.6 l5.2,-5.2"/><path d="M620.4,463.9 l5.2,5.2 M620.4,469.1 l5.2,-5.2"/><path d="M622.3,464.4 l5.2,5.2 M622.3,469.6 l5.2,-5.2"/><path d="M624.1,464.8 l5.2,5.2 M624.1,470.0 l5.2,-5.2"/><path d="M626.0,465.3 l5.2,5.2 M626.0,470.5 l5.2,-5.2"/><path d="M627.9,465.7 l5.2,5.2 M627.9,470.9 l5.2,-5.2"/><path d="M629.7,466.2 l5.2,5.2 M629.7,471.4 l5.2,-5.2"/><path d="M631.6,466.6 l5.2,5.2 M631.6,471.8 l5.2,-5.2"/><path d="M633.4,467.1 l5.2,5.2 M633.4,472.3 l5.2,-5.2"/><path d="M635.3,467.5 l5.2,5.2 M635.3,472.7 l5.2,-5.2"/><path d="M637.2,468.0 l5.2,5.2 M637.2,473.2 l5.2,-5.2"/><path d="M639.0,468.4 l5.2,5.2 M639.0,473.6 l5.2,-5.2"/><path d="M640.9,468.9 l5.2,5.2 M640.9,474.1 l5.2,-5.2"/><path d="M642.4,470.5 l5.2,5.2 M642.4,475.7 l5.2,-5.2"/><path d="M643.9,472.1 l5.2,5.2 M643.9,477.4 l5.2,-5.2"/><path d="M645.4,473.8 l5.2,5.2 M645.4,479.0 l5.2,-5.2"/><path d="M646.9,475.4 l5.2,5.2 M646.9,480.6 l5.2,-5.2"/><path d="M648.4,477.0 l5.2,5.2 M648.4,482.2 l5.2,-5.2"/><path d="M649.9,478.6 l5.2,5.2 M649.9,483.9 l5.2,-5.2"/><path d="M651.4,480.3 l5.2,5.2 M651.4,485.5 l5.2,-5.2"/><path d="M652.9,481.9 l5.2,5.2 M652.9,487.1 l5.2,-5.2"/><path d="M654.9,482.4 l5.2,5.2 M654.9,487.6 l5.2,-5.2"/><path d="M656.8,482.8 l5.2,5.2 M656.8,488.0 l5.2,-5.2"/><path d="M658.8,483.3 l5.2,5.2 M658.8,488.5 l5.2,-5.2"/><path d="M660.7,483.7 l5.2,5.2 M660.7,488.9 l5.2,-5.2"/><path d="M662.7,484.2 l5.2,5.2 M662.7,489.4 l5.2,-5.2"/><path d="M664.6,484.6 l5.2,5.2 M664.6,489.8 l5.2,-5.2"/><path d="M666.6,485.1 l5.2,5.2 M666.6,490.3 l5.2,-5.2"/><path d="M668.5,485.5 l5.2,5.2 M668.5,490.7 l5.2,-5.2"/><path d="M670.5,486.0 l5.2,5.2 M670.5,491.2 l5.2,-5.2"/><path d="M672.4,486.4 l5.2,5.2 M672.4,491.6 l5.2,-5.2"/><path d="M674.4,486.9 l5.2,5.2 M674.4,492.1 l5.2,-5.2"/><path d="M676.4,487.4 l5.2,5.2 M676.4,492.6 l5.2,-5.2"/><path d="M678.3,487.8 l5.2,5.2 M678.3,493.0 l5.2,-5.2"/><path d="M680.3,488.3 l5.2,5.2 M680.3,493.5 l5.2,-5.2"/><path d="M682.2,488.7 l5.2,5.2 M682.2,493.9 l5.2,-5.2"/><path d="M684.2,489.2 l5.2,5.2 M684.2,494.4 l5.2,-5.2"/><path d="M686.1,489.6 l5.2,5.2 M686.1,494.8 l5.2,-5.2"/><path d="M688.1,490.1 l5.2,5.2 M688.1,495.3 l5.2,-5.2"/><path d="M690.0,490.5 l5.2,5.2 M690.0,495.7 l5.2,-5.2"/><path d="M692.0,491.0 l5.2,5.2 M692.0,496.2 l5.2,-5.2"/><path d="M693.9,491.4 l5.2,5.2 M693.9,496.6 l5.2,-5.2"/></g><path d="M478.0,466.8 L528.3,481.0 L552.0,481.5 L570.8,487.0 L603.3,463.3 L640.0,475.3 L647.5,485.5 L656.0,488.5 L700.0,499.0" fill="none" stroke="#008000" stroke-width="3.3" stroke-linejoin="round"/><path d="M471.7,465.0 L526.7,483.3 L570.0,491.7 L605.8,465.3 L643.3,475.5 L655.0,487.5 L695.0,496.7 L703.3,501.3" fill="none" stroke="#ff0000" stroke-width="3.8" stroke-linejoin="round"/><path d="M520,480 L545,482 L556,480.5 L563,482.5 L572,492.5 L556,492 L538,489 Z" fill="#ff0000"/><rect x="489.8" y="455.3" width="9.4" height="9.4" fill="#bf00bf"/><rect x="507.0" y="495.3" width="9.4" height="9.4" fill="#bf00bf"/><rect x="619.0" y="486.1" width="9.4" height="9.4" fill="#bf00bf"/><rect x="698.1" y="496.5" width="9.4" height="9.4" fill="#bf00bf"/><circle cx="704.0" cy="502.0" r="4.6" fill="#0000ff"/><path d="M465.3,443.1 L475.7,453.5 M465.3,453.5 L475.7,443.1" stroke="#ff0000" stroke-width="3.4" fill="none"/><rect x="433.7" y="108.8" width="394.9" height="187.9" rx="4" fill="#fff" fill-opacity="0.8" stroke="#ccc" stroke-opacity="0.8" stroke-width="2.1"/><text x="484.7" y="128.2" font-size="15.6" text-anchor="start" font-weight="normal" fill="#000" >AMSU Locations [NOAAMC/1219Z 26 1008]</text><text x="484.7" y="151.0" font-size="15.6" text-anchor="start" font-weight="normal" fill="#000" >ARCHER Locations [0647Z]</text><text x="484.7" y="173.7" font-size="15.6" text-anchor="start" font-weight="normal" fill="#000" >SATCON Locations [0740Z 41 993]</text><text x="484.7" y="196.5" font-size="15.6" text-anchor="start" font-weight="normal" fill="#000" >ADT Tracks [1420Z 51.0 996.0]</text><text x="484.7" y="219.3" font-size="15.6" text-anchor="start" font-weight="normal" fill="#000" >JTWC/NHC Forecast [19/1200Z]</text><text x="484.7" y="242.0" font-size="15.6" text-anchor="start" font-weight="normal" fill="#000" >JTWC/NHC Tracks [19/1200Z]</text><text x="484.7" y="264.8" font-size="15.6" text-anchor="start" font-weight="normal" fill="#000" >MESOSCALE/TARGET Location</text><text x="484.7" y="287.6" font-size="15.6" text-anchor="start" font-weight="normal" fill="#000" >Floater Locater</text><rect x="451.8" y="117.89999999999999" width="9.4" height="9.4" fill="#bf00bf"/><rect x="451.8" y="140.67000000000002" width="9.4" height="9.4" fill="#bf00bf"/><path d="M452.2,163.8 L460.8,172.4 M452.2,172.4 L460.8,163.8" stroke="#00bfbf" stroke-width="2.8" fill="none"/><line x1="439.3" y1="190.91" x2="473.9" y2="190.91" stroke="#008000" stroke-width="3.3"/><line x1="439.3" y1="213.68" x2="473.9" y2="213.68" stroke="#0000ff" stroke-width="2.7" stroke-dasharray="2.7 4.0"/><line x1="439.3" y1="236.45" x2="473.9" y2="236.45" stroke="#0000ff" stroke-width="3.0"/><circle cx="456.5" cy="236.45" r="4.7" fill="#0000ff"/><path d="M451.5,254.2 L461.5,264.2 M451.5,264.2 L461.5,254.2" stroke="#ff0000" stroke-width="3.4" fill="none"/><line x1="439.3" y1="281.99" x2="473.9" y2="281.99" stroke="#ff0000" stroke-width="3.3"/></g><rect x="106.4" y="805.2" width="312" height="25.8" rx="4" fill="#000"/><text x="111.2" y="821.8" font-size="17.3" text-anchor="start" font-weight="bold" fill="#fff" >Copyright © 2020-2025 Dapiya</text><rect x="108.6" y="101.6" width="728.0" height="727.8" fill="none" stroke="#000" stroke-width="3.0"/><text x="194.1" y="850.9" font-size="13.4" text-anchor="middle" font-weight="normal" fill="#000" >126°E</text><text x="339.8" y="850.9" font-size="13.4" text-anchor="middle" font-weight="normal" fill="#000" >128°E</text><text x="485.6" y="850.9" font-size="13.4" text-anchor="middle" font-weight="normal" fill="#000" >130°E</text><text x="631.3" y="850.9" font-size="13.4" text-anchor="middle" font-weight="normal" fill="#000" >132°E</text><text x="777.1" y="850.9" font-size="13.4" text-anchor="middle" font-weight="normal" fill="#000" >134°E</text><text x="100.0" y="207.9" font-size="13.4" text-anchor="end" font-weight="normal" fill="#000" >20°N</text><text x="100.0" y="353.6" font-size="13.4" text-anchor="end" font-weight="normal" fill="#000" >18°N</text><text x="100.0" y="499.4" font-size="13.4" text-anchor="end" font-weight="normal" fill="#000" >16°N</text><text x="100.0" y="645.1" font-size="13.4" text-anchor="end" font-weight="normal" fill="#000" >14°N</text><text x="100.0" y="790.9" font-size="13.4" text-anchor="end" font-weight="normal" fill="#000" >12°N</text><g clip-path="url(#axTR)"><g clip-path="url(#cpTR)"><g filter="url(#lut)"><rect x="940" y="60" width="820" height="800" fill="#3c3c3c"/><g filter="url(#b40)"><path d="M1330.0,60.0 L1760.0,60.0 L1760.0,150.0 L1560.0,170.0 L1420.0,210.0 L1330.0,230.0 L1260.0,200.0Z" fill="#333333"/><path d="M940.0,60.0 L1110.0,60.0 L1080.0,250.0 L1030.0,420.0 L940.0,500.0Z" fill="#4b4b4b"/></g><g filter="url(#b12)"><path d="M940.0,520.0 L1010.0,490.0 L1060.0,455.0 L1110.0,440.0 L1150.0,455.0 L1185.0,480.0 L1200.0,520.0 L1190.0,560.0 L940.0,600.0Z" fill="#555555"/><path d="M975.0,430.0 L1040.0,400.0 L1062.0,362.0 L1100.0,352.0 L1150.0,348.0 L1200.0,362.0 L1212.0,420.0 L1207.0,480.0 L975.0,490.0Z" fill="#535353"/><path d="M1215.0,500.0 L1222.0,430.0 L1235.0,365.0 L1255.0,320.0 L1290.0,290.0 L1340.0,265.0 L1400.0,240.0 L1460.0,215.0 L1520.0,195.0 L1600.0,200.0 L1700.0,200.0 L1700.0,420.0 L1600.0,400.0 L1540.0,370.0 L1480.0,345.0 L1420.0,335.0 L1360.0,345.0 L1310.0,368.0 L1270.0,405.0 L1245.0,450.0 L1230.0,510.0Z" fill="#5f5f5f"/></g><g filter="url(#b8)"><path d="M1330.0,290.0 L1400.0,262.0 L1460.0,240.0 L1520.0,222.0 L1600.0,215.0 L1650.0,212.0 L1650.0,235.0 L1600.0,238.0 L1540.0,250.0 L1480.0,270.0 L1420.0,292.0 L1370.0,312.0 L1335.0,322.0Z" fill="#444444"/><path d="M1560.0,210.0 L1700.0,205.0 L1700.0,225.0 L1560.0,232.0Z" fill="#464646"/><path d="M1440.0,300.0 L1500.0,278.0 L1560.0,262.0 L1640.0,255.0 L1700.0,258.0 L1700.0,430.0 L1640.0,425.0 L1600.0,402.0 L1560.0,382.0 L1510.0,362.0 L1460.0,352.0 L1420.0,347.0Z" fill="#747474"/><path d="M1570.0,372.0 L1700.0,350.0 L1700.0,470.0 L1640.0,475.0 L1612.0,432.0 L1590.0,402.0Z" fill="#8f8f8f"/><path d="M1260.0,440.0 L1280.0,400.0 L1310.0,372.0 L1350.0,350.0 L1400.0,338.0 L1440.0,336.0 L1440.0,350.0 L1390.0,356.0 L1345.0,372.0 L1310.0,395.0 L1285.0,425.0 L1268.0,455.0Z" fill="#707070"/></g><g filter="url(#b4)"><path d="M1455.0,295.0 C1459.2,291.7 1470.8,280.5 1480.0,275.0 C1489.2,269.5 1505.0,264.2 1510.0,262.0" fill="none" stroke="#878787" stroke-width="7" stroke-linecap="round" stroke-linejoin="round"/><path d="M1540.0,280.0 C1546.7,279.3 1565.8,278.0 1580.0,276.0 C1594.2,274.0 1617.5,269.3 1625.0,268.0" fill="none" stroke="#838383" stroke-width="6" stroke-linecap="round" stroke-linejoin="round"/><path d="M1600.0,300.0 C1606.7,298.3 1626.7,294.2 1640.0,290.0 C1653.3,285.8 1673.3,277.5 1680.0,275.0" fill="none" stroke="#808080" stroke-width="6" stroke-linecap="round" stroke-linejoin="round"/></g><g filter="url(#b20)"><path d="M1600.0,400.0 L1760.0,390.0 L1760.0,900.0 L1480.0,900.0 L1520.0,760.0 L1600.0,700.0 L1650.0,600.0 L1650.0,480.0Z" fill="#9e9e9e"/><path d="M1640.0,700.0 L1760.0,640.0 L1760.0,900.0 L1560.0,900.0Z" fill="#8f8f8f"/></g><g filter="url(#wig6)"><g filter="url(#b6)"><path d="M1208.0,475.0 C1208.5,469.0 1209.1,448.5 1211.0,439.0 C1212.9,429.5 1217.0,424.8 1219.6,418.0 C1222.2,411.2 1223.9,404.7 1226.7,398.0 C1229.5,391.3 1236.1,384.8 1236.6,378.0 C1237.1,371.2 1229.3,363.3 1229.5,357.0 C1229.7,350.7 1234.7,346.9 1238.0,340.0 C1241.3,333.1 1243.7,322.3 1249.4,315.6 C1255.1,308.9 1264.4,303.3 1272.0,300.0 C1279.6,296.7 1288.7,297.9 1295.0,296.0 C1301.3,294.1 1302.5,292.5 1310.0,288.5 C1317.5,284.5 1330.8,277.1 1340.0,272.0 C1349.2,266.9 1357.5,262.5 1365.0,258.0 C1372.5,253.5 1376.0,250.0 1385.0,245.0 C1394.0,240.0 1409.8,232.0 1419.0,228.0 C1428.2,224.0 1432.8,224.0 1440.0,221.0 C1447.2,218.0 1458.3,211.8 1462.0,210.0" fill="none" stroke="#727272" stroke-width="40" stroke-linecap="round" stroke-linejoin="round"/><path d="M1477.0,208.0 C1478.8,205.5 1484.7,197.7 1488.0,193.0 C1491.3,188.3 1495.5,182.2 1497.0,180.0" fill="none" stroke="#727272" stroke-width="40" stroke-linecap="round" stroke-linejoin="round"/><path d="M1540.0,191.0 C1543.3,189.7 1553.0,185.3 1560.0,183.0 C1567.0,180.7 1578.3,178.0 1582.0,177.0" fill="none" stroke="#727272" stroke-width="40" stroke-linecap="round" stroke-linejoin="round"/><path d="M1592.0,197.0 C1596.7,195.3 1610.3,189.7 1620.0,187.0 C1629.7,184.3 1638.3,183.2 1650.0,181.0 C1661.7,178.8 1683.3,175.2 1690.0,174.0" fill="none" stroke="#727272" stroke-width="40" stroke-linecap="round" stroke-linejoin="round"/><path d="M1637.0,232.0 C1640.8,232.0 1651.2,231.7 1660.0,232.0 C1668.8,232.3 1685.0,233.7 1690.0,234.0" fill="none" stroke="#727272" stroke-width="40" stroke-linecap="round" stroke-linejoin="round"/></g><g filter="url(#b3)" stroke-dasharray="20 9"><path d="M1208.0,475.0 C1208.5,469.0 1209.1,448.5 1211.0,439.0 C1212.9,429.5 1217.0,424.8 1219.6,418.0 C1222.2,411.2 1223.9,404.7 1226.7,398.0 C1229.5,391.3 1236.1,384.8 1236.6,378.0 C1237.1,371.2 1229.3,363.3 1229.5,357.0 C1229.7,350.7 1234.7,346.9 1238.0,340.0 C1241.3,333.1 1243.7,322.3 1249.4,315.6 C1255.1,308.9 1264.4,303.3 1272.0,300.0 C1279.6,296.7 1288.7,297.9 1295.0,296.0 C1301.3,294.1 1302.5,292.5 1310.0,288.5 C1317.5,284.5 1330.8,277.1 1340.0,272.0 C1349.2,266.9 1357.5,262.5 1365.0,258.0 C1372.5,253.5 1376.0,250.0 1385.0,245.0 C1394.0,240.0 1409.8,232.0 1419.0,228.0 C1428.2,224.0 1432.8,224.0 1440.0,221.0 C1447.2,218.0 1458.3,211.8 1462.0,210.0" fill="none" stroke="#979797" stroke-width="12" stroke-linecap="round" stroke-linejoin="round"/><path d="M1477.0,208.0 C1478.8,205.5 1484.7,197.7 1488.0,193.0 C1491.3,188.3 1495.5,182.2 1497.0,180.0" fill="none" stroke="#979797" stroke-width="12" stroke-linecap="round" stroke-linejoin="round"/><path d="M1540.0,191.0 C1543.3,189.7 1553.0,185.3 1560.0,183.0 C1567.0,180.7 1578.3,178.0 1582.0,177.0" fill="none" stroke="#979797" stroke-width="12" stroke-linecap="round" stroke-linejoin="round"/><path d="M1592.0,197.0 C1596.7,195.3 1610.3,189.7 1620.0,187.0 C1629.7,184.3 1638.3,183.2 1650.0,181.0 C1661.7,178.8 1683.3,175.2 1690.0,174.0" fill="none" stroke="#979797" stroke-width="12" stroke-linecap="round" stroke-linejoin="round"/><path d="M1637.0,232.0 C1640.8,232.0 1651.2,231.7 1660.0,232.0 C1668.8,232.3 1685.0,233.7 1690.0,234.0" fill="none" stroke="#979797" stroke-width="12" stroke-linecap="round" stroke-linejoin="round"/></g></g><g filter="url(#b12)"><path d="M940.0,590.0 L1000.0,575.0 L1060.0,560.0 L1130.0,560.0 L1200.0,560.0 L1230.0,600.0 L1230.0,900.0 L940.0,900.0Z" fill="#979797"/><path d="M975.0,520.0 L1000.0,505.0 L1040.0,500.0 L1065.0,520.0 L1070.0,560.0 L1040.0,580.0 L990.0,590.0 L975.0,580.0Z" fill="#808080"/><path d="M940.0,640.0 L1000.0,620.0 L1030.0,700.0 L1040.0,780.0 L1030.0,900.0 L940.0,900.0Z" fill="#898989"/><path d="M1091.9,505.5 L1118.9,510.0 L1116.7,559.4 L1100.9,570.7Z" fill="#5d5d5d"/><path d="M988.5,465.0 L1091.9,465.0 L1082.9,510.0 L1042.5,523.5 L997.5,521.2Z" fill="#616161"/></g><g filter="url(#b10)"><path d="M1150.0,500.0 L1170.0,462.0 L1195.0,442.0 L1214.0,436.0 L1222.0,460.0 L1216.0,520.0 L1222.0,575.0 L1225.0,640.0 L1230.0,900.0 L1070.0,900.0 L1065.0,800.0 L1085.0,730.0 L1070.0,660.0 L1095.0,600.0 L1120.0,560.0Z" fill="#d6d6d6"/></g><g filter="url(#wig4)"><g filter="url(#b3)"><path d="M1292.0,330.0 C1289.2,332.8 1280.7,340.4 1275.0,347.0 C1269.3,353.6 1262.3,363.8 1258.0,369.5 C1253.7,375.2 1250.5,379.1 1249.0,381.0" fill="none" stroke="#7a7a7a" stroke-width="8" stroke-linecap="round" stroke-linejoin="round"/></g></g><g filter="url(#b20)"><path d="M1600.0,400.0 L1650.0,410.0 L1700.0,440.0 L1700.0,640.0 L1660.0,690.0 L1620.0,720.0 L1580.0,700.0Z" fill="#bdbdbd"/></g><g filter="url(#b12)"><path d="M1226.0,540.0 L1232.0,495.0 L1242.0,455.0 L1258.0,420.0 L1280.0,390.0 L1308.0,362.0 L1345.0,340.0 L1388.0,325.0 L1430.0,318.0 L1478.0,320.0 L1524.0,328.0 L1570.0,340.0 L1615.0,356.0 L1655.0,378.0 L1690.0,405.0 L1710.0,440.0 L1710.0,720.0 L1660.0,760.0 L1600.0,790.0 L1560.0,840.0 L1300.0,840.0 L1300.0,600.0Z" fill="#a2a2a2"/></g><g filter="url(#b12)"><path d="M1222.0,565.0 L1236.0,520.0 L1244.0,480.0 L1256.0,445.0 L1275.0,413.0 L1300.0,388.0 L1336.0,365.0 L1378.0,350.0 L1425.0,343.0 L1472.0,345.0 L1518.0,352.0 L1562.0,362.0 L1606.0,380.0 L1642.0,405.0 L1668.0,440.0 L1683.0,490.0 L1688.0,545.0 L1686.0,610.0 L1668.0,670.0 L1640.0,702.0 L1600.0,732.0 L1560.0,762.0 L1525.0,802.0 L1515.0,850.0 L1205.0,850.0 L1200.0,770.0 L1185.0,730.0 L1150.0,712.0 L1132.0,665.0 L1152.0,628.0 L1200.0,618.0Z" fill="#c5c5c5"/></g><g filter="url(#b8)"><path d="M1225.0,570.0 L1240.0,530.0 L1250.0,485.0 L1262.0,450.0 L1280.0,420.0 L1305.0,395.0 L1340.0,372.0 L1380.0,358.0 L1425.0,352.0 L1470.0,355.0 L1510.0,365.0 L1545.0,382.0 L1575.0,405.0 L1598.0,435.0 L1612.0,470.0 L1620.0,520.0 L1618.0,580.0 L1608.0,640.0 L1590.0,690.0 L1562.0,722.0 L1530.0,748.0 L1500.0,778.0 L1480.0,800.0 L1440.0,795.0 L1400.0,792.0 L1370.0,782.0 L1330.0,770.0 L1290.0,762.0 L1250.0,754.0 L1222.0,742.0 L1200.0,726.0 L1160.0,705.0 L1142.0,665.0 L1160.0,635.0 L1215.0,628.0 L1255.0,634.0 L1290.0,636.0 L1305.0,628.0 L1285.0,614.0 L1258.0,598.0Z" fill="#ffffff"/></g><g filter="url(#b6)"><path d="M1150.0,792.0 L1250.0,790.0 L1370.0,796.0 L1370.0,815.0 L1150.0,815.0Z" fill="#a2a2a2"/></g><g filter="url(#b6)"><path d="M1215.0,585.0 L1245.0,598.0 L1280.0,615.0 L1308.0,628.0 L1285.0,634.0 L1250.0,630.0 L1215.0,622.0Z" fill="#a2a2a2"/></g><g filter="url(#wig6)"><g filter="url(#b3)"><ellipse cx="1184.1" cy="510.0" rx="19.1" ry="15.7" fill="#f3f3f3"/><ellipse cx="1197.6" cy="550.5" rx="15.7" ry="11.2" fill="#f3f3f3"/><ellipse cx="1130.2" cy="586.4" rx="14.6" ry="9.4" fill="#f3f3f3"/><ellipse cx="1154.9" cy="608.9" rx="24.7" ry="12.4" fill="#f3f3f3"/><ellipse cx="1208.9" cy="559.4" rx="6.7" ry="5.6" fill="#f3f3f3"/><ellipse cx="1130.2" cy="707.9" rx="12.4" ry="10.1" fill="#f3f3f3"/><ellipse cx="1121.2" cy="755.1" rx="6.7" ry="4.0" fill="#f3f3f3"/><ellipse cx="1145.9" cy="750.6" rx="5.6" ry="3.4" fill="#f3f3f3"/><ellipse cx="1145.9" cy="480.7" rx="9.0" ry="6.7" fill="#f3f3f3"/><ellipse cx="1100.9" cy="689.9" rx="9.4" ry="14.6" fill="#f3f3f3"/><ellipse cx="1082.9" cy="622.4" rx="5.6" ry="10.1" fill="#f3f3f3"/><ellipse cx="1168.4" cy="665.1" rx="33.7" ry="23.6" fill="#f3f3f3"/><ellipse cx="1109.9" cy="723.6" rx="12.4" ry="16.9" fill="#f3f3f3"/><ellipse cx="1091.9" cy="656.1" rx="8.5" ry="14.6" fill="#f3f3f3"/><ellipse cx="1118.9" cy="635.9" rx="11.2" ry="8.5" fill="#f3f3f3"/><ellipse cx="1159.4" cy="719.1" rx="15.7" ry="11.2" fill="#f3f3f3"/><ellipse cx="1188.6" cy="746.1" rx="15.7" ry="9.0" fill="#f3f3f3"/><path d="M1132.4,532.5 C1135.4,537.0 1143.7,549.7 1150.4,559.4 C1157.2,569.1 1169.2,585.6 1172.9,590.9" fill="none" stroke="#9b9b9b" stroke-width="7" stroke-linecap="round" stroke-linejoin="round"/><path d="M1100.9,590.9 C1102.4,596.1 1107.7,611.1 1109.9,622.4 C1112.2,633.6 1113.7,652.4 1114.4,658.4" fill="none" stroke="#9b9b9b" stroke-width="7" stroke-linecap="round" stroke-linejoin="round"/><path d="M1154.9,689.9 C1158.7,693.6 1169.9,706.4 1177.4,712.4 C1184.9,718.4 1196.2,723.6 1199.9,725.9" fill="none" stroke="#9b9b9b" stroke-width="7" stroke-linecap="round" stroke-linejoin="round"/><path d="M1069.4,667.4 C1071.7,673.0 1077.7,689.9 1082.9,701.1 C1088.2,712.3 1097.9,729.2 1100.9,734.8" fill="none" stroke="#9b9b9b" stroke-width="7" stroke-linecap="round" stroke-linejoin="round"/><path d="M1166.1,539.2 L1184.1,572.9" fill="none" stroke="#9b9b9b" stroke-width="7" stroke-linecap="round" stroke-linejoin="round"/><path d="M1114.4,730.3 C1117.4,732.9 1125.7,742.4 1132.4,746.1 C1139.2,749.9 1151.2,751.7 1154.9,752.8" fill="none" stroke="#9b9b9b" stroke-width="7" stroke-linecap="round" stroke-linejoin="round"/><path d="M1177.4,723.6 C1180.4,726.6 1190.2,734.9 1195.4,741.6 C1200.7,748.4 1206.7,760.4 1208.9,764.1" fill="none" stroke="#9b9b9b" stroke-width="7" stroke-linecap="round" stroke-linejoin="round"/><path d="M1118.9,676.4 C1121.2,678.6 1129.4,685.4 1132.4,689.9 C1135.4,694.4 1136.2,701.1 1136.9,703.4" fill="none" stroke="#9b9b9b" stroke-width="7" stroke-linecap="round" stroke-linejoin="round"/><path d="M1087.4,746.1 C1089.7,749.1 1095.7,758.5 1100.9,764.1 C1106.2,769.7 1115.9,777.2 1118.9,779.8" fill="none" stroke="#9b9b9b" stroke-width="7" stroke-linecap="round" stroke-linejoin="round"/><path d="M1145.9,635.9 C1148.9,637.4 1158.7,644.1 1163.9,644.9 C1169.2,645.6 1175.2,641.1 1177.4,640.4" fill="none" stroke="#9b9b9b" stroke-width="7" stroke-linecap="round" stroke-linejoin="round"/></g></g><g filter="url(#wig6)"><g filter="url(#b4)"><path d="M1010.0,600.0 C1013.3,606.7 1024.2,625.0 1030.0,640.0 C1035.8,655.0 1042.5,681.7 1045.0,690.0" fill="none" stroke="#c1c1c1" stroke-width="9" stroke-linecap="round" stroke-linejoin="round"/><path d="M1000.0,690.0 C1002.5,698.3 1009.2,725.0 1015.0,740.0 C1020.8,755.0 1031.7,773.3 1035.0,780.0" fill="none" stroke="#c1c1c1" stroke-width="9" stroke-linecap="round" stroke-linejoin="round"/><path d="M1050.0,620.0 C1052.0,628.3 1060.3,653.3 1062.0,670.0 C1063.7,686.7 1060.3,711.7 1060.0,720.0" fill="none" stroke="#c1c1c1" stroke-width="9" stroke-linecap="round" stroke-linejoin="round"/><path d="M1040.0,730.0 C1043.3,736.7 1052.5,760.0 1060.0,770.0 C1067.5,780.0 1080.8,786.7 1085.0,790.0" fill="none" stroke="#c1c1c1" stroke-width="9" stroke-linecap="round" stroke-linejoin="round"/><path d="M1110.0,640.0 C1112.5,650.0 1123.3,680.0 1125.0,700.0 C1126.7,720.0 1120.8,750.0 1120.0,760.0" fill="none" stroke="#c1c1c1" stroke-width="9" stroke-linecap="round" stroke-linejoin="round"/><path d="M985.0,640.0 C987.5,650.0 996.2,680.0 1000.0,700.0 C1003.8,720.0 1006.7,750.0 1008.0,760.0" fill="none" stroke="#838383" stroke-width="8" stroke-linecap="round" stroke-linejoin="round"/><path d="M1075.0,600.0 L1090.0,650.0" fill="none" stroke="#838383" stroke-width="8" stroke-linecap="round" stroke-linejoin="round"/></g></g><g filter="url(#wig4)"><g filter="url(#b2)"><ellipse cx="1135.8" cy="250.2" rx="4.0" ry="3.1" fill="#838383" transform="rotate(0 1135.8 250.2)"/><ellipse cx="1129.0" cy="294.0" rx="4.0" ry="6.3" fill="#838383" transform="rotate(0 1129.0 294.0)"/><ellipse cx="1038.0" cy="350.2" rx="2.9" ry="5.8" fill="#838383" transform="rotate(0 1038.0 350.2)"/><ellipse cx="1096.4" cy="353.2" rx="3.4" ry="3.8" fill="#b2b2b2" transform="rotate(0 1096.4 353.2)"/><ellipse cx="1145.9" cy="355.9" rx="2.5" ry="4.3" fill="#808080" transform="rotate(0 1145.9 355.9)"/><ellipse cx="1152.6" cy="380.6" rx="16.2" ry="10.8" fill="#878787" transform="rotate(-15 1152.6 380.6)"/><ellipse cx="1100.9" cy="396.3" rx="4.9" ry="15.3" fill="#838383" transform="rotate(30 1100.9 396.3)"/><ellipse cx="1060.5" cy="413.2" rx="2.9" ry="3.4" fill="#b9b9b9" transform="rotate(0 1060.5 413.2)"/><ellipse cx="1140.3" cy="413.2" rx="2.9" ry="3.4" fill="#b9b9b9" transform="rotate(0 1140.3 413.2)"/><ellipse cx="1148.2" cy="424.4" rx="5.6" ry="3.1" fill="#9b9b9b" transform="rotate(-30 1148.2 424.4)"/><ellipse cx="1075.1" cy="441.3" rx="5.4" ry="5.4" fill="#c1c1c1" transform="rotate(0 1075.1 441.3)"/><ellipse cx="1069.4" cy="449.2" rx="10.1" ry="3.8" fill="#878787" transform="rotate(0 1069.4 449.2)"/><ellipse cx="1094.2" cy="444.7" rx="2.2" ry="2.2" fill="#878787" transform="rotate(0 1094.2 444.7)"/><ellipse cx="1014.4" cy="463.8" rx="6.7" ry="4.9" fill="#939393" transform="rotate(0 1014.4 463.8)"/><ellipse cx="1022.2" cy="469.4" rx="2.5" ry="2.5" fill="#b9b9b9" transform="rotate(0 1022.2 469.4)"/><ellipse cx="1060.5" cy="460.4" rx="9.0" ry="4.9" fill="#808080" transform="rotate(0 1060.5 460.4)"/><ellipse cx="1123.4" cy="459.3" rx="6.7" ry="4.5" fill="#7c7c7c" transform="rotate(0 1123.4 459.3)"/><ellipse cx="1284.2" cy="155.7" rx="3.4" ry="2.2" fill="#787878" transform="rotate(30 1284.2 155.7)"/><ellipse cx="1203.2" cy="245.7" rx="1.8" ry="1.8" fill="#616161" transform="rotate(0 1203.2 245.7)"/><ellipse cx="1224.6" cy="244.5" rx="1.8" ry="1.3" fill="#5d5d5d" transform="rotate(0 1224.6 244.5)"/><ellipse cx="1069.4" cy="387.3" rx="3.1" ry="9.0" fill="#747474" transform="rotate(15 1069.4 387.3)"/><ellipse cx="1186.4" cy="389.6" rx="2.2" ry="1.8" fill="#747474" transform="rotate(0 1186.4 389.6)"/><ellipse cx="1107.7" cy="376.1" rx="2.2" ry="6.7" fill="#747474" transform="rotate(10 1107.7 376.1)"/><ellipse cx="1161.6" cy="439.1" rx="10.1" ry="3.6" fill="#747474" transform="rotate(-25 1161.6 439.1)"/><ellipse cx="1188.6" cy="445.8" rx="9.0" ry="3.1" fill="#707070" transform="rotate(-30 1188.6 445.8)"/><ellipse cx="1132.4" cy="398.6" rx="3.1" ry="2.2" fill="#747474" transform="rotate(0 1132.4 398.6)"/><ellipse cx="1410.2" cy="129.9" rx="3.6" ry="2.5" fill="#787878" transform="rotate(20 1410.2 129.9)"/><ellipse cx="1641.8" cy="131.0" rx="4.0" ry="2.7" fill="#5d5d5d" transform="rotate(0 1641.8 131.0)"/><ellipse cx="1360.7" cy="193.9" rx="1.3" ry="1.3" fill="#595959" transform="rotate(0 1360.7 193.9)"/><ellipse cx="1152.6" cy="370.5" rx="9" ry="6" fill="#515151"/></g></g></g></g><g transform="translate(875,0)"><path d="M144.5,756.8 L146.4,761.5 L153,765.3 L156.8,770.1 L154.9,778.6 L156.8,782.4 L154,787.1 L153,794.7 L155.9,799.4 L156.8,802.2 L154,802.7" fill="none" stroke="#fff" stroke-width="1.4"/></g><g stroke="#fff" stroke-width="2.08" stroke-dasharray="2.08 3.43" fill="none"><line x1="1069.1" y1="103.1" x2="1069.1" y2="827.9"/><line x1="1214.8" y1="103.1" x2="1214.8" y2="827.9"/><line x1="1360.6" y1="103.1" x2="1360.6" y2="827.9"/><line x1="1506.3" y1="103.1" x2="1506.3" y2="827.9"/><line x1="1652.1" y1="103.1" x2="1652.1" y2="827.9"/><line x1="985.1" y1="203.1" x2="1710.1" y2="203.1"/><line x1="985.1" y1="348.8" x2="1710.1" y2="348.8"/><line x1="985.1" y1="494.6" x2="1710.1" y2="494.6"/><line x1="985.1" y1="640.3" x2="1710.1" y2="640.3"/><line x1="985.1" y1="786.1" x2="1710.1" y2="786.1"/></g></g><rect x="983.6" y="101.6" width="728.0" height="727.8" fill="none" stroke="#000" stroke-width="3.0"/><text x="1069.1" y="850.9" font-size="13.4" text-anchor="middle" font-weight="normal" fill="#000" >126°E</text><text x="1214.8" y="850.9" font-size="13.4" text-anchor="middle" font-weight="normal" fill="#000" >128°E</text><text x="1360.6" y="850.9" font-size="13.4" text-anchor="middle" font-weight="normal" fill="#000" >130°E</text><text x="1506.3" y="850.9" font-size="13.4" text-anchor="middle" font-weight="normal" fill="#000" >132°E</text><text x="1652.1" y="850.9" font-size="13.4" text-anchor="middle" font-weight="normal" fill="#000" >134°E</text><text x="975.0" y="207.9" font-size="13.4" text-anchor="end" font-weight="normal" fill="#000" >20°N</text><text x="975.0" y="353.6" font-size="13.4" text-anchor="end" font-weight="normal" fill="#000" >18°N</text><text x="975.0" y="499.4" font-size="13.4" text-anchor="end" font-weight="normal" fill="#000" >16°N</text><text x="975.0" y="645.1" font-size="13.4" text-anchor="end" font-weight="normal" fill="#000" >14°N</text><text x="975.0" y="790.9" font-size="13.4" text-anchor="end" font-weight="normal" fill="#000" >12°N</text><defs><linearGradient id="cbg" x1="0" y1="0" x2="0" y2="1"><stop offset="0" stop-color="#000"/><stop offset="1" stop-color="#fff"/></linearGradient><linearGradient id="cbc" x1="0" y1="0" x2="0" y2="1"><stop offset="0.0000" stop-color="#ffffff"/><stop offset="0.3333" stop-color="#ffffff"/><stop offset="0.3333" stop-color="#5e1a70"/><stop offset="0.3800" stop-color="#3355b0"/><stop offset="0.4040" stop-color="#2068d8"/><stop offset="0.4267" stop-color="#0080ff"/><stop offset="0.4700" stop-color="#40a8f0"/><stop offset="0.5180" stop-color="#80ffff"/><stop offset="0.5667" stop-color="#80ff80"/><stop offset="0.6113" stop-color="#ffff80"/><stop offset="0.6447" stop-color="#ffc040"/><stop offset="0.6867" stop-color="#ff8000"/><stop offset="0.7347" stop-color="#c05010"/><stop offset="0.7827" stop-color="#902010"/><stop offset="0.8000" stop-color="#800000"/><stop offset="1.0000" stop-color="#800000"/></linearGradient></defs><rect x="843.3" y="101.2" width="15.4" height="728.4" fill="url(#cbg)" stroke="#000" stroke-width="1.3"/><rect x="1718.6" y="101.2" width="15.2" height="728.4" fill="url(#cbc)" stroke="#000" stroke-width="1.3"/><text x="852.2" y="93.6" font-size="16.9" text-anchor="start" font-weight="normal" fill="#000" >°C</text><text x="1727.3" y="93.6" font-size="16.9" text-anchor="start" font-weight="normal" fill="#000" >°C</text><text x="865.6" y="161.5" font-size="16.9" text-anchor="start" font-weight="normal" fill="#000" >40</text><text x="865.6" y="215.6" font-size="16.9" text-anchor="start" font-weight="normal" fill="#000" >30</text><text x="865.6" y="269.7" font-size="16.9" text-anchor="start" font-weight="normal" fill="#000" >20</text><text x="865.6" y="323.8" font-size="16.9" text-anchor="start" font-weight="normal" fill="#000" >10</text><text x="865.6" y="377.9" font-size="16.9" text-anchor="start" font-weight="normal" fill="#000" >0</text><text x="865.6" y="432.0" font-size="16.9" text-anchor="start" font-weight="normal" fill="#000" >−10</text><text x="865.6" y="486.1" font-size="16.9" text-anchor="start" font-weight="normal" fill="#000" >−20</text><text x="865.6" y="540.2" font-size="16.9" text-anchor="start" font-weight="normal" fill="#000" >−30</text><text x="865.6" y="594.3" font-size="16.9" text-anchor="start" font-weight="normal" fill="#000" >−40</text><text x="865.6" y="648.4" font-size="16.9" text-anchor="start" font-weight="normal" fill="#000" >−50</text><text x="865.6" y="702.5" font-size="16.9" text-anchor="start" font-weight="normal" fill="#000" >−60</text><text x="865.6" y="756.6" font-size="16.9" text-anchor="start" font-weight="normal" fill="#000" >−70</text><text x="865.6" y="810.7" font-size="16.9" text-anchor="start" font-weight="normal" fill="#000" >−80</text><text x="1740.8" y="157.2" font-size="16.9" text-anchor="start" font-weight="normal" fill="#000" >40</text><text x="1740.8" y="205.7" font-size="16.9" text-anchor="start" font-weight="normal" fill="#000" >30</text><text x="1740.8" y="254.3" font-size="16.9" text-anchor="start" font-weight="normal" fill="#000" >20</text><text x="1740.8" y="302.8" font-size="16.9" text-anchor="start" font-weight="normal" fill="#000" >10</text><text x="1740.8" y="351.3" font-size="16.9" text-anchor="start" font-weight="normal" fill="#000" >0</text><text x="1740.8" y="399.9" font-size="16.9" text-anchor="start" font-weight="normal" fill="#000" >−10</text><text x="1740.8" y="448.4" font-size="16.9" text-anchor="start" font-weight="normal" fill="#000" >−20</text><text x="1740.8" y="496.9" font-size="16.9" text-anchor="start" font-weight="normal" fill="#000" >−30</text><text x="1740.8" y="545.4" font-size="16.9" text-anchor="start" font-weight="normal" fill="#000" >−40</text><text x="1740.8" y="594.0" font-size="16.9" text-anchor="start" font-weight="normal" fill="#000" >−50</text><text x="1740.8" y="642.5" font-size="16.9" text-anchor="start" font-weight="normal" fill="#000" >−60</text><text x="1740.8" y="691.0" font-size="16.9" text-anchor="start" font-weight="normal" fill="#000" >−70</text><text x="1740.8" y="739.6" font-size="16.9" text-anchor="start" font-weight="normal" fill="#000" >−80</text><text x="1740.8" y="788.1" font-size="16.9" text-anchor="start" font-weight="normal" fill="#000" >−90</text><rect x="108.6" y="903.5" width="750.4" height="749.5" fill="#fff"/><text x="83.4" y="925.1" font-size="13.4" text-anchor="end" font-weight="normal" fill="#000" >120</text><text x="83.4" y="990.1" font-size="13.4" text-anchor="end" font-weight="normal" fill="#000" >100</text><text x="83.4" y="1055.1" font-size="13.4" text-anchor="end" font-weight="normal" fill="#000" >80</text><text x="83.4" y="1120.1" font-size="13.4" text-anchor="end" font-weight="normal" fill="#000" >60</text><text x="83.4" y="1185.1" font-size="13.4" text-anchor="end" font-weight="normal" fill="#000" >40</text><text x="83.4" y="1250.1" font-size="13.4" text-anchor="end" font-weight="normal" fill="#000" >20</text><text x="83.4" y="1301.3" font-size="13.4" text-anchor="end" font-weight="normal" fill="#000" >20.0</text><text x="83.4" y="1343.7" font-size="13.4" text-anchor="end" font-weight="normal" fill="#000" >17.5</text><text x="83.4" y="1386.2" font-size="13.4" text-anchor="end" font-weight="normal" fill="#000" >15.0</text><text x="83.4" y="1428.6" font-size="13.4" text-anchor="end" font-weight="normal" fill="#000" >12.5</text><text x="83.4" y="1471.1" font-size="13.4" text-anchor="end" font-weight="normal" fill="#000" >10.0</text><text x="83.4" y="1513.5" font-size="13.4" text-anchor="end" font-weight="normal" fill="#000" >7.5</text><text x="83.4" y="1556.0" font-size="13.4" text-anchor="end" font-weight="normal" fill="#000" >5.0</text><text x="83.4" y="1598.4" font-size="13.4" text-anchor="end" font-weight="normal" fill="#000" >2.5</text><text x="83.4" y="1640.9" font-size="13.4" text-anchor="end" font-weight="normal" fill="#000" >0.0</text><text x="883.5" y="951.0" font-size="13.4" text-anchor="start" font-weight="normal" fill="#000" >1008</text><text x="883.5" y="1003.4" font-size="13.4" text-anchor="start" font-weight="normal" fill="#000" >1006</text><text x="883.5" y="1055.9" font-size="13.4" text-anchor="start" font-weight="normal" fill="#000" >1004</text><text x="883.5" y="1108.3" font-size="13.4" text-anchor="start" font-weight="normal" fill="#000" >1002</text><text x="883.5" y="1160.8" font-size="13.4" text-anchor="start" font-weight="normal" fill="#000" >1000</text><text x="883.5" y="1213.2" font-size="13.4" text-anchor="start" font-weight="normal" fill="#000" >998</text><text x="883.5" y="1265.6" font-size="13.4" text-anchor="start" font-weight="normal" fill="#000" >996</text><g stroke="#000" stroke-width="3.1"><line x1="96.7" y1="920.3" x2="107.1" y2="920.3"/><line x1="96.7" y1="985.3" x2="107.1" y2="985.3"/><line x1="96.7" y1="1050.3" x2="107.1" y2="1050.3"/><line x1="96.7" y1="1115.3" x2="107.1" y2="1115.3"/><line x1="96.7" y1="1180.3" x2="107.1" y2="1180.3"/><line x1="96.7" y1="1245.3" x2="107.1" y2="1245.3"/><line x1="96.7" y1="1296.5" x2="107.1" y2="1296.5"/><line x1="96.7" y1="1338.9" x2="107.1" y2="1338.9"/><line x1="96.7" y1="1381.4" x2="107.1" y2="1381.4"/><line x1="96.7" y1="1423.8" x2="107.1" y2="1423.8"/><line x1="96.7" y1="1466.3" x2="107.1" y2="1466.3"/><line x1="96.7" y1="1508.8" x2="107.1" y2="1508.8"/><line x1="96.7" y1="1551.2" x2="107.1" y2="1551.2"/><line x1="96.7" y1="1593.6" x2="107.1" y2="1593.6"/><line x1="96.7" y1="1636.1" x2="107.1" y2="1636.1"/><line x1="860.5" y1="946.2" x2="870.9" y2="946.2"/><line x1="860.5" y1="998.6" x2="870.9" y2="998.6"/><line x1="860.5" y1="1051.1" x2="870.9" y2="1051.1"/><line x1="860.5" y1="1103.5" x2="870.9" y2="1103.5"/><line x1="860.5" y1="1156.0" x2="870.9" y2="1156.0"/><line x1="860.5" y1="1208.4" x2="870.9" y2="1208.4"/><line x1="860.5" y1="1260.8" x2="870.9" y2="1260.8"/></g><text x="0.0" y="0.0" font-size="13.4" text-anchor="middle" font-weight="normal" fill="#000" transform="translate(39.5,1091) rotate(-90)">Wind</text><text x="0.0" y="0.0" font-size="13.4" text-anchor="middle" font-weight="normal" fill="#000" transform="translate(36,1466) rotate(-90)">ACE</text><text x="0.0" y="0.0" font-size="13.4" text-anchor="middle" font-weight="normal" fill="#000" transform="translate(942.5,1092) rotate(-90)">Pressure</text><path d="M141.4,1261.5 L162.2,1261.5 L182.9,1261.5 L203.7,1245.3 L224.5,1245.3 L245.2,1245.3 L266.0,1245.3 L286.8,1245.3 L307.6,1229.0 L328.3,1212.8 L349.1,1196.5 L369.9,1196.5 L390.6,1180.3 L411.4,1164.0" fill="none" stroke="#0000ff" stroke-width="5.2" stroke-linejoin="round" stroke-linecap="butt"/><path d="M411.4,1164.0 L599.9,944.3 L629.0,944.3 L658.5,920.0 L680.0,944.3 L718.5,944.3 L736.0,958.5 L759.8,976.8 L802.5,976.8 L817.5,982.3" fill="none" stroke="#0000ff" stroke-width="5.2" stroke-dasharray="5.2 8.58" stroke-linejoin="round"/><rect x="117.9" y="912.8" width="278.5" height="62.6" rx="4" fill="#fff" fill-opacity="0.8" stroke="#ccc" stroke-opacity="0.8" stroke-width="2.6"/><line x1="124.3" y1="928.3" x2="166.9" y2="928.3" stroke="#0000ff" stroke-width="5.2"/><text x="179.1" y="935.7" font-size="19.2" text-anchor="start" font-weight="normal" fill="#000" >Wind[max=45]</text><line x1="124.3" y1="957.3" x2="166.9" y2="957.3" stroke="#0000ff" stroke-width="5.2" stroke-dasharray="5.2 8.58"/><text x="179.1" y="964.7" font-size="19.2" text-anchor="start" font-weight="normal" fill="#000" >Wind Fore.[max=120]</text><path d="M141.4,920.0 L162.2,972.4 L182.9,972.4 L203.7,972.4 L224.5,972.4 L245.2,946.2 L266.0,946.2 L286.8,946.2 L307.6,998.6 L328.3,1024.9 L349.1,1051.1 L369.9,1156.0 L390.6,1208.4 L411.4,1260.8" fill="none" stroke="#1f77b4" stroke-width="5.2" stroke-linejoin="round" stroke-linecap="butt"/><rect x="629.9" y="912.8" width="218.3" height="33.5" rx="4" fill="#fff" fill-opacity="0.8" stroke="#ccc" stroke-opacity="0.8" stroke-width="2.6"/><line x1="636.3" y1="928.6" x2="678.9" y2="928.6" stroke="#1f77b4" stroke-width="5.2"/><text x="691.1" y="936.0" font-size="19.2" text-anchor="start" font-weight="normal" fill="#000" >Pres.[min=996]</text><path d="M141.4,1636.1 L162.2,1636.1 L182.9,1636.1 L203.7,1636.1 L224.5,1636.1 L245.2,1636.1 L266.0,1636.1 L286.8,1636.1 L307.6,1636.1 L328.3,1636.1 L349.1,1634.1 L369.9,1631.5 L390.6,1628.8 L411.4,1625.8" fill="none" stroke="#008000" stroke-width="5.2" stroke-linejoin="round"/><path d="M411.4,1625.8 C415.8,1624.6 428.9,1621.4 437.8,1618.7 C446.7,1616.0 456.2,1613.0 465.0,1609.5 C473.8,1606.0 481.4,1602.3 490.6,1597.6 C499.8,1592.8 510.3,1587.0 520.0,1581.0 C529.7,1575.0 538.6,1569.5 548.6,1561.7 C558.6,1553.9 568.8,1545.9 580.2,1534.3 C591.6,1522.7 604.9,1505.7 617.2,1492.1 C629.5,1478.5 640.1,1467.5 654.1,1452.5 C668.1,1437.5 687.4,1416.5 701.5,1402.4 C715.6,1388.3 725.3,1380.4 738.5,1368.1 C751.7,1355.8 767.5,1340.4 780.7,1328.6 C793.9,1316.8 811.5,1302.7 817.6,1297.5" fill="none" stroke="#008000" stroke-width="5.2" stroke-dasharray="5.2 8.58"/><rect x="117.9" y="1288.4" width="312.7" height="61.5" rx="4" fill="#fff" fill-opacity="0.8" stroke="#ccc" stroke-opacity="0.8" stroke-width="2.6"/><line x1="124.3" y1="1303.6" x2="166.9" y2="1303.6" stroke="#008000" stroke-width="5.2"/><text x="179.1" y="1311.0" font-size="19.2" text-anchor="start" font-weight="normal" fill="#000" >ACE[max=0.6075]</text><line x1="124.3" y1="1331.9" x2="166.9" y2="1331.9" stroke="#008000" stroke-width="5.2" stroke-dasharray="5.2 8.58"/><text x="179.1" y="1339.3" font-size="19.2" text-anchor="start" font-weight="normal" fill="#000" >ACE Fore.[max=20.0931]</text><rect x="108.6" y="903.5" width="750.4" height="375.0" fill="none" stroke="#000" stroke-width="3.1"/><rect x="108.6" y="1278.5" width="750.4" height="374.5" fill="none" stroke="#000" stroke-width="3.1"/><rect x="983.6" y="903.5" width="750.0" height="749.5" fill="#555555"/><clipPath id="axBR"><rect x="983.6" y="903.5" width="750.0" height="749.5"/></clipPath><g clip-path="url(#axBR)"><path d="M975.0,895.0 L1343.7,895.0 L1343.7,919.9 L1331.0,919.9 L1331.0,934.5 L1303.3,934.5 L1312.1,1079.3 L1298.2,1080.0 L1298.2,1093.8 L1284.2,1094.2 L1283.7,1108.7 L1269.9,1108.9 L1268.6,1080.0 L1253.1,1079.8 L1252.6,1065.3 L1238.2,1064.9 L1237.7,1050.0 L1207.1,1049.8 L1206.6,1035.4 L1193.3,1035.4 L1193.8,1049.8 L1150.5,1048.9 L1150.5,1063.4 L1122.3,1063.1 L1122.3,1077.8 L1108.3,1078.0 L1108.9,1106.4 L1096.0,1107.1 L1096.7,1135.5 L1083.2,1136.2 L1084.5,1178.6 L1070.1,1178.8 L1069.8,1164.9 L1055.0,1164.9 L1054.5,1150.0 L1039.0,1150.0 L1038.7,1135.3 L1024.3,1135.3 L1024.3,1149.3 L1011.2,1149.3 L1013.9,1207.7 L975.0,1207.0Z" fill="#888888"/><path d="M1242.2,1108.9 L1256.0,1108.9 L1256.0,1122.7 L1242.2,1122.7Z" fill="#888888"/><path d="M983,1627.5 L999.4,1627.5 L999.4,1641.9 L1029,1641.9 L1029,1653 L983,1653Z" fill="#888888"/></g><rect x="995.5" y="916.9" width="179.7" height="31.6" rx="5" fill="#000"/><text x="1002.2" y="938.6" font-size="20.8" text-anchor="start" font-weight="bold" fill="#fff" >WMG Count: 0</text><rect x="983.6" y="903.5" width="750.0" height="749.5" fill="none" stroke="#000" stroke-width="2.6"/></svg></body></html>
